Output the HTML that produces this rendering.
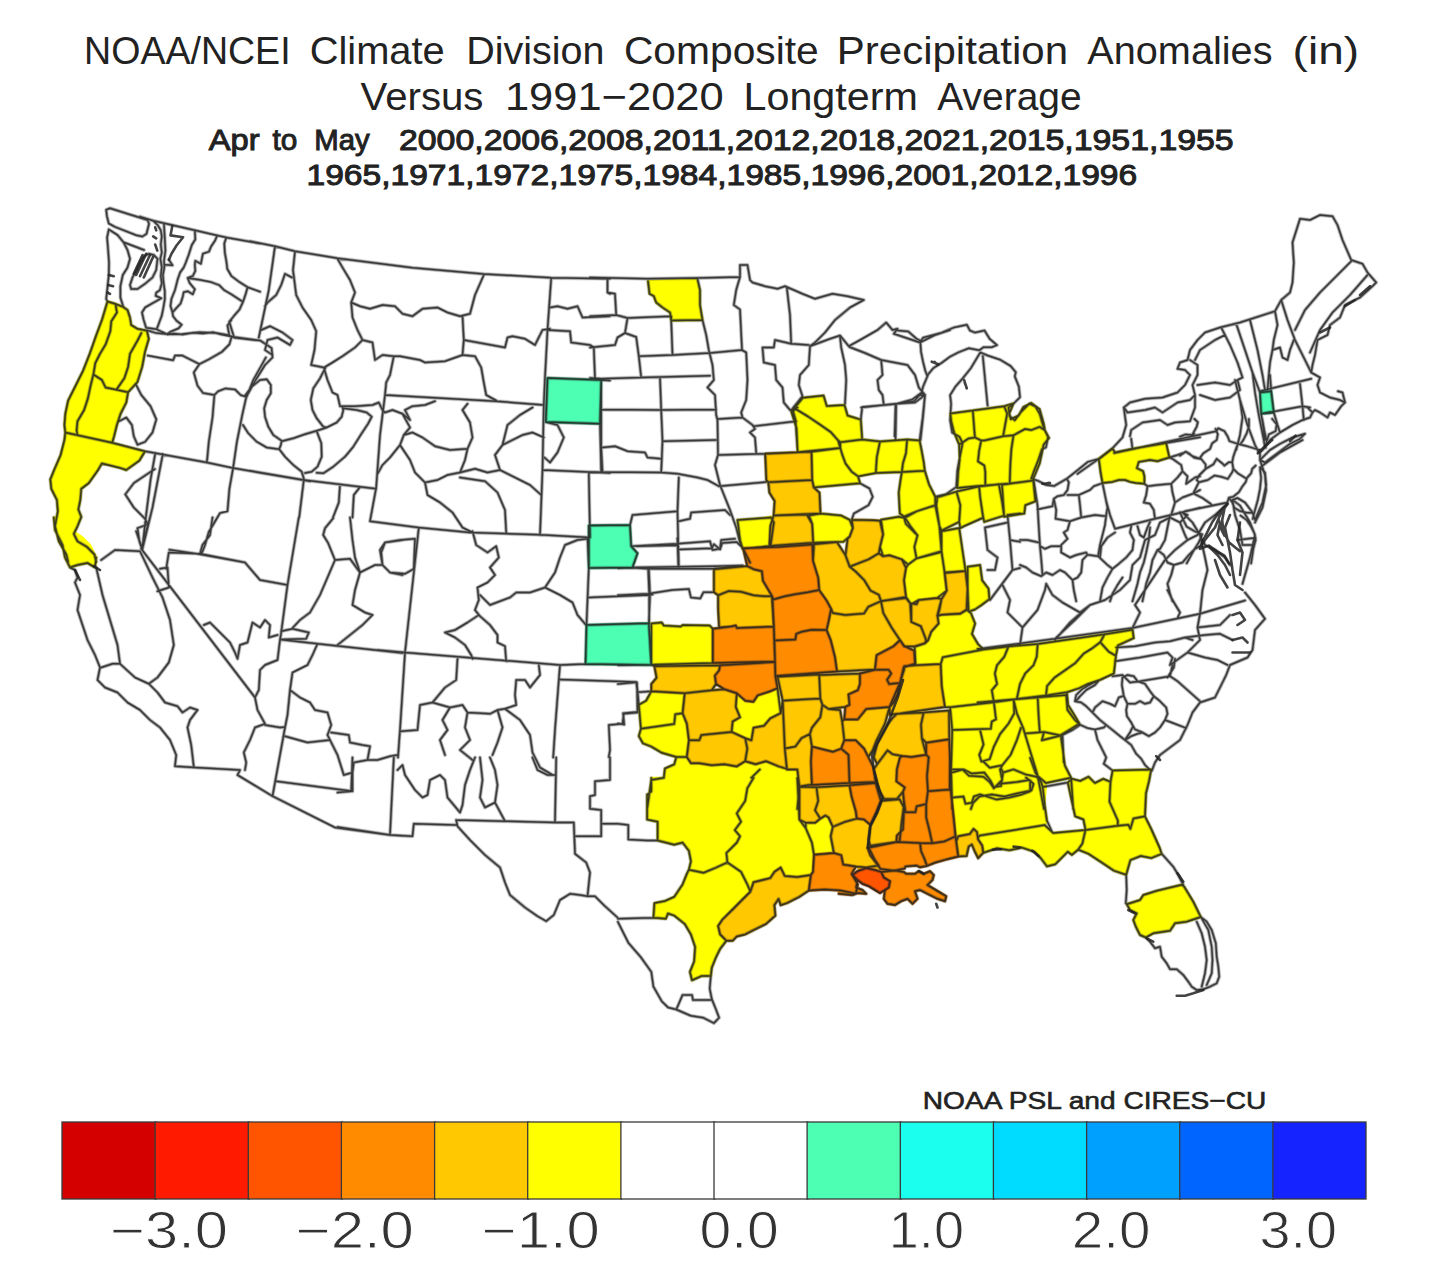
<!DOCTYPE html>
<html><head><meta charset="utf-8"><title>NOAA/NCEI Climate Division Composite Precipitation Anomalies</title>
<style>
html,body{margin:0;padding:0;background:#fff;}
body{width:1440px;height:1280px;overflow:hidden;font-family:"Liberation Sans",sans-serif;}
svg{display:block;position:absolute;left:0;top:0;}
text{font-family:"Liberation Sans",sans-serif;fill:#222;}
.ln{fill:none;stroke:#222;stroke-opacity:0.8;stroke-width:1.5;stroke-linejoin:round;stroke-linecap:round;}
.tk{fill:none;stroke:#222;stroke-opacity:0.85;stroke-width:2.6;stroke-linejoin:round;stroke-linecap:round;}
.t1{}
.t3{stroke:#222;stroke-width:1.0;}
.cb{fill:#333;stroke:#fff;stroke-width:0.9;}
.cr{stroke:#222;stroke-width:0.6;}
.lh{fill:none;stroke:#222;stroke-opacity:0.4;stroke-width:3;stroke-linejoin:round;stroke-linecap:round;}
.lg{fill:none;stroke:#222;stroke-opacity:0.12;stroke-width:4.4;stroke-linejoin:round;stroke-linecap:round;}
</style></head><body>
<svg width="1440" height="1280" viewBox="0 0 1440 1280">
<rect width="1440" height="1280" fill="#fff"/>
<g>
<g stroke="#3a3a3a" stroke-width="1.3">
<rect x="62" y="1122" width="94" height="77" fill="#d40000"/>
<rect x="155.1" y="1122" width="94" height="77" fill="#ff1a00"/>
<rect x="248.3" y="1122" width="94" height="77" fill="#ff5500"/>
<rect x="341.4" y="1122" width="94" height="77" fill="#ff8c00"/>
<rect x="434.6" y="1122" width="94" height="77" fill="#ffc800"/>
<rect x="527.7" y="1122" width="94" height="77" fill="#ffff00"/>
<rect x="620.9" y="1122" width="94" height="77" fill="#ffffff"/>
<rect x="714" y="1122" width="94" height="77" fill="#ffffff"/>
<rect x="807.1" y="1122" width="94" height="77" fill="#4dffb3"/>
<rect x="900.3" y="1122" width="94" height="77" fill="#1affee"/>
<rect x="993.4" y="1122" width="94" height="77" fill="#00dcff"/>
<rect x="1086.6" y="1122" width="94" height="77" fill="#00a0ff"/>
<rect x="1179.7" y="1122" width="94" height="77" fill="#0064ff"/>
<rect x="1272.9" y="1122" width="93.1" height="77" fill="#1423ff"/>
</g>
<text class="t1" xml:space="preserve" font-size="38.5" transform="translate(84.07,63.50) scale(0.9756,1)">NOAA/NCEI</text>
<text class="t1" xml:space="preserve" font-size="38.5" transform="translate(309.63,63.50) scale(1.0362,1)">Climate</text>
<text class="t1" xml:space="preserve" font-size="38.5" transform="translate(466.22,63.50) scale(1.0264,1)">Division</text>
<text class="t1" xml:space="preserve" font-size="38.5" transform="translate(623.88,63.50) scale(1.0594,1)">Composite</text>
<text class="t1" xml:space="preserve" font-size="38.5" transform="translate(836.72,63.50) scale(1.0922,1)">Precipitation</text>
<text class="t1" xml:space="preserve" font-size="38.5" transform="translate(1087.30,63.50) scale(1.0303,1)">Anomalies</text>
<text class="t1" xml:space="preserve" font-size="38.5" transform="translate(1292.61,63.50) scale(1.1961,1)">(in)</text>
<text class="t1" xml:space="preserve" font-size="38.5" transform="translate(360.60,110.00) scale(1.0440,1)">Versus</text>
<text class="t1" xml:space="preserve" font-size="38.5" transform="translate(504.91,110.00) scale(1.1291,1)">1991−2020</text>
<text class="t1" xml:space="preserve" font-size="38.5" transform="translate(743.48,110.00) scale(1.0720,1)">Longterm</text>
<text class="t1" xml:space="preserve" font-size="38.5" transform="translate(937.30,110.00) scale(1.0121,1)">Average</text>
<text class="t3" xml:space="preserve" font-size="30" transform="translate(208.75,150.00) scale(1.0870,1)">Apr</text>
<text class="t3" xml:space="preserve" font-size="30" transform="translate(272.50,150.00) scale(0.9896,1)">to</text>
<text class="t3" xml:space="preserve" font-size="30" transform="translate(314.30,150.00) scale(0.9773,1)">May</text>
<text class="t3" xml:space="preserve" font-size="30" transform="translate(398.99,150.00) scale(1.1279,1)">2000,2006,2008,2011,2012,2018,2021,2015,1951,1955</text>
<text class="t3" xml:space="preserve" font-size="30" transform="translate(306.51,184.80) scale(1.1194,1)">1965,1971,1972,1975,1984,1985,1996,2001,2012,1996</text>
<text class="cr" xml:space="preserve" font-size="24.5" transform="translate(922.70,1109.00) scale(1.1486,1)">NOAA PSL and CIRES−CU</text>
<text class="cb" xml:space="preserve" font-size="51" transform="translate(110.16,1248.00) scale(1.1701,1)">−3.0</text>
<text class="cb" xml:space="preserve" font-size="51" transform="translate(295.65,1248.00) scale(1.1753,1)">−2.0</text>
<text class="cb" xml:space="preserve" font-size="51" transform="translate(481.65,1248.00) scale(1.1753,1)">−1.0</text>
<text class="cb" xml:space="preserve" font-size="51" transform="translate(699.46,1248.00) scale(1.1194,1)">0.0</text>
<text class="cb" xml:space="preserve" font-size="51" transform="translate(888.75,1248.00) scale(1.0615,1)">1.0</text>
<text class="cb" xml:space="preserve" font-size="51" transform="translate(1071.67,1248.00) scale(1.1106,1)">2.0</text>
<text class="cb" xml:space="preserve" font-size="51" transform="translate(1259.51,1248.00) scale(1.0940,1)">3.0</text>

<!--MAP-->
<path fill="#ffff00" stroke="#ffff00" stroke-width="2.4" stroke-linejoin="round" d="M115,303.7 123.1,306.9 127.6,310.1 130,317.6 131.3,325.1 137.5,328.8 146.3,330.7 148.8,338.8 145,351.9 142.2,366.9 137.5,381.9 128.1,392.2 126.3,402.5 120.6,413.8 116.9,425 114.1,436.3 112.2,442.8 65.3,432.5 64.4,425 65.3,413.8 68.1,400.6 75.6,385.6 83.1,370.6 89.7,353.8 96.3,335 101.9,320 107.5,301.4ZM112.2,442.8 145,451.3 139.4,460.6 126.3,470 120.6,468.1 101.9,463.4 98.1,470 88.8,483.1 81.3,488.8 80.3,500 78.4,509.4 81.3,516.9 77.5,526.3 73.8,533.8 77.5,541.3 86.9,546.9 94.4,554.4 96.3,561.9 68.1,561.9 66.3,554.4 58.8,541.3 55,526.3 57.8,511.3 56.9,500 51.3,488.8 50.3,479.4 54.1,470 60.6,455 64.4,440 65.3,432.5ZM648,281.2 696.2,279.5 700,290 700,305 702.5,320 671.2,320.5 670,312.5 662.5,307.5 656.2,302.5 653.8,296.2 649.5,293.8ZM791.3,411.3 794.4,408.2 808,416.5 820.5,424.9 830.9,432.2 838.2,440.5 840.3,448 797.6,452.2 796.5,428ZM794.4,408.2 802.8,397.7 823.6,395.6 826.8,406.1 844.5,405 847.6,415.5 860.8,419.6 862.2,439.5 840.3,442.2 838.2,440.5 830.9,432.2 820.5,424.9 808,416.5ZM840.3,442.2 862.2,439.5 880,441.5 876.8,457.2 875.8,473.1 858.1,476.4 851.8,471.8 845.5,463.5 842.4,455.1 840.3,448ZM880,441.5 907.1,439.5 906,453 902.9,463.5 901.9,472 875.8,473.1 876.8,457.2ZM907.1,439.5 919.6,440.5 921.7,450.9 923.8,462.4 924.8,470.8 901.9,472 902.9,463.5 906,453ZM811.5,451.8 840.3,448 842.4,455.1 845.5,463.5 851.8,471.8 858.1,476.4 860.1,483.3 813.8,487.4 812.2,480.1ZM755.8,519.4 771.5,516.7 770.4,526 769.4,545.9 755.8,546.9ZM809,515.6 820.5,513.5 841.4,515.6 849.7,519.8 852.8,528.1 849.7,536.5 843.5,541.7 813.2,542.7 812.2,524ZM901.9,472 924.8,470.8 929,484.3 935.3,496.8 935.3,505.2 916.5,511.4 904,516.7 899.8,513.5 898.7,492.7 900.8,478.1ZM905,517.7 916.5,511.4 935.3,505.2 939.4,526 941.5,551.1 916.5,558.4 914.4,546.9 917.5,535.4 910.2,526ZM881,519.8 898.7,516.7 904,517.7 906,524 917.5,535.4 914.4,546.9 916.5,558.4 908.1,564.6 901.9,559.4 889.4,555.3 883.1,556.3 880,546.9 883.1,534.4ZM908.1,564.6 916.5,558.4 941.5,552.1 944.6,571.9 946.7,590.7 937.3,598 918.6,600.1 916.5,604.3 910.2,603.2 906,597 904,580.3 906,567.8ZM937.3,497.3 956.5,491.6 960.3,505.2 959.2,521.9 941.5,530.6 939.4,526 936.3,505.2ZM956.5,491.6 979.1,486.4 980.1,496.8 983.2,517.7 964.5,526 960.3,528.1 959.2,521.9 960.3,505.2ZM979.1,486.4 998.9,484.3 1002,501 1004.1,515.6 984.3,521.9 983.2,517.7 980.1,496.8ZM941.5,531.3 959.2,528.1 964.5,563.6 965.5,570.9 944.6,572.4 941.5,551.1ZM967.6,566.7 980.1,565.1 982.2,580.3 988.5,588.6 989.5,599.1 981.2,605.3 974.9,609.5 968.6,611.6 967.6,588.6ZM1002,484.7 1033.3,480.6 1035.4,501.4 1025.4,505.2 1024.3,513.5 1004.1,516.7ZM959.2,444.7 968.6,438.4 974.9,437.4 981.2,440.5 979.1,450.9 978,461.4 984.3,465.5 985.3,471.8 985.3,485.4 978,486 957.2,488.1 958.2,471.8 959.7,459.3ZM950.3,413.4 972.8,410.5 974.9,437.4 968.6,438.4 959.2,444.7 954,432.2 951.3,421.7ZM972.8,410.5 1004.1,406.3 1007.2,413.4 1003.1,436.3 984.3,440.5 981.2,440.5 974.9,437.4ZM1004.1,406.3 1013.5,403.4 1009.3,413.4 1010.8,419.2 1018.7,415.5 1023.3,407.1 1031.2,403 1039.6,409.2 1043.7,423.8 1044.8,430.1 1039.6,426.9 1031.2,430.1 1025,429 1013.5,435.3 1003.1,436.3 1007.2,413.4ZM984.3,440.5 1003.1,436.3 1013.5,435.3 1011.4,448.9 1010.4,463.5 1009.7,483.5 985.3,485.4 985.3,471.8 984.3,465.5 978,461.4 979.1,450.9 981.2,440.5ZM1013.5,435.3 1025,429 1031.2,430.1 1039.6,426.9 1044.8,430.1 1049,438 1043.7,444.7 1039.6,463.5 1033.7,477.6 1033.3,480.6 1009.7,483.5 1010.4,463.5 1011.4,448.9ZM651.3,623.5 661.7,622.4 663.8,625.5 680.5,626.6 682.6,625.1 709.7,625.5 712.8,628.7 712.8,663.1 651.3,664.8ZM651.3,691.3 684.7,693.3 682.6,713.2 675.3,714.2 674.2,724 640.9,728.8 638.8,704.8 646.1,700.7ZM736.8,693.3 745.2,700.7 753.5,701.7 757.7,695.4 770.2,691.3 777.5,688.1 780.7,713.2 770.2,718.4 764,725.7 753.5,727.8 751.4,740.3 745.2,738.2 731.6,731.9 732.7,721.5 740,717.3 735.8,706.9ZM640.9,728.8 674.2,724 675.3,714.2 682.6,713.2 686.8,723.6 688.9,740.3 686.8,757 676.3,757 661.7,752.8 651.3,746.6 643,743.4 638.8,736.1ZM647.1,809.1 651.3,779.9 663.8,777.8 664.9,768.5 674.2,764.3 676.3,757 686.8,757 690.9,763.2 699.3,763.2 711.8,765.3 724.3,764.3 736.8,766.4 745.2,761.2 755.6,764.3 759.8,769.5 749.4,779.9 745.2,790.4 743.1,809.1ZM759.8,769.5 755.6,764.3 766,761.2 778.6,766.4 786.9,768.9 797.3,769.5 799.4,786.6 797.3,809.1 743.1,809.1 745.2,790.4 749.4,779.9ZM914.6,646.8 925,643.3 928.2,640.1 931.3,631.8 938.6,623.5 937.6,616.2 941.5,614.7 960.3,613.6 966.8,609.9 970.9,613 975.1,623.5 972,633.9 978.2,644.3 983.5,649.5 942.8,657.3 940.7,664.1 915.6,665.2ZM942.8,657.3 983.5,649.5 1008.5,646.4 1004.3,656.8 997,665.2 994.9,673.5 997,684 991.8,690.2 993.9,702.3 950.1,707.3 944.9,706.9 941.7,686 940.7,664.1ZM1008.5,646.4 1037.7,643.9 1036.7,656.8 1033.5,665.2 1025.2,673.5 1020,684 1016.8,699 993.9,702.3 991.8,690.2 997,684 994.9,673.5 997,665.2 1004.3,656.8ZM1037.7,643.9 1104.5,634.3 1100.3,642.2 1091.9,648.5 1083.6,653.7 1075.3,663.1 1064.8,670.4 1054.4,677.7 1047.1,686 1046,695.4 1016.8,699 1020,684 1025.2,673.5 1033.5,665.2 1036.7,656.8ZM1104.5,634.3 1132.6,629.7 1133.7,638.1 1118,645.4 1115.9,655.8 1113.9,673.5 1100.3,679.8 1087.8,684 1079.4,688.1 1066.9,692.3 1046,695.4 1047.1,686 1054.4,677.7 1064.8,670.4 1075.3,663.1 1083.6,653.7 1091.9,648.5 1100.3,642.2ZM950.1,707.3 993.9,702.3 1016.8,699 1046,695.4 1066.9,692.3 1068,704.8 1073.2,713.2 1079.4,723.6 1071.1,728.8 1060.7,735.1 1062.7,748.6 1064.8,765.3 1071.1,777.8 1046,783.1 1044,809.1 952.2,809.1 951.1,769.5 952.2,729.9ZM753.5,777.9 747.3,788.3 745.2,800.9 736.8,813.4 741,821.7 734.8,830.1 740,836.3 736.8,842.6 726.4,853 727.4,862.4 716,867.6 703.5,872.8 688.9,869.7 690.9,861.4 688.9,850.9 682.6,842.6 674.2,844.7 657.6,840.5 657.6,821.7 647.1,819.6 647.1,794.6 651.3,791.5 651.3,777.9ZM753.5,777.9 797.3,777.9 799.4,819.6 805.7,828 811.9,842.6 814,855.1 813,871.8 810.9,874.9 797.3,877 784.8,876 780.7,867.6 774.4,871.8 770.2,878.1 753.5,882.2 750.4,891.6 747.3,884.3 741,871.8 727.4,862.4 726.4,853 736.8,842.6 740,836.3 734.8,830.1 741,821.7 736.8,813.4 745.2,800.9 747.3,788.3ZM688.9,869.7 703.5,872.8 716,867.6 727.4,862.4 741,871.8 747.3,884.3 750.4,891.6 743.1,898.9 732.7,909.4 722.2,919.8 718.1,926 720.1,934.4 726.4,940.7 720.1,949 716,957.3 711.8,967.8 710.8,976.1 701.4,976.1 692,980.3 689.9,971.9 694.1,961.5 695.1,946.9 690.9,934.4 684.7,924 674.2,915.6 668,913.5 665.9,918.7 653.4,917.7 654.4,903.1 664.9,901 674.2,896.8 682.6,884.3 686.8,873.9ZM805.7,822.8 815.1,822.8 820.3,818.6 825.5,815.5 828.6,817.6 832.8,826.9 830.7,836.3 833.9,853 814,854.7 811.9,842.6 805.7,828ZM949.9,757.9 1030.2,757.9 1035.4,772.5 1040.7,780.9 1042.7,787.1 1044.8,805.9 1046.9,820.5 1044.8,825.1 980.1,835.5 978.1,837.2 977,832 973.5,828.9 969.7,834.1 958.2,836.2 956.2,841.4 954.1,822.6 950.9,791.3ZM978.1,839.3 978.1,837.2 980.1,835.5 1044.8,825.1 1053.2,833 1085.5,829.9 1082.4,843.5 1078.2,849.7 1071.9,854.9 1067.8,851.8 1055.3,864.3 1046.9,866.4 1040.7,858.1 1034.4,851.8 1021.9,847.6 1009.4,850.3 996.8,848.3 983.3,852.8 982.2,845.5ZM1085.5,829.9 1117.8,825.7 1128.3,824.7 1130.4,828.9 1133.5,818.4 1145,816.3 1151.2,828.9 1159.6,847.6 1161.7,853.9 1151.2,858.1 1140.8,856 1130.4,860.1 1126.2,874.8 1113.7,870.6 1101.2,862.2 1088.6,853.9 1078.2,849.7 1082.4,843.5ZM1067.8,782.5 1071.9,778.8 1080.3,780.9 1088.6,776.7 1094.9,783 1103.2,778.8 1110.5,781.9 1109.5,801.7 1117.8,820.5 1117.8,825.7 1085.5,829.9 1083.4,819.5 1075.1,816.3ZM1110.5,781.9 1112.6,770.4 1151.2,769.4 1149.1,780.9 1146,793.4 1145,816.3 1133.5,818.4 1130.4,828.9 1128.3,824.7 1117.8,825.7 1117.8,820.5 1109.5,801.7ZM737.5,520 771,517.5 773.8,522.5 770.5,546 742.5,548.8 740,540ZM72.5,517.5 75,532.5 82.5,537.5 90,545 96.2,557.5 95,567.5 87.5,563 77.5,565 70,567.5 65,557.5 62.5,545 55,530 53.8,517.5ZM1126.7,904.2 1140,900 1143.3,895 1156.7,890.8 1181.7,884.7 1184.2,886.7 1193.3,901.7 1200.8,917 1186.7,921.7 1175,923.3 1170,930.8 1153.3,933.3 1145.8,937.5 1140,935 1135.8,926.7 1133.3,920 1136.7,913.3 1130,910ZM1098.8,458.8 1112.5,448.5 1115,452.5 1132.5,448.8 1166.2,443.1 1169.4,457.5 1161.2,460 1157.5,461.2 1150,460 1138.8,461.9 1136.9,468.1 1143.1,471.2 1144.4,476.2 1144.4,483.8 1136.2,483.1 1130,481.9 1125,480 1118.8,480 1112.5,481.9 1102.5,483.1 1100.6,472.5Z"/>
<path fill="#4dffb3" stroke="#4dffb3" stroke-width="2.4" stroke-linejoin="round" d="M547.5,378 601.2,380 600,423.8 545.8,422ZM1260,392.5 1271.2,391.2 1273.8,412.5 1261.2,413.8ZM588.8,525.5 630,525 631.2,546.2 637.5,553.2 632.5,567.5 588.8,568ZM586.5,625 648.8,623.2 651.2,665 585.5,664Z"/>
<path fill="#ffc800" stroke="#ffc800" stroke-width="2.4" stroke-linejoin="round" d="M765.2,453.6 811.5,451.8 812.2,480.1 768.3,482.2 766.3,480.1ZM768.3,482.2 812.2,480.1 813.8,487.4 819.5,492.7 820.5,513.5 773.6,515.6 774.6,501 769.4,492.7ZM773.6,515.6 806.9,514.6 812.2,524 813.2,542.7 769.4,545.9 770.4,526ZM851.8,519.8 873.7,520.2 880,520.8 883.1,534.4 880,546.9 878.9,553.2 868.5,559.4 849.7,566.7 845.5,555.3 847.6,538.6 849.7,536.5 852.8,528.1ZM849.7,566.7 868.5,559.4 878.9,553.2 883.1,556.3 889.4,555.3 901.9,559.4 906,567.8 904,580.3 906,597 881,601.2 878.9,594.9 870.6,590.7 864.3,580.3 856,571.9ZM944.6,573 965.5,570.9 967.6,588.6 966.6,609.5 960.3,613.7 941.5,614.7 937.3,615.8 941.5,599.1 946.7,590.7ZM713.9,569.2 747.3,566.1 753.5,569.2 761.9,571.3 762.9,580.7 771.9,595.9 764,596.3 753.5,595.3 741,591.7 728.5,591.1 718.1,595.3 713.9,592.2ZM718.1,595.3 728.5,591.1 741,591.7 753.5,595.3 764,596.3 771.9,595.9 773.8,626.6 736.8,628 735.8,625.5 730.6,626.6 719.1,627.6 718.1,608.9ZM814,544.2 837,542.1 845.5,555.2 849.7,566.7 856,571.9 864.3,580.3 870.6,590.7 878.9,594.9 881,601.1 868.3,606.8 864.1,613.4 845.3,615.1 832.8,613 831.1,608.9 826.6,600.5 819.2,590.1 818.2,577.6 813,560.9ZM832.8,613 845.3,615.1 864.1,613.4 868.3,606.8 881,601.1 883.3,613 891.6,627.6 900,640.1 893.3,646.4 876.6,655.2 875,669.4 837,671.4 834.9,656.8 830.7,640.1 826.6,630.1 828.6,621.4 831.1,608.9ZM777.5,676.7 819.2,674.6 820.3,698.6 801.5,699.6 782.7,700.7ZM819.2,675 859.9,673.5 859.9,684 857.8,690.2 848.5,694.4 849.5,704.8 845.3,706.9 828.6,709 822.4,704.8 820.3,698.6ZM782.7,700.7 801.5,699.6 820.3,698.6 822.4,704.8 820.3,717.3 811.9,727.8 809.9,734 801.5,738.2 795.3,746.6 784.8,748.6ZM822.4,704.8 828.6,709 840.1,710 842.2,721.5 844.3,740.3 841.2,748.6 832.8,751.8 811.9,746.6 809.9,734 811.9,727.8 820.3,717.3ZM844.3,719.4 857.8,719.4 866.2,709 889.6,706.9 885,723.6 876.6,740.3 872.5,750.7 868.3,757 864.1,748.6 855.8,740.3 844.3,740.3 842.2,721.5ZM784.8,748.6 795.3,746.6 801.5,738.2 809.9,734 811.9,746.6 810.9,761.2 811.9,784.5 799.4,786.6 797.3,769.5 786.9,769.5ZM654.4,666.2 720.1,665.2 719.1,670.4 714.9,675.6 716,684 711.8,690.2 684.7,693.3 651.3,691.3 651.3,684 656.5,677.7ZM684.7,693.3 711.8,690.2 724.3,689.2 736.8,693.3 735.8,706.9 740,717.3 732.7,721.5 731.6,731.9 701.4,735.1 699.3,740.3 688.9,740.3 686.8,723.6 682.6,713.2ZM688.9,740.3 699.3,740.3 701.4,735.1 731.6,731.9 745.2,738.2 747.3,748.6 745.2,761.2 736.8,766.4 724.3,764.3 711.8,765.3 699.3,763.2 690.9,763.2 686.8,757ZM751.4,740.3 753.5,727.8 764,725.7 770.2,718.4 780.7,713.2 782.7,700.7 784.8,748.6 786.9,768.9 778.6,766.4 766,761.2 755.6,764.3 745.2,761.2 747.3,748.6 745.2,738.2ZM881,601.1 906.1,598 910.2,603.2 911.3,622 920.7,626.2 923,631.8 926.1,640.1 925,643.3 914.6,646.4 904.2,646.4 900,640.1 891.7,627.6 883.3,613ZM911.3,604.3 918.6,600.1 937.3,598 941.5,599 939.6,608.9 937.6,616.2 938.6,623.5 931.3,631.8 928.2,640.1 925,643.3 926.1,640.1 923,631.8 920.9,626.2 911.3,622ZM904.2,666.2 915.6,665.2 940.7,664.1 941.7,686 944.9,706.9 900,713.6 889.6,714.8 889.6,706.9 900,682.9 904.2,669.4ZM750.4,891.6 753.5,882.2 770.2,878.1 774.4,871.8 780.7,867.6 784.8,876 797.3,877 810.9,874.9 808.8,890.6 799.4,896.8 786.9,903.1 780.7,905.2 778.6,898.9 774.4,905.2 775.4,915.6 766,924 753.5,930.2 745.2,934.4 736.8,936.5 732.7,940.7 726.4,940.7 720.1,934.4 718.1,926 722.2,919.8 732.7,909.4 743.1,898.9ZM799.4,786.7 816.5,787.3 818.2,800.9 815.1,810.3 820.3,818.6 815.1,822.8 805.7,822.8 799.4,819.6ZM816.5,787.3 849.5,785.2 851.6,796.7 855.8,811.3 856.8,818.6 845.3,821.7 832.8,826.9 828.6,817.6 825.5,815.5 820.3,818.6 815.1,810.3 818.2,800.9ZM832.8,826.9 845.3,821.7 856.8,818.6 864.1,819.6 870.4,824.9 868.3,846.8 874.5,859.3 878.7,865.5 866.2,867.6 855.8,866.6 843.2,864.5 841.2,855.1 833.9,853 830.7,836.3ZM870.4,824.9 876.6,811.3 880.8,800.9 899.6,799.2 903.7,807.1 901.7,821.7 899.6,841.5 868.3,847.2ZM956.2,841.4 958.2,836.2 969.7,834.1 973.5,828.9 977,832 978.1,839.3 982.2,845.5 983.3,852.8 978.1,858.1 974.9,851.8 971.8,844.5 968.7,846.6 966.6,856 958.2,856.4ZM896.9,713.8 923.6,712.6 921,724.7 921.9,738.4 926.2,754.7 911.5,757 902.1,755.9 892.6,754.2 887.5,750.4 877.2,764.2 873.7,757.3 877.2,743.6 887.5,724.7 892.6,717.8ZM923.6,712.6 949,710.6 949.3,739.3 926.2,742.7 921.9,738.4 921,724.7ZM877.2,764.2 887.5,750.4 892.6,754.2 902.1,755.9 899.9,757.7 896.9,769.3 896.4,781.4 904.7,787.4 903,791.7 896.9,798.9 884.1,798.9 878.9,790 873.7,769.3ZM882.3,798.9 896.9,798.9 903,791.7 903.8,800.3 903.8,812.3 903,829.5 896.9,835.5 896.4,841.9 870.3,845.8 868.6,839.8 870.3,826 877.2,812.3ZM858.3,820.9 868.6,826 866.9,846.7 870.3,855.3 875.5,862.1 880.6,869 873.7,867.3 858.3,869Z"/>
<path fill="#ff8c00" stroke="#ff8c00" stroke-width="2.4" stroke-linejoin="round" d="M712.8,628.7 730.6,626.6 735.8,625.5 736.8,628 773.8,626.6 775,661.4 712.8,663.1ZM743.1,548.3 778.6,546.9 812.4,544.6 813,560.9 818.2,577.6 819.2,590.1 807.8,592.2 795.3,594.2 784.8,596.3 773.3,599.5 771.9,595.9 762.9,580.7 761.9,571.3 753.5,569.2 747.3,566.1ZM773.3,599.5 784.8,596.3 795.3,594.2 807.8,592.2 819.2,590.1 826.6,600.5 831.1,608.9 828.6,621.4 826.6,630.1 811.9,629.7 801.5,631.8 796.3,633.9 795.3,639.5 774.4,640.6 773.8,626.6 772.5,599.5ZM774.4,640.6 795.3,639.5 796.3,633.9 801.5,631.8 811.9,629.7 826.6,630.1 830.7,640.1 834.9,656.8 837,671.4 775.4,676 775,661.4ZM876.6,655.2 893.3,646.4 900,640.1 904.2,646 914.2,650.6 915,663.7 903.7,667.3 900,682.9 889.1,684 887.1,679.8 891.2,673.5 888.7,669.8 875,669.4ZM859.9,673.5 875,669.8 888.7,669.8 891.2,673.5 887.1,679.8 889.1,684 900,682.9 897.5,694.4 893.3,702.7 889.6,706.9 866.2,709 857.8,719.4 844.3,719.4 845.3,706.9 849.5,704.8 848.5,694.4 857.8,690.2 859.9,684ZM811.9,746.6 832.8,751.8 841.2,748.6 848.5,754.9 849.5,783.1 811.9,785.1 810.9,761.2ZM841.2,748.6 844.3,740.3 855.8,740.3 864.1,748.6 868.3,757 873.5,767.4 875.6,782 849.5,783.1 848.5,754.9ZM720.1,665.2 775,662.1 775.4,676 777.5,688.1 770.2,691.3 757.7,695.4 753.5,701.7 745.2,700.7 736.8,693.3 724.3,689.2 716,684 714.9,675.6 719.1,670.4ZM849.5,785.2 875.6,783.1 880.8,800.9 876.6,811.3 870.4,824.9 864.1,819.6 856.8,818.6 855.8,811.3 851.6,796.7ZM814,854.7 833.9,853 841.2,855.1 843.2,864.5 855.8,866.6 851.6,873.9 857.8,884.3 855.8,893.7 841.2,890.6 824.5,889.5 808.8,890.6 810.9,874.9 813,871.8ZM926.2,742.7 949.3,739.3 949.9,757.8 949.7,789.6 927.9,791.3 927,776.2 928.7,757.3 926.2,754.7ZM902.1,755.9 911.5,757 926.2,754.7 928.7,757.3 927,776.2 927.9,791.3 926.2,804.1 916.7,806.3 915.3,812.3 905.5,812 903.8,800.3 903,791.7 904.7,787.4 896.4,781.4 896.9,769.3 899.9,757.7ZM927.9,791.3 949.7,789.6 950.9,791.3 954.2,822.6 955.4,836.4 944.2,841.5 932.2,843.2 929.6,831.2 926.2,817.5 926.2,804.1ZM905.5,812 915.3,812.3 916.7,806.3 926.2,804.1 926.2,817.5 929.6,831.2 932.2,843.2 920.1,842.9 896.4,841.9 896.9,835.5 903,829.5 903.8,812.3ZM920.1,842.9 932.2,843.2 944.2,841.5 955.4,836.4 956.2,841.3 958.3,856.5 945.9,859.6 935.6,862.5 927,865.9 924.4,858.7 921,851ZM867.7,848 896.4,841.9 920.1,842.9 921,851 924.4,858.7 927,865.9 920.1,867.3 916.7,865.6 905.5,866.4 904.7,868.5 894.4,870.7 880.6,869 875.5,862.1 870.3,855.3ZM881.2,871.9 895,870.6 903.8,871.9 906.2,873.8 915,873.8 918.8,871.2 923.8,873.8 930,871.2 933.8,875 932.5,880 927.5,885 940,892.5 946.2,896.2 945,901.2 937.5,898.8 927.5,893.8 920,890 915,891.2 917.5,898.8 912.5,903.8 907.5,898.8 901.2,901.2 895,905 887.5,903.8 883.8,898.8 885,890 888.8,887.5 890,881.2 883.8,877.5ZM842.5,865 851.2,867.5 852.5,875 857.5,880 856.2,887.5 862.5,890 866.2,893.8 857.5,893.1 852.5,895 838.8,893.8 838.8,875Z"/>
<path fill="#ff5500" stroke="#ff5500" stroke-width="2.4" stroke-linejoin="round" d="M852.5,875 857.5,871.2 866.2,868.1 875,870 881.2,871.9 883.8,877.5 890,881.2 888.8,887.5 885,890 880,893.1 875,890 868.8,886.2 862.5,883.8 857.5,880Z"/>
<path class="lg" d="M106.2,209.8 110,208.2 127.5,213.8 147.5,220 149,223.8 146.5,233.8 142.5,236.5 136.2,235.2 115,226.9 108.8,223.5 106.9,216.2ZM108.8,229.4 107.1,237.5 108.1,250 109,262.5 108.8,275 107.5,287.5 106.2,298.8 107.5,301.5M108.8,229.4 117.5,235 123.5,242.2 127.5,250 130,258.8 127.5,267.5 122.8,275 120.4,286.2 120.4,297.5 123.1,306.2M131.2,289 130,285 132.5,277.5 136.5,270 140.2,262.5 144,256.2 148.8,253.8 153.8,255 157.5,258.8 156.2,270 152.5,277.5 145,283.8 137.5,289ZM123.5,242.2 137.5,247.5 144,250M107.5,301.5 115,303.8 123.1,306.9 127.5,310 130,317.5 131.2,325 137.5,328.8 146.2,330.6M140,216.6 153.2,220.7 194.8,230.3 217.2,235.4 226.3,237.4 260,243.5M153.2,220.7 157.8,225.2 160.8,230.3 161.8,236.4 160.8,244.5 161.8,252.6 160.3,258.7 161.8,266.9 160.8,276 161.8,283.1 159.8,290.2 156.2,292.7 155.7,295.8 161.3,298.3 152.2,303.4 145.1,307.5 142,312.5 143.6,319.6 146.1,327.8M163.9,223.2 164.6,235.4 165.4,250.6 164,260.8 164.4,266.9 162.9,275 163.6,283.1 164.8,291.2 164.8,299.3 163.4,307.5 161.8,315.6 159.1,322.7 156.8,329M168.9,259.7 172.5,265.3 165.4,264.8M194.8,230.3 195.3,239.4 191.8,245 188.7,254.7 185.7,262.8 183.7,267.5 180.1,272.5 177.5,280.1 175,290 171.5,298.7 170.5,305.9 172.5,312.5M217.2,235.4 215.1,240.5 211.1,246.5 209,251.6 202.9,253.7 201.9,258.7 200.9,263.8 195.3,260.8 194.8,264.8 195.3,270.9 192.8,276 187.7,278 189.7,283.1 194.8,289.2 192.8,294.3 187.7,291.2 183.7,292.2 182.6,297.3 180.6,303.4 175.5,309 172.5,312.5 173,316.1 176.5,320.7 181.6,324.7 178.6,328.3 170.5,331.8 167.4,334.1M226.3,237.4 224.3,243.5 224.8,252.6 226.3,260.8 227.3,268.9 231.4,276 239.5,282.1 247.6,287.2 260,291.7M247.6,287.2 245.6,294.3 243,301.9M187.7,278 200.9,280.1 211.1,282.1 219.2,285.1 224.3,290.2 231.4,294.3 243,301.9 239.5,309.5 233.4,316.6 229.3,321.7 231.4,328.8 233.9,336.9M146.1,327.8 156.8,329.3 161.8,331.8 167.4,334.4 173.5,333.4 182.6,334.4 192.8,332.8 202.9,333.4 213.1,332.3 221.2,334.4 233.9,336.9 260,340.5M107.5,301.4 101.9,320 96.3,335 89.7,353.8 83.1,370.6 75.6,385.6 68.1,400.6 65.3,413.8 64.4,425 65.3,432.5 64.4,440 60.6,455 54.1,470 50.3,479.4 51.3,488.8 56.9,500 57.8,511.3 55,526.3 58.8,541.3 66.3,554.4 68.1,561.9M65.3,432.5 112.2,442.8 145,451.3 206.9,462.5 233.1,468.1 304.4,480.3 310,481.3M115.6,304.4 116.9,312.5 111.3,321.3 110.3,331.3 105.6,344.4 100,353.8 95.3,363.1 93.4,374.4 101.9,380 105.6,387.5 115,389.4 128.1,392.2M93.4,374.4 90.6,385.6 87.8,398.8 84.1,410 77.5,421.3 76.6,430.6 77.5,434.8M141.3,333.1 137.5,340.6 130,353.8 128.1,366.9 124.4,378.1 116.9,389M146.9,330.3 148.8,338.8 145,351.9 142.2,366.9 137.5,381.9 128.1,392.2 126.3,402.5 120.6,413.8 116.9,425 114.1,436.3 112.2,442.8M146.9,330.3 156.3,333.1 169.4,334.3 182.5,334.1 199.4,332.2 216.3,333.1 227.5,335 235,337.8 260.3,340.6M229.4,335.9 227.5,325.6 231.3,320M147.8,355.6 173.1,360.3 175,355.6 182.5,355.6 199.4,364.1 208.8,359.4 221.9,351.9 229.4,344.4 231.3,337.8M199.4,364.1 193.8,372.5 197.5,385.6 203.1,393.1 214.4,395 218.1,391.3 225.6,388.4 235,389.4 240.6,395 246.3,396.9M260.3,340.6 271.6,348.1 272.5,357.5 265,365 255.6,380 246.3,396.9 242.5,413.8 236.9,441.9 233.1,468.1M214.4,395 212.5,417.5 208.8,441.9 206.9,462.5M135.6,383.8 141.3,395 150.6,406.3 156.3,419.4 152.5,432.5 145,441.9 137.5,444.7 133.8,436.3 131.9,425 126.3,417.5 118.8,421.3M145,451.3 139.4,460.6 126.3,470 120.6,468.1 101.9,463.4 98.1,470 88.8,483.1 81.3,488.8 80.3,500 78.4,509.4 81.3,516.9 77.5,526.3 73.8,533.8 77.5,541.3 86.9,546.9 94.4,554.4 96.3,561.9M162.8,454.1 152.5,507.5 142.2,549.7M155.3,453.1 150.6,479.4 145.9,516.9 142.2,549.7M125.3,494.4 133.8,483.1 145,475.6 154.8,469.1M125.3,494.4 133.8,507.5 145,518.8 147.8,524.4M147.8,524.4 137.5,528.1 139.4,541.3 142.2,549.7M233.1,468.1 229.4,488.8 227.5,511.3 220,513.1 214.4,522.5 208.8,531.9 205,545 201.3,554.4M169.4,549.7 201.3,554.4 242.5,561.9M250,241.2 275,246.2 295,251.2 337.5,258.2 412.5,267.8 483.8,274 551.2,277.8 610,278.8M275,246.2 268.8,290 258.8,337.5M295,251.2 293,270 296.2,295 302.5,307.5 311.2,320 316.2,331.2 314.5,350 311.2,365 323.8,367.5 327.5,380 332.5,392.5 337.5,395 340,406.2 355,406.2 372.5,405 378.8,402.5 382.5,410 385,412.5M292,277.5 285,273.8 281.2,285 276.2,295 267.5,302.5 265,306.2M261.2,330 270,326.2 282.5,332.5 292.5,340 290,345 277.5,337.5 267.5,340 265,350 272.5,355M337.5,258.8 342.5,267.5 350,280 355,292.5 351.2,302.5 352.5,317.5 357.5,330 362.5,340 355,347.5 342.5,356.2 332.5,362.5 325,367M351.2,302.5 360,306.2 370,308.8 382.5,305 395,306.2 402.5,313.8 412.5,316.2 422.5,308.8 437.5,307.5 447.5,312.5 460,316.2 470,313.8 475,295 483.8,275M362.5,340 372.5,342.5 375,360 382.5,355 393.8,356.2 400,356.2 420,360 425,362.5 445,361.2 462.5,355 463.8,340 462.5,316.2M393.8,356.2 390,375 386.2,382.5 385,395M463.8,340 505,347.5 507.5,337.5 512.5,336.2 525,338.8 535,345 542.5,330 550,328.8M462.5,355 475,356.2 481.2,367.5 483.8,382.5 486.2,395 496.2,400.5M385,395 496.2,401.2 543.8,405M551.2,278 547.5,330 545,377.5 543.8,405 542.5,470 540,535M370,521.2 418.2,527.5 470,532.5 540,534.8 590,537.5M385,395 380,435 376.2,487.5 370,521.2M250,470.8 303.8,480 376.2,488.8M385,412.5 392.5,410 402.5,413.8 410,420 405,410 412.5,406.2 425,405 435,401.2M467.5,403.8 462.5,410 470,422.5 472.5,437.5 467.5,448.8 450,450 435,446.2 422.5,437.5 412.5,432.5 403.8,435 400,445 390,457.5 382.5,465 377.5,473.8M402.5,413.8 410,427.5 403.8,435M400,445 410,460 415,472.5 425,482.5 437.5,480 447.5,475 460,472.5 465,460 467.5,448.8M425,482.5 427.5,495 440,502.5 452.5,512.5 462.5,527.5 472.5,532.5M460,472.5 475,468.8 487.5,472.5 500,470 515,477.5 530,485 541.2,495M460,477.5 485,481.2 497.5,492.5 505,510 506.2,532.5M500,470 495,455 502.5,445 522.5,435 532.5,432.5 543.8,437.5M502.5,445 507.5,425 520,415 532.5,407.5M547.5,378 601.2,380 600,423.8 545.8,422ZM545.8,422 557.5,425 563.8,437.5 557.5,452.5 550,462.5 544.5,457.5M543,470 600,472.5 610,473M601.2,380 610,380.5M600,423.8 601.2,472.5M588.8,472.5 590,537M550,307.5 557.5,306.2 567.5,308.8 577.5,306.2 582.5,317.5 610,316.2M547.5,330 570,331.2 571.2,342.5 590,345 593.8,347.5 595,379M607.5,278.8 607.5,292.5 610,293.8M303.8,480 299.2,517.5M340,484.5 338.8,502.5 333,517.5M360,487 353.8,495 352.5,517.5M590,277.5 647.5,278.8 697.5,278 740,277 740,265 747.5,265 750,280 752.5,282.5 765,286.2 777.5,288.8 785,286.2 802.5,293.8 815,298.8 832.5,293.8 847.5,296.2 863.8,300 850,307.5 835,320 825,332.5 815,342.5 810,346.2M697.5,278.8 700,290 700,305 702.5,320 706.2,335 708.8,350 710,355 712.5,365 713.8,380 707.5,387.5 715,395 716.2,415 717.5,420 718,455 715,465 720,485 725,497.5 730,510 736.2,527.5 740,542.5 745,552.5 750,562.5M590,316.2 616.2,315 627.5,318 671.2,316.2 671.2,320.5 702.5,320M590,347.5 615,345 617.5,337.5 625,333 636.2,337 638.8,356.2 672.5,355 709.5,353M607.5,278.8 607.5,292.5 615,293.8 616.2,315M648,281.2 649.5,293.8 653.8,296.2 656.2,302.5 662.5,307.5 670,312.5 671.2,320.5 672.5,355M627.5,318 625,333M638.8,356.2 641.2,377.5M590,378 601.2,378.8 641.2,377.5 710,375.8M601.2,378.8 601.2,425 601.2,447.5 602.5,472M601.2,409.5 660,410 716.2,409.5M660,378 661.2,410 662.5,441.2 661.2,472.5M662.5,441.2 716.2,440M602.5,447.5 615,446.2 627.5,451.2 645,452.5 647.5,457.5 660.8,458.8M590,472.5 602.5,472 661.2,472.5 677.5,473.8 697.5,477.5 707.5,480 718.8,486.2M740,277 736.2,290 733.8,305 740,309.5 742,350 710,353M786.8,287.5 790,315 791.2,343.8 808.8,345M791.2,343.8 775,340 773.8,347.5 762.5,347.5 763.8,362.5 775,365 776.2,380 782.5,387.5 783.8,402.5 790,410 797.5,407.5M742,350 746.2,352.5 747.5,380 746.2,400 741.2,412.5 742.5,417.5M718,419 742.5,417.5 752.5,425 755,428.8 750,432.5 755,437.5 756.2,453M753.8,426.2 775,423.8 796.2,421.2M797.5,407.5 793,411.2 795.5,420 797.5,450M718,455 765,453.8 810,451.8 840,448M810,346.2 808.8,365 800,375 798.8,385 802.5,396.2 793,408M810,346.2 820,342.5 830,338.8 840,335.5 848.8,346.2 860,340 877.5,330 886.2,322.5 892.5,330 897.5,328.8 893.8,333.8 905,337.5 920,342.5 935,335 950,330M849.5,347 865,353 881.2,360 907.5,365 915,375 918.8,387.5M840,336.2 841.2,347.5 845,365 846.2,380 845,403.8M881.2,360 882.5,375 877.5,380 878.8,390 882.5,395 883.8,405M861.2,407.5 883.8,405 896.2,403.8 915,402.5 925,395M896.2,403.8 895.5,440M918.8,387.5 925,395 923.2,415 920.5,440M791.3,411.3 794.4,408.2 808,416.5 820.5,424.9 830.9,432.2 838.2,440.5 840.3,448 797.6,452.2 796.5,428ZM794.4,408.2 802.8,397.7 823.6,395.6 826.8,406.1 844.5,405 847.6,415.5 860.8,419.6 862.2,439.5 840.3,442.2 838.2,440.5 830.9,432.2 820.5,424.9 808,416.5ZM840.3,442.2 862.2,439.5 880,441.5 876.8,457.2 875.8,473.1 858.1,476.4 851.8,471.8 845.5,463.5 842.4,455.1 840.3,448ZM880,441.5 907.1,439.5 906,453 902.9,463.5 901.9,472 875.8,473.1 876.8,457.2ZM907.1,439.5 919.6,440.5 921.7,450.9 923.8,462.4 924.8,470.8 901.9,472 902.9,463.5 906,453ZM811.5,451.8 840.3,448 842.4,455.1 845.5,463.5 851.8,471.8 858.1,476.4 860.1,483.3 813.8,487.4 812.2,480.1ZM765.2,453.6 811.5,451.8 812.2,480.1 768.3,482.2 766.3,480.1ZM768.3,482.2 812.2,480.1 813.8,487.4 819.5,492.7 820.5,513.5 773.6,515.6 774.6,501 769.4,492.7ZM773.6,515.6 806.9,514.6 812.2,524 813.2,542.7 769.4,545.9 770.4,526ZM809,515.6 820.5,513.5 841.4,515.6 849.7,519.8 852.8,528.1 849.7,536.5 843.5,541.7 813.2,542.7 812.2,524ZM901.9,472 924.8,470.8 929,484.3 935.3,496.8 935.3,505.2 916.5,511.4 904,516.7 899.8,513.5 898.7,492.7 900.8,478.1ZM905,517.7 916.5,511.4 935.3,505.2 939.4,526 941.5,551.1 916.5,558.4 914.4,546.9 917.5,535.4 910.2,526ZM881,519.8 898.7,516.7 904,517.7 906,524 917.5,535.4 914.4,546.9 916.5,558.4 908.1,564.6 901.9,559.4 889.4,555.3 883.1,556.3 880,546.9 883.1,534.4ZM851.8,519.8 873.7,520.2 880,520.8 883.1,534.4 880,546.9 878.9,553.2 868.5,559.4 849.7,566.7 845.5,555.3 847.6,538.6 849.7,536.5 852.8,528.1ZM849.7,566.7 868.5,559.4 878.9,553.2 883.1,556.3 889.4,555.3 901.9,559.4 906,567.8 904,580.3 906,597 881,601.2 878.9,594.9 870.6,590.7 864.3,580.3 856,571.9ZM908.1,564.6 916.5,558.4 941.5,552.1 944.6,571.9 946.7,590.7 937.3,598 918.6,600.1 916.5,604.3 910.2,603.2 906,597 904,580.3 906,567.8ZM937.3,497.3 956.5,491.6 960.3,505.2 959.2,521.9 941.5,530.6 939.4,526 936.3,505.2ZM956.5,491.6 979.1,486.4 980.1,496.8 983.2,517.7 964.5,526 960.3,528.1 959.2,521.9 960.3,505.2ZM979.1,486.4 998.9,484.3 1002,501 1004.1,515.6 984.3,521.9 983.2,517.7 980.1,496.8ZM941.5,531.3 959.2,528.1 964.5,563.6 965.5,570.9 944.6,572.4 941.5,551.1ZM944.6,573 965.5,570.9 967.6,588.6 966.6,609.5 960.3,613.7 941.5,614.7 937.3,615.8 941.5,599.1 946.7,590.7ZM967.6,566.7 980.1,565.1 982.2,580.3 988.5,588.6 989.5,599.1 981.2,605.3 974.9,609.5 968.6,611.6 967.6,588.6ZM1002,484.7 1033.3,480.6 1035.4,501.4 1025.4,505.2 1024.3,513.5 1004.1,516.7ZM959.2,444.7 968.6,438.4 974.9,437.4 981.2,440.5 979.1,450.9 978,461.4 984.3,465.5 985.3,471.8 985.3,485.4 978,486 957.2,488.1 958.2,471.8 959.7,459.3ZM950.3,413.4 972.8,410.5 974.9,437.4 968.6,438.4 959.2,444.7 954,432.2 951.3,421.7ZM972.8,410.5 1004.1,406.3 1007.2,413.4 1003.1,436.3 984.3,440.5 981.2,440.5 974.9,437.4ZM1004.1,406.3 1013.5,403.4 1009.3,413.4 1010.8,419.2 1018.7,415.5 1023.3,407.1 1031.2,403 1039.6,409.2 1043.7,423.8 1044.8,430.1 1039.6,426.9 1031.2,430.1 1025,429 1013.5,435.3 1003.1,436.3 1007.2,413.4ZM984.3,440.5 1003.1,436.3 1013.5,435.3 1011.4,448.9 1010.4,463.5 1009.7,483.5 985.3,485.4 985.3,471.8 984.3,465.5 978,461.4 979.1,450.9 981.2,440.5ZM1013.5,435.3 1025,429 1031.2,430.1 1039.6,426.9 1044.8,430.1 1049,438 1043.7,444.7 1039.6,463.5 1033.7,477.6 1033.3,480.6 1009.7,483.5 1010.4,463.5 1011.4,448.9ZM860.8,419.6 862.2,407.1 895.6,404 894.6,436.3M895.6,404 914.4,400.9 921.7,392.5 924.8,396.7 922.7,417.6 919.6,440.5M860.1,483.3 869.5,488.5 872.7,496.8 868.5,505.2 853.9,513.5 851.8,519.4M858.1,476.4 875.8,473.1 901.9,472M713.9,569.2 747.3,566.1 753.5,569.2 761.9,571.3 762.9,580.7 771.9,595.9 764,596.3 753.5,595.3 741,591.7 728.5,591.1 718.1,595.3 713.9,592.2ZM718.1,595.3 728.5,591.1 741,591.7 753.5,595.3 764,596.3 771.9,595.9 773.8,626.6 736.8,628 735.8,625.5 730.6,626.6 719.1,627.6 718.1,608.9ZM712.8,628.7 730.6,626.6 735.8,625.5 736.8,628 773.8,626.6 775,661.4 712.8,663.1ZM651.3,623.5 661.7,622.4 663.8,625.5 680.5,626.6 682.6,625.1 709.7,625.5 712.8,628.7 712.8,663.1 651.3,664.8ZM648.2,569.2 649.2,594.2 649.2,623.5M617.9,595.3 648.2,593.8 672.2,590.1 688.9,589 690.9,597.4 700.3,598.4 703.5,592.2 713.9,592.2M617.9,568.2 632.5,567.7 648.2,568.8 713.9,568.6 747.3,566.1M677.4,537.9 678.4,567.5M636.7,546.3 677.4,545.2M678.4,549.4 711.8,548.3 713.9,544.2 720.1,549.4 722.2,543.1 736.8,542.1 743.1,548.3M743.1,548.3 778.6,546.9 812.4,544.6 813,560.9 818.2,577.6 819.2,590.1 807.8,592.2 795.3,594.2 784.8,596.3 773.3,599.5 771.9,595.9 762.9,580.7 761.9,571.3 753.5,569.2 747.3,566.1ZM773.3,599.5 784.8,596.3 795.3,594.2 807.8,592.2 819.2,590.1 826.6,600.5 831.1,608.9 828.6,621.4 826.6,630.1 811.9,629.7 801.5,631.8 796.3,633.9 795.3,639.5 774.4,640.6 773.8,626.6 772.5,599.5ZM774.4,640.6 795.3,639.5 796.3,633.9 801.5,631.8 811.9,629.7 826.6,630.1 830.7,640.1 834.9,656.8 837,671.4 775.4,676 775,661.4ZM814,544.2 837,542.1 845.5,555.2 849.7,566.7 856,571.9 864.3,580.3 870.6,590.7 878.9,594.9 881,601.1 868.3,606.8 864.1,613.4 845.3,615.1 832.8,613 831.1,608.9 826.6,600.5 819.2,590.1 818.2,577.6 813,560.9ZM832.8,613 845.3,615.1 864.1,613.4 868.3,606.8 881,601.1 883.3,613 891.6,627.6 900,640.1 893.3,646.4 876.6,655.2 875,669.4 837,671.4 834.9,656.8 830.7,640.1 826.6,630.1 828.6,621.4 831.1,608.9ZM876.6,655.2 893.3,646.4 900,640.1 904.2,646 914.2,650.6 915,663.7 903.7,667.3 900,682.9 889.1,684 887.1,679.8 891.2,673.5 888.7,669.8 875,669.4ZM859.9,673.5 875,669.8 888.7,669.8 891.2,673.5 887.1,679.8 889.1,684 900,682.9 897.5,694.4 893.3,702.7 889.6,706.9 866.2,709 857.8,719.4 844.3,719.4 845.3,706.9 849.5,704.8 848.5,694.4 857.8,690.2 859.9,684ZM777.5,676.7 819.2,674.6 820.3,698.6 801.5,699.6 782.7,700.7ZM819.2,675 859.9,673.5 859.9,684 857.8,690.2 848.5,694.4 849.5,704.8 845.3,706.9 828.6,709 822.4,704.8 820.3,698.6ZM782.7,700.7 801.5,699.6 820.3,698.6 822.4,704.8 820.3,717.3 811.9,727.8 809.9,734 801.5,738.2 795.3,746.6 784.8,748.6ZM822.4,704.8 828.6,709 840.1,710 842.2,721.5 844.3,740.3 841.2,748.6 832.8,751.8 811.9,746.6 809.9,734 811.9,727.8 820.3,717.3ZM844.3,719.4 857.8,719.4 866.2,709 889.6,706.9 885,723.6 876.6,740.3 872.5,750.7 868.3,757 864.1,748.6 855.8,740.3 844.3,740.3 842.2,721.5ZM784.8,748.6 795.3,746.6 801.5,738.2 809.9,734 811.9,746.6 810.9,761.2 811.9,784.5 799.4,786.6 797.3,769.5 786.9,769.5ZM811.9,746.6 832.8,751.8 841.2,748.6 848.5,754.9 849.5,783.1 811.9,785.1 810.9,761.2ZM841.2,748.6 844.3,740.3 855.8,740.3 864.1,748.6 868.3,757 873.5,767.4 875.6,782 849.5,783.1 848.5,754.9ZM720.1,665.2 775,662.1 775.4,676 777.5,688.1 770.2,691.3 757.7,695.4 753.5,701.7 745.2,700.7 736.8,693.3 724.3,689.2 716,684 714.9,675.6 719.1,670.4ZM654.4,666.2 720.1,665.2 719.1,670.4 714.9,675.6 716,684 711.8,690.2 684.7,693.3 651.3,691.3 651.3,684 656.5,677.7ZM617.9,665.2 651.3,664.8 654.4,666.2M651.3,691.3 637.7,692.3 636.7,682.3 617.9,684M651.3,691.3 684.7,693.3 682.6,713.2 675.3,714.2 674.2,724 640.9,728.8 638.8,704.8 646.1,700.7ZM684.7,693.3 711.8,690.2 724.3,689.2 736.8,693.3 735.8,706.9 740,717.3 732.7,721.5 731.6,731.9 701.4,735.1 699.3,740.3 688.9,740.3 686.8,723.6 682.6,713.2ZM736.8,693.3 745.2,700.7 753.5,701.7 757.7,695.4 770.2,691.3 777.5,688.1 780.7,713.2 770.2,718.4 764,725.7 753.5,727.8 751.4,740.3 745.2,738.2 731.6,731.9 732.7,721.5 740,717.3 735.8,706.9ZM640.9,728.8 674.2,724 675.3,714.2 682.6,713.2 686.8,723.6 688.9,740.3 686.8,757 676.3,757 661.7,752.8 651.3,746.6 643,743.4 638.8,736.1ZM688.9,740.3 699.3,740.3 701.4,735.1 731.6,731.9 745.2,738.2 747.3,748.6 745.2,761.2 736.8,766.4 724.3,764.3 711.8,765.3 699.3,763.2 690.9,763.2 686.8,757ZM751.4,740.3 753.5,727.8 764,725.7 770.2,718.4 780.7,713.2 782.7,700.7 784.8,748.6 786.9,768.9 778.6,766.4 766,761.2 755.6,764.3 745.2,761.2 747.3,748.6 745.2,738.2ZM647.1,809.1 651.3,779.9 663.8,777.8 664.9,768.5 674.2,764.3 676.3,757M759.8,769.5 751.4,777.8M799.4,786.6 797.3,809.1M637.7,692.3 638.8,704.8M617.9,723.6 624.2,724.6 623.1,713.2 636.7,712.1M881,601.1 906.1,598 910.2,603.2 911.3,622 920.7,626.2 923,631.8 926.1,640.1 925,643.3 914.6,646.4 904.2,646.4 900,640.1 891.7,627.6 883.3,613ZM911.3,604.3 918.6,600.1 937.3,598 941.5,599 939.6,608.9 937.6,616.2 938.6,623.5 931.3,631.8 928.2,640.1 925,643.3 926.1,640.1 923,631.8 920.9,626.2 911.3,622ZM914.6,646.8 925,643.3 928.2,640.1 931.3,631.8 938.6,623.5 937.6,616.2 941.5,614.7 960.3,613.6 966.8,609.9 970.9,613 975.1,623.5 972,633.9 978.2,644.3 983.5,649.5 942.8,657.3 940.7,664.1 915.6,665.2ZM904.2,666.2 915.6,665.2 940.7,664.1 941.7,686 944.9,706.9 900,713.6 889.6,714.8 889.6,706.9 900,682.9 904.2,669.4ZM942.8,657.3 983.5,649.5 1008.5,646.4 1004.3,656.8 997,665.2 994.9,673.5 997,684 991.8,690.2 993.9,702.3 950.1,707.3 944.9,706.9 941.7,686 940.7,664.1ZM1008.5,646.4 1037.7,643.9 1036.7,656.8 1033.5,665.2 1025.2,673.5 1020,684 1016.8,699 993.9,702.3 991.8,690.2 997,684 994.9,673.5 997,665.2 1004.3,656.8ZM1037.7,643.9 1104.5,634.3 1100.3,642.2 1091.9,648.5 1083.6,653.7 1075.3,663.1 1064.8,670.4 1054.4,677.7 1047.1,686 1046,695.4 1016.8,699 1020,684 1025.2,673.5 1033.5,665.2 1036.7,656.8ZM1104.5,634.3 1132.6,629.7 1133.7,638.1 1118,645.4 1115.9,655.8 1113.9,673.5 1100.3,679.8 1087.8,684 1079.4,688.1 1066.9,692.3 1046,695.4 1047.1,686 1054.4,677.7 1064.8,670.4 1075.3,663.1 1083.6,653.7 1091.9,648.5 1100.3,642.2ZM1100.3,642.2 1108.6,651.6 1115.9,655.8M950.1,707.3 952.2,729.9 990.8,728.8 991.8,721.5 996,719.4 993.9,702.3M1013.7,700.2 1016.8,713.2 1023.1,727.8 1029.4,748.6 1037.7,775.8 1044,809.1M1013.7,700.2 1014.3,713.2 1008.5,723.6 1000.1,734 993.9,746.6 989.7,759.1 981.4,761.6 979.3,754.9 983.5,744.5 980.3,730.9M1021,727.8 1016.8,740.3 1010.6,754.9 1002.2,765.3 989.7,767.8 983.5,761.6M952.2,729.9 951.1,769.5 952.2,809.1M951.1,769.5 962.6,769.5 968.9,775.8 983.5,776.8 989.7,782 993.9,788.3 998.1,784.1 1002.2,779.9 1000.1,769.5 1002.2,765.3M998.1,784.1 1016.8,782 1029.4,779.9 1033.5,784.1 1031.4,790.4 1016.8,793.5 1004.3,796.6 991.8,794.5 979.3,796.6 973,802.9 970.9,809.1M1037.7,697.5 1038.7,717.3 1039.8,732.4M1025.2,733.6 1044,731.9 1060.7,735.5M1044,731.9 1041.9,740.3 1050.2,738.2 1060.7,735.5M1066.9,692.3 1068,704.8 1073.2,713.2 1079.4,723.6 1071.1,728.8 1060.7,735.1 1062.7,748.6 1064.8,765.3 1071.1,777.8 1046,783.1 1038.7,776.8M1071.1,777.8 1073.2,809.1M651.3,777.9 651.3,791.5 647.1,794.6 647.1,819.6 657.6,821.7 657.6,840.5 674.2,844.7 682.6,842.6 688.9,850.9 690.9,861.4 688.9,869.7 703.5,872.8 716,867.6 727.4,862.4 726.4,853 736.8,842.6 740,836.3 734.8,830.1 741,821.7 736.8,813.4 745.2,800.9 747.3,788.3 753.5,777.9M797.3,777.9 799.4,819.6 805.7,828 811.9,842.6 814,855.1 813,871.8 810.9,874.9 797.3,877 784.8,876 780.7,867.6 774.4,871.8 770.2,878.1 753.5,882.2 750.4,891.6 747.3,884.3 741,871.8 727.4,862.4M688.9,869.7 703.5,872.8 716,867.6 727.4,862.4 741,871.8 747.3,884.3 750.4,891.6 743.1,898.9 732.7,909.4 722.2,919.8 718.1,926 720.1,934.4 726.4,940.7 720.1,949 716,957.3 711.8,967.8 710.8,976.1 701.4,976.1 692,980.3 689.9,971.9 694.1,961.5 695.1,946.9 690.9,934.4 684.7,924 674.2,915.6 668,913.5 665.9,918.7 653.4,917.7 654.4,903.1 664.9,901 674.2,896.8 682.6,884.3 686.8,873.9ZM750.4,891.6 753.5,882.2 770.2,878.1 774.4,871.8 780.7,867.6 784.8,876 797.3,877 810.9,874.9 808.8,890.6 799.4,896.8 786.9,903.1 780.7,905.2 778.6,898.9 774.4,905.2 775.4,915.6 766,924 753.5,930.2 745.2,934.4 736.8,936.5 732.7,940.7 726.4,940.7 720.1,934.4 718.1,926 722.2,919.8 732.7,909.4 743.1,898.9ZM617.9,918.7 653.4,917.7M617.9,921.9 628.3,942.7 640.9,957.3 651.3,971.9 653.4,986.6 661.7,1001.2 668,1007.4 676.3,1009.5 690.9,1015.8 703.5,1017.8 713.9,1023.1 719.1,1017.8 716,1009.5 711.8,999.1 709.7,988.6 710.8,976.1M676.3,1009.5 682.6,994.9 692,994.9 693,1000.1 710.8,1000.1M617.9,823.8 628.3,824.9 628.3,839.5 647.1,840.5 657.6,840.5M799.4,786.7 816.5,787.3 818.2,800.9 815.1,810.3 820.3,818.6 815.1,822.8 805.7,822.8 799.4,819.6ZM816.5,787.3 849.5,785.2 851.6,796.7 855.8,811.3 856.8,818.6 845.3,821.7 832.8,826.9 828.6,817.6 825.5,815.5 820.3,818.6 815.1,810.3 818.2,800.9ZM849.5,785.2 875.6,783.1 880.8,800.9 876.6,811.3 870.4,824.9 864.1,819.6 856.8,818.6 855.8,811.3 851.6,796.7ZM805.7,822.8 815.1,822.8 820.3,818.6 825.5,815.5 828.6,817.6 832.8,826.9 830.7,836.3 833.9,853 814,854.7 811.9,842.6 805.7,828ZM832.8,826.9 845.3,821.7 856.8,818.6 864.1,819.6 870.4,824.9 868.3,846.8 874.5,859.3 878.7,865.5 866.2,867.6 855.8,866.6 843.2,864.5 841.2,855.1 833.9,853 830.7,836.3ZM870.4,824.9 876.6,811.3 880.8,800.9 899.6,799.2 903.7,807.1 901.7,821.7 899.6,841.5 868.3,847.2ZM814,854.7 833.9,853 841.2,855.1 843.2,864.5 855.8,866.6 851.6,873.9 857.8,884.3 855.8,893.7 841.2,890.6 824.5,889.5 808.8,890.6 810.9,874.9 813,871.8ZM949.9,757.9 950.9,791.3 954.1,822.6 956.2,841.4 958.2,856.4M1030.2,757.9 1035.4,772.5 1040.7,780.9 1042.7,787.1 1044.8,805.9 1046.9,820.5 1052.1,832 1053.2,833M952,772.5 963.5,769.4 971.8,773.6 984.3,772.5 990.6,780.9 993.7,787.1 1001,786.1 1003.1,772.5 1001,768.3M1003.1,772.5 1013.5,769.4 1026,774.6 1036.5,776.7 1040.7,780.9M953,797.6 963.5,796.5 965.5,803.8 971.8,802.8 973.9,796.5 980.1,794.4 996.8,799.6 1009.4,797.6 1021.9,794.4 1030.2,791.3 1030.2,780.9 1026,777.7M956.2,841.4 958.2,836.2 969.7,834.1 973.5,828.9 977,832 978.1,839.3 982.2,845.5 983.3,852.8 978.1,858.1 974.9,851.8 971.8,844.5 968.7,846.6 966.6,856 958.2,856.4ZM978.1,839.3 978.1,837.2 980.1,835.5 1044.8,825.1 1053.2,833 1085.5,829.9 1082.4,843.5 1078.2,849.7 1071.9,854.9 1067.8,851.8 1055.3,864.3 1046.9,866.4 1040.7,858.1 1034.4,851.8 1021.9,847.6 1009.4,850.3 996.8,848.3 983.3,852.8 982.2,845.5ZM1085.5,829.9 1117.8,825.7 1128.3,824.7 1130.4,828.9 1133.5,818.4 1145,816.3 1151.2,828.9 1159.6,847.6 1161.7,853.9 1151.2,858.1 1140.8,856 1130.4,860.1 1126.2,874.8 1113.7,870.6 1101.2,862.2 1088.6,853.9 1078.2,849.7 1082.4,843.5ZM1067.8,782.5 1071.9,778.8 1080.3,780.9 1088.6,776.7 1094.9,783 1103.2,778.8 1110.5,781.9 1109.5,801.7 1117.8,820.5 1117.8,825.7 1085.5,829.9 1083.4,819.5 1075.1,816.3ZM1110.5,781.9 1112.6,770.4 1151.2,769.4 1149.1,780.9 1146,793.4 1145,816.3 1133.5,818.4 1130.4,828.9 1128.3,824.7 1117.8,825.7 1117.8,820.5 1109.5,801.7ZM1042.7,787.1 1067.8,782.5M896.9,713.8 923.6,712.6 921,724.7 921.9,738.4 926.2,754.7 911.5,757 902.1,755.9 892.6,754.2 887.5,750.4 877.2,764.2 873.7,757.3 877.2,743.6 887.5,724.7 892.6,717.8ZM923.6,712.6 949,710.6 949.3,739.3 926.2,742.7 921.9,738.4 921,724.7ZM926.2,742.7 949.3,739.3 949.9,757.8 949.7,789.6 927.9,791.3 927,776.2 928.7,757.3 926.2,754.7ZM877.2,764.2 887.5,750.4 892.6,754.2 902.1,755.9 899.9,757.7 896.9,769.3 896.4,781.4 904.7,787.4 903,791.7 896.9,798.9 884.1,798.9 878.9,790 873.7,769.3ZM902.1,755.9 911.5,757 926.2,754.7 928.7,757.3 927,776.2 927.9,791.3 926.2,804.1 916.7,806.3 915.3,812.3 905.5,812 903.8,800.3 903,791.7 904.7,787.4 896.4,781.4 896.9,769.3 899.9,757.7ZM927.9,791.3 949.7,789.6 950.9,791.3 954.2,822.6 955.4,836.4 944.2,841.5 932.2,843.2 929.6,831.2 926.2,817.5 926.2,804.1ZM882.3,798.9 896.9,798.9 903,791.7 903.8,800.3 903.8,812.3 903,829.5 896.9,835.5 896.4,841.9 870.3,845.8 868.6,839.8 870.3,826 877.2,812.3ZM905.5,812 915.3,812.3 916.7,806.3 926.2,804.1 926.2,817.5 929.6,831.2 932.2,843.2 920.1,842.9 896.4,841.9 896.9,835.5 903,829.5 903.8,812.3ZM920.1,842.9 932.2,843.2 944.2,841.5 955.4,836.4 956.2,841.3 958.3,856.5 945.9,859.6 935.6,862.5 927,865.9 924.4,858.7 921,851ZM867.7,848 896.4,841.9 920.1,842.9 921,851 924.4,858.7 927,865.9 920.1,867.3 916.7,865.6 905.5,866.4 904.7,868.5 894.4,870.7 880.6,869 875.5,862.1 870.3,855.3ZM870.3,855.3 875.5,862.1 880.6,869M737.5,520 771,517.5 773.8,522.5 770.5,546 742.5,548.8 740,540ZM1260,392.5 1271.2,391.2 1273.8,412.5 1261.2,413.8ZM1077.5,473.8 1090,465 1098.8,458.8 1112.5,448.2 1122.5,437.5 1126.2,425 1123.8,407.5 1130,402.5 1145,398.8 1162.5,397.5 1177.5,392.5 1185,385 1190,375 1185,370 1177.5,368.8 1180,362.5 1187.5,360 1190,350 1197.5,340 1205,332.5 1220,327.5 1240,322.5 1275,311.2 1281.2,300 1290,292.5 1292.5,282.5 1293.8,262.5 1292.5,242.5 1300,218.8 1310,220 1320,215 1332.5,216.2 1337.5,225 1342.5,240 1351.2,260 1362.5,263.8 1367.5,272.5 1376.2,282.5 1372.5,286.2 1360,297.5 1345,305 1340,317.5 1330,325 1327.5,335 1317.5,340 1315,355 1312.5,365 1311.2,372.5 1320,377.5 1317.5,385 1320,392.5 1330,397.5 1340,400 1345,402.5 1342.5,392.5 1338,391.2M1345,402.5 1341.2,406.2 1335,415 1330,412.5 1327.5,417.5 1320,412.5 1315,410 1312.5,412.5 1310,417.5 1302.5,420 1292.5,425 1280,432.5 1270,440 1265,447.5 1260,452.5 1260,460 1265,475 1266.2,490 1262.5,507.5 1255,522.5M1260,460 1270,450 1280,443.8 1292.5,437.5 1305,433.8 1300,438.8 1290,443.8 1275,455 1265,462.5ZM1275,311.2 1277.5,325 1273.8,340 1272.5,350 1270,362.5 1268.8,375 1267.5,390M1281.2,300 1287.5,320 1295,340 1305,360 1311.2,372.5M1295,330 1305,310 1320,292.5 1337.5,275 1351.2,261.2M1310,352.5 1320,330 1332.5,312.5 1350,295 1367.5,275M1272.5,350 1280,347.5 1282.5,357.5 1287.5,360 1290,350 1293.8,340M1221.2,327.5 1230,345 1237.5,362.5 1242.5,377.5 1237.5,380M1236.2,323.8 1245,350 1252.5,372.5 1255,392.5 1258.8,415 1263.8,440 1265,447.5M1250,320 1257.5,350 1262.5,375 1265,390M1260,391.2 1311.2,378.8M1261.2,413.8 1302.5,406.2 1310,407.5M1300,383.8 1302.5,406.2 1303.8,420M1307.5,407.5 1312.5,412.5M1271.2,391.2 1270,375M1273.8,412.5 1277.5,425 1280,432.5M1235,380 1240,400 1247.5,425 1255,445 1258.8,452.5M1252.5,372.5 1260,392.5M1261.2,413.8 1265,440M1123.8,407.5 1127.5,412.5 1145,410 1155,407.5 1162.5,412.5 1177.5,402.5 1190,400 1195,395 1192.5,385 1197.5,375 1197.5,365 1190,360M1130,436.2 1131.2,430 1142.5,422.5 1160,420 1167.5,425 1175,422.5 1190,421.2 1195,407.5 1195,395M1197.5,385 1215,382.5 1230,385 1237.5,380M1200,395 1215,400 1230,397.5 1240,390 1237.5,380M1195,360 1200,350 1215,340 1225,335 1221.2,327.5M1240,400 1242.5,417.5 1240,435 1236.2,450M1114.2,453 1216.2,431.2M897.9,330.5 908.3,331.5 916.7,338.9 920.9,340.9 923,337.8 941.7,332.6 954.2,327.4 966.8,324.7 969.9,330.5 975.1,332.6 984.5,330.5 989.7,338.9 997,345.1 991.8,347.2 983.5,347.2 979.3,350.3 968.9,348.2 958.4,352.4 950.1,356.6 941.7,362.8 933.4,368.1 928.2,374.3 923,386.8 920.9,395.2 924.8,396.6 922.7,417.5 919.6,440.5 921.7,450.9 923.8,462.4 924.8,470.7 929,484.3 935.3,496.8 945.9,494.3 956.3,487 957.4,470.3 960.5,453.6 962.6,443.2 959.5,436.9 952.2,432.7 950.1,420.2 951.1,403.5 950.1,395.2 955.3,386.8 962.6,378.5 970.9,368.1 977.2,357.6 980.3,352.4 987.6,355.5 1000.1,359.7 1010.6,366 1015.8,372.2 1014.8,376.4 1018.9,386.8 1020,397.3 1013.7,403.5 1008.5,407.7 1009.5,416 1014.8,420.2 1021,411.9 1029.4,403.5 1035.6,406.7 1039.8,414 1044,428.6 1048.1,436.9 1046,447.3 1041.9,449.4 1037.7,461.9 1033.5,472.4 1031.4,478.6 1037.7,480.7 1046,484.9 1054.4,485.9 1066.9,478.6 1077.3,470.3 1087.8,461.9 1099.2,458.8 1112.8,448.4M982.8,356 987.6,405.6M897.9,403.5 912.5,399.4 920.9,393.1M1302.5,440 1280,452.5 1260,467.5 1265,472.5 1266.2,485 1262.5,502.5 1255,520 1252.5,512.5 1245,502.5 1237.5,498 1232.5,500 1240,505.5 1250,522.5 1255,535 1250,557.5 1245,575 1242.5,583.8M1245,592.5 1255,605 1265,618.8 1255,630 1252.5,650 1247.5,657.5 1230,665 1226.2,675 1220,687.5 1215,697.5 1200,702.5 1192.5,712.5 1187.5,725 1180,740 1170,747.5 1160,755 1155,762.5M1232.5,500 1235,515 1240,530 1242.5,545 1252.5,545M1185,511.2 1227.5,502.5M977.5,649 1055,638.8 1132.5,628 1200,613.8 1245,600.5M990,600 997.5,590 1005,580 1012.5,570 1020,568M1046.2,583.8 1052.5,595 1062.5,602.5 1080,612.5 1090,605 1075,620 1055,638.8M1090,605 1105,600 1120,590 1130,580 1132.5,565 1140,557.5 1145,540 1155,535 1160,522.5 1170,517.5 1180,522.5 1187.5,515 1182.5,512.5M1182.5,512.5 1192.5,522.5 1200,535 1205,545 1215,550 1225,557.5 1230,565M1132.5,628 1140,612.5 1135,605 1145,590 1155,575 1165,560 1175,550 1187.5,540 1197.5,535M1167.5,590 1172.5,600 1180,612.5 1177.5,618M1200,613.8 1202.5,590 1207.5,570 1205,557.5 1200,535M1116.2,647.5 1135,646.2 1155,642.5 1170,641.2 1185,637.5 1192.5,640M1115,661.2 1140,657.5 1167.5,652.5 1172.5,657.5 1170,665M1170,665 1187.5,652.5 1200,640 1197.5,627.5 1200,613.8M1112.5,676.2 1122.5,675 1130,682.5 1140,681.2 1170,676.2 1177.5,681.2 1200,701.2M1170,676.2 1172.5,665M1187.5,652.5 1205,657.5 1217.5,660 1227.5,665M1185,637.5 1205,635 1220,633.8 1232.5,640M1197.5,627.5 1220,625 1230,615M977.5,702.5 1066.2,695 1067.5,710 1075,720 1080,725 1072.5,730 1062.5,735 1063.8,762.5M1007.5,515 1020,513.5M1007.5,515 1010,540 1020,541.8M985,527.5 1007.5,522.5M985,527.5 987.5,550 997.5,557.5 995,570 987.5,570M1010,540 1012.5,570M1002.5,585 1010,600 1007.5,612.5 1022.5,627.5 1020,645M1022.5,627.5 1037.5,610 1045,590 1046.2,583.8M1055,640 1070,622.5 1090,605M1180,522.5 1185,535 1187.5,540M1197.5,535 1205,522.5 1215,515 1227.5,503.8M96.2,557.5 95,567.5M53.8,517.5 55,530 62.5,545 65,557.5 70,567.5 75,570 77.5,577.5 75,582.5 80,595 77.5,610 82.5,625 87.5,640 95,655 100,667.5 97.5,680 105,687.5 117.5,692.5 127.5,702.5 140,710 150,720 160,727.5 170,740 176.2,755 175,766.2 195,767.5 240,770 237.5,775 272.5,796.2 335,827.5 390,835 402.5,835.8M70,567.5 77.5,565 87.5,563 95,567.5M141.2,548.8 255,697.5M136.2,531.2 142.5,550M150,517.5 141.2,548.8M96.2,567.5 102.5,595 110,620 117.5,645 120,663.8 135,677.5 148.8,683.8M101.2,560 115,550 140,551.2 152.5,577.5 162.5,597.5 170,620 173.8,645 168.8,662.5 157.5,677.5 148.8,683.8M101.2,667.5 112.5,663.8 120,663.8M148.8,683.8 157.5,692.5 165,702.5 177.5,706.2 182.5,712.5 190,707.5 197.5,710 190,720 187.5,727.5 191.2,745 193.8,767M160,568.8 167.5,567.5 168.8,587.5 157.5,591.2M166.2,568.8 168.8,552.5 200,553.8 245,562.5 260,580 287.5,585M200,553.8 202.5,545 210,535 212.5,517.5M298.8,517.5 287.5,585 281.2,632.5 280,640 277.5,660 265,665 260,670 258.8,690 255,697.5 257.5,710 265,723.8 255,727.5 250,740 243.8,752.5 246.2,762.5 245,770M281.2,631.2 292.5,628.8 308.8,632.5 306.2,638.8 281.2,639.5M203.8,625 210,622.5 220,632.5 230,642.5 235,652.5 237.5,658.8 240,645 247.5,642.5 252.5,622.5 260,627.5 265,620 270,625 268.8,637.5 277.5,635M280,639.5 317.5,643.8 402.5,653M333.2,518.2 325,528.2 323.2,535 328.2,543.2 335,560 327.5,577.5 320,595 310,612.5 300,620 292.5,628M335,560 350,558.8 360,572.5 355,590 352.5,605 365,612.5 372.5,615 362.5,625 350,635 337.5,645M350,517.5 352.5,540 355,557.5 360,572.5 375,565 382.5,565 390,572.5 402.5,575M382.5,565 380,550 385,542.5 402.5,540M317.5,643.8 312.5,655 307.5,665 292.5,672.5 290,690 287.5,715 285,727.5 275,782.5 272.5,796.2M265,725 280,727.5 285,727M290,690 300,697.5 310,702.5 315,710 327.5,712.5 331.2,725 327.5,735 330,740M285,736.2 307.5,742.5 330,740 337.5,755 343.8,775 352.5,772.5 353.8,762.5 367.5,760 370,746.2 362.5,745 350,742.5 348.8,735 331.2,732.5M367.5,760 377.5,760 390,756.2 397.5,755M276.2,781.2 352.5,791.2 352.5,772.5M588.8,525.5 630,525 631.2,546.2 637.5,553.2 632.5,567.5 588.8,568ZM586.5,625 648.8,623.2 651.2,665 585.5,664ZM418.8,527.5 405,652.5M377.5,650 405,652.5 560,665 585.5,664M587.5,537.5 588.8,568 586.5,625 585.5,664M472.5,531.2 476.2,545 487.5,552.5 496.2,546.2 498.8,557.5 490,567.5 495,575 487.5,582.5 477.5,587.5 478.8,600 475,610 480,616.2M480,595 490,605 510,597.5 516.2,592.5 530,592.5 545,587.5 555,572.5 560,557.5 565,545 577.5,540 587.5,538.8M545,587.5 560,595 572.5,602.5 577.5,615 586,625M478.8,615 467.5,622.5 455,630 445,632.5 455,637.5 465,645 471.2,655 472.5,658.8M480,616.2 490,625 497.5,635 497.5,642.5 505,646.2 506.2,661.2M415,538.8 400,540 385,542.5 381.2,552.5 382.5,565 390,572.5 405,573.8 413.8,568.8ZM630,525 632.5,515 677.5,511.2 678.8,477.5M677.5,511.2 678.8,567.5M631.2,546.2 677.5,543.8 710,541.2 712.5,550 720,548.8 721.2,540 735,538.8M678.8,521.2 690,518.8 691.2,512.5 725,510 730,515M588.8,568 632.5,567.5 715,566.2 742.5,565.5M588.8,597.5 648.8,595 652.5,594.5M648.8,568 650,595 648.8,623.2M560,665 558.8,680 555,730 553.2,757.5M560,679.5 636.2,682 637.5,692.5M637,682.5 637.5,712.5 623.8,713.8 622.5,723.8 608.8,725 610,750 608.8,757M405,652.5 400,730 398,757.5M457.5,658.8 456.2,680 445,687.5 432.5,702.5 420,705 417.5,730 401.2,731.2M432.5,702.5 450,707.5 462.5,705 467.5,712.5 490,713.8 497.5,710 505,708.8M538.8,665 540,675 530,687.5 525,680 516.2,680 515,695 516.2,705 505,708.8M505,708.8 520,720 530,735 532.5,752.5 540,767.5 552.5,775M450,707.5 442.5,720 447.5,730 440,740 445,755M467.5,712.5 465,727.5 470,740 460,750 472.5,760M497.5,710 502.5,727.5 497.5,742.5 492.5,755M337.5,827 390,835 412.5,836.2 413.8,823.8 456.2,825M393.8,757.5 390,835M456.2,820 457.5,826.2 470,840 485,855 500,867.5 505,882.5 510,895 525,907.5 537.5,916.2 546.2,921.2 553.8,915 560,900 570,893.8 580,895 587.5,896.2 595,896.2 605,906.2 617.5,917.5M456.2,820 505,821.2 555,822.5 556.2,757.5M555,822.5 573.8,822.5 575,853.8 586.2,862.5 590,872.5 587.5,896.2M575,836.2 601.2,836.2 601.2,823.8 618,823.8M610,757.5 610,780 595,781.2 595,795 590,796.2 590,808.8 601.2,810 601.2,823.8M337.5,792.5 351.2,791.2 352.5,757.5M397.5,770 402.5,765 405,775 415,790 422.5,797.5 427.5,795 430,780 440,775 445,780 447.5,797.5 460,812.5 462.5,805 465,785 470,770 475,757.5M480,757.5 482.5,780 480,797.5 485,807.5 495,802.5 497.5,785 495,770 490,757.5M495,802.5 505,821.2M532.5,757.5 537.5,770 547.5,775 555.5,775M1126.7,904.2 1140,900 1143.3,895 1156.7,890.8 1181.7,884.7 1184.2,886.7 1193.3,901.7 1200.8,917 1186.7,921.7 1175,923.3 1170,930.8 1153.3,933.3 1145.8,937.5 1140,935 1135.8,926.7 1133.3,920 1136.7,913.3 1130,910ZM1126.2,874.8 1126.7,890 1125.8,903.3 1126.7,904.2M1161.7,853.8 1173.3,866.7 1178.3,875 1183.3,885M1145.8,937.5 1150,941.7 1155,948.3 1160,946.7 1161.7,956.7 1166.7,963.3 1170,969.2 1176.7,969.2 1183.3,975 1188.3,981.7 1191.7,986.7 1196.7,990 1203.3,989.2 1210,986.7 1216.7,983.3 1219.2,976.7 1218.3,966.7 1216.7,956.7 1215.8,943.3 1211.7,930 1206.7,921.7 1200.8,917M1196.7,921.7 1201.7,933.3 1205,946.7 1206.7,960 1205,973.3 1201.7,986.7M1201.7,918.3 1208.3,930 1211.7,946.7 1212.5,960 1211.7,973.3 1206.7,985M246.7,396.7 253.3,380 261.7,365 265.8,357.5M245,395.8 251.7,386.7 260,380 266.7,379.2 270.8,385 270.8,393.3 266.7,400 264.2,408.3 265,416.7 268.3,426.7 273.3,435 281.7,440.8 280.8,445 279.2,449.2M243,425 248.3,433.3 256.7,441.7 266.7,447.5 279.2,449.2 285,456.7 293.3,465 301.7,471.7 304.2,480M281.7,441.3 293.3,438.3 305,434.2 316.7,430.8 326.7,427.5 336.7,422.5 341.7,416.7 343.3,410 342.5,407.5M325.3,368 320,378.3 313.3,388.3 310.8,400 312.5,410 316.7,418.3 323.3,426.7 326.7,427.5M316.7,431.2 321.3,443.3 321.7,456.7 317.5,466.7 311.7,471.7 305,473M343.3,408.3 356.7,410 366.7,412.5 371.7,416.7 368.3,423.3 361.7,433.3 353.3,446.7 345,456.7 333.3,466.7 323.3,473.3 316.7,472.8M718.8,486.2 766.2,482M1079.4,724.4 1087.5,728.1 1095,729.6 1103.8,727.5 1106.2,725M1075,701.2 1081.2,702.5 1086.2,706.2 1092.5,712.5 1100,720 1106.2,725 1112.5,730 1120,736.2 1125,740 1131.2,745 1136.2,753.8 1141.2,758.8 1145,765 1148.8,768.8 1151.9,770.6M1075,701.2 1076.2,695 1082.5,688.8 1091.2,683.8 1098.8,680.6 1095,685 1086.2,690 1080,696.2 1076.9,700ZM1095,729.6 1097.5,740 1102.5,750 1106.2,757.5 1103.8,763.8 1111.9,770M1092.5,712.5 1095,707.5 1102.5,701.2 1110,703.8 1115,706.2 1118.8,697.5 1122.5,696.2M1122.5,677.5 1121.9,685 1123.8,696.2 1127.5,703.8 1126.2,710 1126.9,716.2 1131.2,722.5 1133.1,726.2 1130,732.5 1125,740M1122.5,677.5 1127.5,675 1133.8,676.2 1137.5,681.2 1145,683.8 1150,691.2 1153.8,696.2 1150,702.5 1145,703.8 1140,701.2 1135,703.8 1127.5,703.8M1153.8,696.2 1160,701.2 1166.2,707.5 1167.5,713.8 1165,720 1160,727.5 1155,732.5 1148.8,736.2 1142.5,732.5 1135,729.4 1133.1,726.2M1165,720 1175,723.8 1186.2,728.1M1125,740 1131.2,736.2 1137.5,733.8 1142.5,732.5M1167.5,677.5 1173.8,667.5 1175,658.8M1160,755 1155,762.5 1151.9,770.6M1098.8,458.8 1112.5,448.5 1115,452.5 1132.5,448.8 1166.2,443.1 1169.4,457.5 1161.2,460 1157.5,461.2 1150,460 1138.8,461.9 1136.9,468.1 1143.1,471.2 1144.4,476.2 1144.4,483.8 1136.2,483.1 1130,481.9 1125,480 1118.8,480 1112.5,481.9 1102.5,483.1 1100.6,472.5ZM1098.8,458.8 1100.6,472.5 1102.5,483.1 1106.2,501.2 1110,515 1115,528.8 1155,518.8 1171.2,515 1200,507.8M1106.2,501.2 1107.5,507.5 1106.2,515 1105,525 1102.5,535 1100,545 1098.1,556.2 1087.5,554.8 1082.5,560 1081.2,572.5 1077.5,577.5 1072.5,580 1065,572.5 1060,570 1052.5,575 1046.2,572.5 1041.2,576.2 1032.5,572.5 1026.2,567.5 1020,565M1033.8,481.2 1037.5,505 1038.1,515 1038.8,527.5 1040,546.2 1041.2,558.8 1042.5,575M1037.5,509.4 1052.5,506.2 1053.8,498.8 1057.5,496.2 1063.8,495 1067.5,490 1068.8,482.5 1067.5,479.8M1053.8,498.8 1056.2,510 1055.6,518.8 1070,521.2 1081.2,517.5 1080,505 1078.8,495 1067.5,495M1078.8,495 1090,490 1093.8,486.2 1102.5,483.1M1081.2,517.5 1095,515 1106.2,516.2M1070,521.2 1067.5,530 1063.8,532.5 1067.5,538.8 1061.2,545 1061.2,552.5 1070,557.5 1076.2,555 1086.2,552.5 1087.5,554.8M1040,546.2 1045,548.8 1051.2,546.2 1061.2,546.2M1020,540 1027.5,540 1038.8,542.5M1072.5,580 1073.8,590 1076.2,601.2M1098.1,556.2 1107.5,565 1112.5,568.8 1118.8,563.8 1126.2,557.5 1132.5,550 1133.8,540 1130,532.5 1131.2,526.2M1100,557.5 1101.2,546.2 1107.5,537.5 1115,532.5M1137.5,526.2 1140,535 1143.8,537.5 1147.5,527.5 1150,521.9M1150,527.5 1148.8,540 1146.2,552.5 1143.8,562.5 1140,572.5 1137.5,583.8 1132.5,601.2M1157.5,550 1152.5,560 1150,572.5 1146.2,583.8 1142.5,601.2M1170,515 1167.5,527.5 1165,540 1160,548.8 1157.5,550 1163.8,555 1167.5,562.5 1173.8,565 1182.5,562.5 1188.8,555 1195,548.8 1200,546.2M1173.8,565 1171.2,575 1167.5,583.8 1170,593.8 1172.5,601.2M1112.5,568.8 1107.5,577.5 1102.5,587.5 1100,601.2M1122.5,577.5 1117.5,585 1112.5,593.8 1110,601.2M1144.4,483.8 1147.5,486.2 1146.2,495 1143.8,502.5 1150,503.8 1153.8,510 1155,518.8M1147.5,486.2 1157.5,485 1171.2,483.8 1172.5,492.5 1175,502.5 1171.2,515M1171.2,483.8 1177.5,477.5 1182.5,471.2 1181.2,465 1172.5,458.8 1169.4,457.5M1175,502.5 1182.5,497.5 1192.5,493.8 1200,490M1182.5,471.2 1187.5,476.2 1186.2,483.8 1195,477.5 1200,476.2M1169.4,457.5 1177.5,455 1186.2,451.9 1192.5,456.2 1200,458.8M1166.2,443.1 1200,437.2M1131.2,438.8 1132.5,448.8M1216.2,431.2 1218.3,428.3 1224.4,431.1 1227.8,436.7 1229.4,441.1 1237.8,443.9 1246.7,446.1 1257.8,449.4 1260,450M1237.8,443.9 1235.6,450 1233.3,456.7 1232.2,462.2 1233.3,468.9 1237.8,473.3 1243.3,476.7 1246.7,478.9 1245.6,482.2 1242.2,486.7 1238.9,492.2 1233.3,496.7 1228.9,497.8 1227.8,501.1 1226.7,504.4M1260,468.9 1261.1,477.8 1260,488.9 1257.8,500 1254.4,512.2 1252.8,518.9M1255.6,465.6 1252.2,468.9 1251.1,473.3 1246.7,478.3M1228.9,497.8 1232.2,502.2 1234.4,507.8 1240,511.1 1246.7,512.8 1252.2,512.8M1262.2,418.9 1264.4,431.1 1266.7,441.1 1265.6,447.8M1272.2,418.9 1276.7,424.4 1275.6,431.1 1268.9,434.4 1266.7,441.1M1248.9,418.9 1248.9,426.7 1246.7,433.3 1243.3,440 1240.6,443.9M1215.6,428.9 1217.8,434.4 1216.7,440 1212.2,443.3 1210,448.9 1203.3,453.3 1200,457.8 1201.1,458.9 1194.4,457.8 1188.9,453.3 1185.6,451.7 1180,455.6M1201.1,458.9 1205.6,464.4 1205.6,468.9 1198.9,475.6 1196.7,480 1198.9,482.2 1194.4,491.1 1193.3,493.3 1202.2,497.8 1210,503.3 1212.2,505.6M1205.6,468.9 1213.3,464.4 1216.7,458.9 1222.2,463.3 1224.4,465.6 1228.9,462.2 1232.2,462.2M1198.9,482.2 1207.8,480 1214.4,475.6 1221.1,476.7 1227.8,478.9 1232.2,472.2 1233.3,468.9M1180,436.7 1185.6,434.4 1192.2,435 1194.4,433.9M1192.2,435 1196.7,426.7 1197.8,422.2 1194.4,418.9M1212.2,505.6 1226.7,502.8M1240.6,515.6 1246.7,520 1251.1,526.7 1254.4,533.3 1255.6,540 1253.3,548.9 1251.1,563.3M1237.8,540 1255.6,537.8M1180,512.2 1183.3,520 1186.7,526.7 1194.4,531.1 1202.2,534.4 1198.9,542.2 1193.3,551.1 1186.7,563.3M920.3,341 921,351.7 923,361.7 925.3,370.8 927,375.3M852.5,875 857.5,871.2 866.2,868.1 875,870 881.2,871.9 883.8,877.5 890,881.2 888.8,887.5 885,890 880,893.1 875,890 868.8,886.2 862.5,883.8 857.5,880ZM881.2,871.9 895,870.6 903.8,871.9 906.2,873.8 915,873.8 918.8,871.2 923.8,873.8 930,871.2 933.8,875 932.5,880 927.5,885 940,892.5 946.2,896.2 945,901.2 937.5,898.8 927.5,893.8 920,890 915,891.2 917.5,898.8 912.5,903.8 907.5,898.8 901.2,901.2 895,905 887.5,903.8 883.8,898.8 885,890 888.8,887.5 890,881.2 883.8,877.5ZM852.5,875 857.5,880 856.2,887.5 862.5,890 866.2,893.8 857.5,893.1 852.5,895 838.8,893.8"/>
<path class="lh" d="M106.2,209.8 110,208.2 127.5,213.8 147.5,220 149,223.8 146.5,233.8 142.5,236.5 136.2,235.2 115,226.9 108.8,223.5 106.9,216.2ZM108.8,229.4 107.1,237.5 108.1,250 109,262.5 108.8,275 107.5,287.5 106.2,298.8 107.5,301.5M108.8,229.4 117.5,235 123.5,242.2 127.5,250 130,258.8 127.5,267.5 122.8,275 120.4,286.2 120.4,297.5 123.1,306.2M131.2,289 130,285 132.5,277.5 136.5,270 140.2,262.5 144,256.2 148.8,253.8 153.8,255 157.5,258.8 156.2,270 152.5,277.5 145,283.8 137.5,289ZM123.5,242.2 137.5,247.5 144,250M107.5,301.5 115,303.8 123.1,306.9 127.5,310 130,317.5 131.2,325 137.5,328.8 146.2,330.6M140,216.6 153.2,220.7 194.8,230.3 217.2,235.4 226.3,237.4 260,243.5M153.2,220.7 157.8,225.2 160.8,230.3 161.8,236.4 160.8,244.5 161.8,252.6 160.3,258.7 161.8,266.9 160.8,276 161.8,283.1 159.8,290.2 156.2,292.7 155.7,295.8 161.3,298.3 152.2,303.4 145.1,307.5 142,312.5 143.6,319.6 146.1,327.8M163.9,223.2 164.6,235.4 165.4,250.6 164,260.8 164.4,266.9 162.9,275 163.6,283.1 164.8,291.2 164.8,299.3 163.4,307.5 161.8,315.6 159.1,322.7 156.8,329M168.9,259.7 172.5,265.3 165.4,264.8M194.8,230.3 195.3,239.4 191.8,245 188.7,254.7 185.7,262.8 183.7,267.5 180.1,272.5 177.5,280.1 175,290 171.5,298.7 170.5,305.9 172.5,312.5M217.2,235.4 215.1,240.5 211.1,246.5 209,251.6 202.9,253.7 201.9,258.7 200.9,263.8 195.3,260.8 194.8,264.8 195.3,270.9 192.8,276 187.7,278 189.7,283.1 194.8,289.2 192.8,294.3 187.7,291.2 183.7,292.2 182.6,297.3 180.6,303.4 175.5,309 172.5,312.5 173,316.1 176.5,320.7 181.6,324.7 178.6,328.3 170.5,331.8 167.4,334.1M226.3,237.4 224.3,243.5 224.8,252.6 226.3,260.8 227.3,268.9 231.4,276 239.5,282.1 247.6,287.2 260,291.7M247.6,287.2 245.6,294.3 243,301.9M187.7,278 200.9,280.1 211.1,282.1 219.2,285.1 224.3,290.2 231.4,294.3 243,301.9 239.5,309.5 233.4,316.6 229.3,321.7 231.4,328.8 233.9,336.9M146.1,327.8 156.8,329.3 161.8,331.8 167.4,334.4 173.5,333.4 182.6,334.4 192.8,332.8 202.9,333.4 213.1,332.3 221.2,334.4 233.9,336.9 260,340.5M107.5,301.4 101.9,320 96.3,335 89.7,353.8 83.1,370.6 75.6,385.6 68.1,400.6 65.3,413.8 64.4,425 65.3,432.5 64.4,440 60.6,455 54.1,470 50.3,479.4 51.3,488.8 56.9,500 57.8,511.3 55,526.3 58.8,541.3 66.3,554.4 68.1,561.9M65.3,432.5 112.2,442.8 145,451.3 206.9,462.5 233.1,468.1 304.4,480.3 310,481.3M115.6,304.4 116.9,312.5 111.3,321.3 110.3,331.3 105.6,344.4 100,353.8 95.3,363.1 93.4,374.4 101.9,380 105.6,387.5 115,389.4 128.1,392.2M93.4,374.4 90.6,385.6 87.8,398.8 84.1,410 77.5,421.3 76.6,430.6 77.5,434.8M141.3,333.1 137.5,340.6 130,353.8 128.1,366.9 124.4,378.1 116.9,389M146.9,330.3 148.8,338.8 145,351.9 142.2,366.9 137.5,381.9 128.1,392.2 126.3,402.5 120.6,413.8 116.9,425 114.1,436.3 112.2,442.8M146.9,330.3 156.3,333.1 169.4,334.3 182.5,334.1 199.4,332.2 216.3,333.1 227.5,335 235,337.8 260.3,340.6M229.4,335.9 227.5,325.6 231.3,320M147.8,355.6 173.1,360.3 175,355.6 182.5,355.6 199.4,364.1 208.8,359.4 221.9,351.9 229.4,344.4 231.3,337.8M199.4,364.1 193.8,372.5 197.5,385.6 203.1,393.1 214.4,395 218.1,391.3 225.6,388.4 235,389.4 240.6,395 246.3,396.9M260.3,340.6 271.6,348.1 272.5,357.5 265,365 255.6,380 246.3,396.9 242.5,413.8 236.9,441.9 233.1,468.1M214.4,395 212.5,417.5 208.8,441.9 206.9,462.5M135.6,383.8 141.3,395 150.6,406.3 156.3,419.4 152.5,432.5 145,441.9 137.5,444.7 133.8,436.3 131.9,425 126.3,417.5 118.8,421.3M145,451.3 139.4,460.6 126.3,470 120.6,468.1 101.9,463.4 98.1,470 88.8,483.1 81.3,488.8 80.3,500 78.4,509.4 81.3,516.9 77.5,526.3 73.8,533.8 77.5,541.3 86.9,546.9 94.4,554.4 96.3,561.9M162.8,454.1 152.5,507.5 142.2,549.7M155.3,453.1 150.6,479.4 145.9,516.9 142.2,549.7M125.3,494.4 133.8,483.1 145,475.6 154.8,469.1M125.3,494.4 133.8,507.5 145,518.8 147.8,524.4M147.8,524.4 137.5,528.1 139.4,541.3 142.2,549.7M233.1,468.1 229.4,488.8 227.5,511.3 220,513.1 214.4,522.5 208.8,531.9 205,545 201.3,554.4M169.4,549.7 201.3,554.4 242.5,561.9M250,241.2 275,246.2 295,251.2 337.5,258.2 412.5,267.8 483.8,274 551.2,277.8 610,278.8M275,246.2 268.8,290 258.8,337.5M295,251.2 293,270 296.2,295 302.5,307.5 311.2,320 316.2,331.2 314.5,350 311.2,365 323.8,367.5 327.5,380 332.5,392.5 337.5,395 340,406.2 355,406.2 372.5,405 378.8,402.5 382.5,410 385,412.5M292,277.5 285,273.8 281.2,285 276.2,295 267.5,302.5 265,306.2M261.2,330 270,326.2 282.5,332.5 292.5,340 290,345 277.5,337.5 267.5,340 265,350 272.5,355M337.5,258.8 342.5,267.5 350,280 355,292.5 351.2,302.5 352.5,317.5 357.5,330 362.5,340 355,347.5 342.5,356.2 332.5,362.5 325,367M351.2,302.5 360,306.2 370,308.8 382.5,305 395,306.2 402.5,313.8 412.5,316.2 422.5,308.8 437.5,307.5 447.5,312.5 460,316.2 470,313.8 475,295 483.8,275M362.5,340 372.5,342.5 375,360 382.5,355 393.8,356.2 400,356.2 420,360 425,362.5 445,361.2 462.5,355 463.8,340 462.5,316.2M393.8,356.2 390,375 386.2,382.5 385,395M463.8,340 505,347.5 507.5,337.5 512.5,336.2 525,338.8 535,345 542.5,330 550,328.8M462.5,355 475,356.2 481.2,367.5 483.8,382.5 486.2,395 496.2,400.5M385,395 496.2,401.2 543.8,405M551.2,278 547.5,330 545,377.5 543.8,405 542.5,470 540,535M370,521.2 418.2,527.5 470,532.5 540,534.8 590,537.5M385,395 380,435 376.2,487.5 370,521.2M250,470.8 303.8,480 376.2,488.8M385,412.5 392.5,410 402.5,413.8 410,420 405,410 412.5,406.2 425,405 435,401.2M467.5,403.8 462.5,410 470,422.5 472.5,437.5 467.5,448.8 450,450 435,446.2 422.5,437.5 412.5,432.5 403.8,435 400,445 390,457.5 382.5,465 377.5,473.8M402.5,413.8 410,427.5 403.8,435M400,445 410,460 415,472.5 425,482.5 437.5,480 447.5,475 460,472.5 465,460 467.5,448.8M425,482.5 427.5,495 440,502.5 452.5,512.5 462.5,527.5 472.5,532.5M460,472.5 475,468.8 487.5,472.5 500,470 515,477.5 530,485 541.2,495M460,477.5 485,481.2 497.5,492.5 505,510 506.2,532.5M500,470 495,455 502.5,445 522.5,435 532.5,432.5 543.8,437.5M502.5,445 507.5,425 520,415 532.5,407.5M547.5,378 601.2,380 600,423.8 545.8,422ZM545.8,422 557.5,425 563.8,437.5 557.5,452.5 550,462.5 544.5,457.5M543,470 600,472.5 610,473M601.2,380 610,380.5M600,423.8 601.2,472.5M588.8,472.5 590,537M550,307.5 557.5,306.2 567.5,308.8 577.5,306.2 582.5,317.5 610,316.2M547.5,330 570,331.2 571.2,342.5 590,345 593.8,347.5 595,379M607.5,278.8 607.5,292.5 610,293.8M303.8,480 299.2,517.5M340,484.5 338.8,502.5 333,517.5M360,487 353.8,495 352.5,517.5M590,277.5 647.5,278.8 697.5,278 740,277 740,265 747.5,265 750,280 752.5,282.5 765,286.2 777.5,288.8 785,286.2 802.5,293.8 815,298.8 832.5,293.8 847.5,296.2 863.8,300 850,307.5 835,320 825,332.5 815,342.5 810,346.2M697.5,278.8 700,290 700,305 702.5,320 706.2,335 708.8,350 710,355 712.5,365 713.8,380 707.5,387.5 715,395 716.2,415 717.5,420 718,455 715,465 720,485 725,497.5 730,510 736.2,527.5 740,542.5 745,552.5 750,562.5M590,316.2 616.2,315 627.5,318 671.2,316.2 671.2,320.5 702.5,320M590,347.5 615,345 617.5,337.5 625,333 636.2,337 638.8,356.2 672.5,355 709.5,353M607.5,278.8 607.5,292.5 615,293.8 616.2,315M648,281.2 649.5,293.8 653.8,296.2 656.2,302.5 662.5,307.5 670,312.5 671.2,320.5 672.5,355M627.5,318 625,333M638.8,356.2 641.2,377.5M590,378 601.2,378.8 641.2,377.5 710,375.8M601.2,378.8 601.2,425 601.2,447.5 602.5,472M601.2,409.5 660,410 716.2,409.5M660,378 661.2,410 662.5,441.2 661.2,472.5M662.5,441.2 716.2,440M602.5,447.5 615,446.2 627.5,451.2 645,452.5 647.5,457.5 660.8,458.8M590,472.5 602.5,472 661.2,472.5 677.5,473.8 697.5,477.5 707.5,480 718.8,486.2M740,277 736.2,290 733.8,305 740,309.5 742,350 710,353M786.8,287.5 790,315 791.2,343.8 808.8,345M791.2,343.8 775,340 773.8,347.5 762.5,347.5 763.8,362.5 775,365 776.2,380 782.5,387.5 783.8,402.5 790,410 797.5,407.5M742,350 746.2,352.5 747.5,380 746.2,400 741.2,412.5 742.5,417.5M718,419 742.5,417.5 752.5,425 755,428.8 750,432.5 755,437.5 756.2,453M753.8,426.2 775,423.8 796.2,421.2M797.5,407.5 793,411.2 795.5,420 797.5,450M718,455 765,453.8 810,451.8 840,448M810,346.2 808.8,365 800,375 798.8,385 802.5,396.2 793,408M810,346.2 820,342.5 830,338.8 840,335.5 848.8,346.2 860,340 877.5,330 886.2,322.5 892.5,330 897.5,328.8 893.8,333.8 905,337.5 920,342.5 935,335 950,330M849.5,347 865,353 881.2,360 907.5,365 915,375 918.8,387.5M840,336.2 841.2,347.5 845,365 846.2,380 845,403.8M881.2,360 882.5,375 877.5,380 878.8,390 882.5,395 883.8,405M861.2,407.5 883.8,405 896.2,403.8 915,402.5 925,395M896.2,403.8 895.5,440M918.8,387.5 925,395 923.2,415 920.5,440M791.3,411.3 794.4,408.2 808,416.5 820.5,424.9 830.9,432.2 838.2,440.5 840.3,448 797.6,452.2 796.5,428ZM794.4,408.2 802.8,397.7 823.6,395.6 826.8,406.1 844.5,405 847.6,415.5 860.8,419.6 862.2,439.5 840.3,442.2 838.2,440.5 830.9,432.2 820.5,424.9 808,416.5ZM840.3,442.2 862.2,439.5 880,441.5 876.8,457.2 875.8,473.1 858.1,476.4 851.8,471.8 845.5,463.5 842.4,455.1 840.3,448ZM880,441.5 907.1,439.5 906,453 902.9,463.5 901.9,472 875.8,473.1 876.8,457.2ZM907.1,439.5 919.6,440.5 921.7,450.9 923.8,462.4 924.8,470.8 901.9,472 902.9,463.5 906,453ZM811.5,451.8 840.3,448 842.4,455.1 845.5,463.5 851.8,471.8 858.1,476.4 860.1,483.3 813.8,487.4 812.2,480.1ZM765.2,453.6 811.5,451.8 812.2,480.1 768.3,482.2 766.3,480.1ZM768.3,482.2 812.2,480.1 813.8,487.4 819.5,492.7 820.5,513.5 773.6,515.6 774.6,501 769.4,492.7ZM773.6,515.6 806.9,514.6 812.2,524 813.2,542.7 769.4,545.9 770.4,526ZM809,515.6 820.5,513.5 841.4,515.6 849.7,519.8 852.8,528.1 849.7,536.5 843.5,541.7 813.2,542.7 812.2,524ZM901.9,472 924.8,470.8 929,484.3 935.3,496.8 935.3,505.2 916.5,511.4 904,516.7 899.8,513.5 898.7,492.7 900.8,478.1ZM905,517.7 916.5,511.4 935.3,505.2 939.4,526 941.5,551.1 916.5,558.4 914.4,546.9 917.5,535.4 910.2,526ZM881,519.8 898.7,516.7 904,517.7 906,524 917.5,535.4 914.4,546.9 916.5,558.4 908.1,564.6 901.9,559.4 889.4,555.3 883.1,556.3 880,546.9 883.1,534.4ZM851.8,519.8 873.7,520.2 880,520.8 883.1,534.4 880,546.9 878.9,553.2 868.5,559.4 849.7,566.7 845.5,555.3 847.6,538.6 849.7,536.5 852.8,528.1ZM849.7,566.7 868.5,559.4 878.9,553.2 883.1,556.3 889.4,555.3 901.9,559.4 906,567.8 904,580.3 906,597 881,601.2 878.9,594.9 870.6,590.7 864.3,580.3 856,571.9ZM908.1,564.6 916.5,558.4 941.5,552.1 944.6,571.9 946.7,590.7 937.3,598 918.6,600.1 916.5,604.3 910.2,603.2 906,597 904,580.3 906,567.8ZM937.3,497.3 956.5,491.6 960.3,505.2 959.2,521.9 941.5,530.6 939.4,526 936.3,505.2ZM956.5,491.6 979.1,486.4 980.1,496.8 983.2,517.7 964.5,526 960.3,528.1 959.2,521.9 960.3,505.2ZM979.1,486.4 998.9,484.3 1002,501 1004.1,515.6 984.3,521.9 983.2,517.7 980.1,496.8ZM941.5,531.3 959.2,528.1 964.5,563.6 965.5,570.9 944.6,572.4 941.5,551.1ZM944.6,573 965.5,570.9 967.6,588.6 966.6,609.5 960.3,613.7 941.5,614.7 937.3,615.8 941.5,599.1 946.7,590.7ZM967.6,566.7 980.1,565.1 982.2,580.3 988.5,588.6 989.5,599.1 981.2,605.3 974.9,609.5 968.6,611.6 967.6,588.6ZM1002,484.7 1033.3,480.6 1035.4,501.4 1025.4,505.2 1024.3,513.5 1004.1,516.7ZM959.2,444.7 968.6,438.4 974.9,437.4 981.2,440.5 979.1,450.9 978,461.4 984.3,465.5 985.3,471.8 985.3,485.4 978,486 957.2,488.1 958.2,471.8 959.7,459.3ZM950.3,413.4 972.8,410.5 974.9,437.4 968.6,438.4 959.2,444.7 954,432.2 951.3,421.7ZM972.8,410.5 1004.1,406.3 1007.2,413.4 1003.1,436.3 984.3,440.5 981.2,440.5 974.9,437.4ZM1004.1,406.3 1013.5,403.4 1009.3,413.4 1010.8,419.2 1018.7,415.5 1023.3,407.1 1031.2,403 1039.6,409.2 1043.7,423.8 1044.8,430.1 1039.6,426.9 1031.2,430.1 1025,429 1013.5,435.3 1003.1,436.3 1007.2,413.4ZM984.3,440.5 1003.1,436.3 1013.5,435.3 1011.4,448.9 1010.4,463.5 1009.7,483.5 985.3,485.4 985.3,471.8 984.3,465.5 978,461.4 979.1,450.9 981.2,440.5ZM1013.5,435.3 1025,429 1031.2,430.1 1039.6,426.9 1044.8,430.1 1049,438 1043.7,444.7 1039.6,463.5 1033.7,477.6 1033.3,480.6 1009.7,483.5 1010.4,463.5 1011.4,448.9ZM860.8,419.6 862.2,407.1 895.6,404 894.6,436.3M895.6,404 914.4,400.9 921.7,392.5 924.8,396.7 922.7,417.6 919.6,440.5M860.1,483.3 869.5,488.5 872.7,496.8 868.5,505.2 853.9,513.5 851.8,519.4M858.1,476.4 875.8,473.1 901.9,472M713.9,569.2 747.3,566.1 753.5,569.2 761.9,571.3 762.9,580.7 771.9,595.9 764,596.3 753.5,595.3 741,591.7 728.5,591.1 718.1,595.3 713.9,592.2ZM718.1,595.3 728.5,591.1 741,591.7 753.5,595.3 764,596.3 771.9,595.9 773.8,626.6 736.8,628 735.8,625.5 730.6,626.6 719.1,627.6 718.1,608.9ZM712.8,628.7 730.6,626.6 735.8,625.5 736.8,628 773.8,626.6 775,661.4 712.8,663.1ZM651.3,623.5 661.7,622.4 663.8,625.5 680.5,626.6 682.6,625.1 709.7,625.5 712.8,628.7 712.8,663.1 651.3,664.8ZM648.2,569.2 649.2,594.2 649.2,623.5M617.9,595.3 648.2,593.8 672.2,590.1 688.9,589 690.9,597.4 700.3,598.4 703.5,592.2 713.9,592.2M617.9,568.2 632.5,567.7 648.2,568.8 713.9,568.6 747.3,566.1M677.4,537.9 678.4,567.5M636.7,546.3 677.4,545.2M678.4,549.4 711.8,548.3 713.9,544.2 720.1,549.4 722.2,543.1 736.8,542.1 743.1,548.3M743.1,548.3 778.6,546.9 812.4,544.6 813,560.9 818.2,577.6 819.2,590.1 807.8,592.2 795.3,594.2 784.8,596.3 773.3,599.5 771.9,595.9 762.9,580.7 761.9,571.3 753.5,569.2 747.3,566.1ZM773.3,599.5 784.8,596.3 795.3,594.2 807.8,592.2 819.2,590.1 826.6,600.5 831.1,608.9 828.6,621.4 826.6,630.1 811.9,629.7 801.5,631.8 796.3,633.9 795.3,639.5 774.4,640.6 773.8,626.6 772.5,599.5ZM774.4,640.6 795.3,639.5 796.3,633.9 801.5,631.8 811.9,629.7 826.6,630.1 830.7,640.1 834.9,656.8 837,671.4 775.4,676 775,661.4ZM814,544.2 837,542.1 845.5,555.2 849.7,566.7 856,571.9 864.3,580.3 870.6,590.7 878.9,594.9 881,601.1 868.3,606.8 864.1,613.4 845.3,615.1 832.8,613 831.1,608.9 826.6,600.5 819.2,590.1 818.2,577.6 813,560.9ZM832.8,613 845.3,615.1 864.1,613.4 868.3,606.8 881,601.1 883.3,613 891.6,627.6 900,640.1 893.3,646.4 876.6,655.2 875,669.4 837,671.4 834.9,656.8 830.7,640.1 826.6,630.1 828.6,621.4 831.1,608.9ZM876.6,655.2 893.3,646.4 900,640.1 904.2,646 914.2,650.6 915,663.7 903.7,667.3 900,682.9 889.1,684 887.1,679.8 891.2,673.5 888.7,669.8 875,669.4ZM859.9,673.5 875,669.8 888.7,669.8 891.2,673.5 887.1,679.8 889.1,684 900,682.9 897.5,694.4 893.3,702.7 889.6,706.9 866.2,709 857.8,719.4 844.3,719.4 845.3,706.9 849.5,704.8 848.5,694.4 857.8,690.2 859.9,684ZM777.5,676.7 819.2,674.6 820.3,698.6 801.5,699.6 782.7,700.7ZM819.2,675 859.9,673.5 859.9,684 857.8,690.2 848.5,694.4 849.5,704.8 845.3,706.9 828.6,709 822.4,704.8 820.3,698.6ZM782.7,700.7 801.5,699.6 820.3,698.6 822.4,704.8 820.3,717.3 811.9,727.8 809.9,734 801.5,738.2 795.3,746.6 784.8,748.6ZM822.4,704.8 828.6,709 840.1,710 842.2,721.5 844.3,740.3 841.2,748.6 832.8,751.8 811.9,746.6 809.9,734 811.9,727.8 820.3,717.3ZM844.3,719.4 857.8,719.4 866.2,709 889.6,706.9 885,723.6 876.6,740.3 872.5,750.7 868.3,757 864.1,748.6 855.8,740.3 844.3,740.3 842.2,721.5ZM784.8,748.6 795.3,746.6 801.5,738.2 809.9,734 811.9,746.6 810.9,761.2 811.9,784.5 799.4,786.6 797.3,769.5 786.9,769.5ZM811.9,746.6 832.8,751.8 841.2,748.6 848.5,754.9 849.5,783.1 811.9,785.1 810.9,761.2ZM841.2,748.6 844.3,740.3 855.8,740.3 864.1,748.6 868.3,757 873.5,767.4 875.6,782 849.5,783.1 848.5,754.9ZM720.1,665.2 775,662.1 775.4,676 777.5,688.1 770.2,691.3 757.7,695.4 753.5,701.7 745.2,700.7 736.8,693.3 724.3,689.2 716,684 714.9,675.6 719.1,670.4ZM654.4,666.2 720.1,665.2 719.1,670.4 714.9,675.6 716,684 711.8,690.2 684.7,693.3 651.3,691.3 651.3,684 656.5,677.7ZM617.9,665.2 651.3,664.8 654.4,666.2M651.3,691.3 637.7,692.3 636.7,682.3 617.9,684M651.3,691.3 684.7,693.3 682.6,713.2 675.3,714.2 674.2,724 640.9,728.8 638.8,704.8 646.1,700.7ZM684.7,693.3 711.8,690.2 724.3,689.2 736.8,693.3 735.8,706.9 740,717.3 732.7,721.5 731.6,731.9 701.4,735.1 699.3,740.3 688.9,740.3 686.8,723.6 682.6,713.2ZM736.8,693.3 745.2,700.7 753.5,701.7 757.7,695.4 770.2,691.3 777.5,688.1 780.7,713.2 770.2,718.4 764,725.7 753.5,727.8 751.4,740.3 745.2,738.2 731.6,731.9 732.7,721.5 740,717.3 735.8,706.9ZM640.9,728.8 674.2,724 675.3,714.2 682.6,713.2 686.8,723.6 688.9,740.3 686.8,757 676.3,757 661.7,752.8 651.3,746.6 643,743.4 638.8,736.1ZM688.9,740.3 699.3,740.3 701.4,735.1 731.6,731.9 745.2,738.2 747.3,748.6 745.2,761.2 736.8,766.4 724.3,764.3 711.8,765.3 699.3,763.2 690.9,763.2 686.8,757ZM751.4,740.3 753.5,727.8 764,725.7 770.2,718.4 780.7,713.2 782.7,700.7 784.8,748.6 786.9,768.9 778.6,766.4 766,761.2 755.6,764.3 745.2,761.2 747.3,748.6 745.2,738.2ZM647.1,809.1 651.3,779.9 663.8,777.8 664.9,768.5 674.2,764.3 676.3,757M759.8,769.5 751.4,777.8M799.4,786.6 797.3,809.1M637.7,692.3 638.8,704.8M617.9,723.6 624.2,724.6 623.1,713.2 636.7,712.1M881,601.1 906.1,598 910.2,603.2 911.3,622 920.7,626.2 923,631.8 926.1,640.1 925,643.3 914.6,646.4 904.2,646.4 900,640.1 891.7,627.6 883.3,613ZM911.3,604.3 918.6,600.1 937.3,598 941.5,599 939.6,608.9 937.6,616.2 938.6,623.5 931.3,631.8 928.2,640.1 925,643.3 926.1,640.1 923,631.8 920.9,626.2 911.3,622ZM914.6,646.8 925,643.3 928.2,640.1 931.3,631.8 938.6,623.5 937.6,616.2 941.5,614.7 960.3,613.6 966.8,609.9 970.9,613 975.1,623.5 972,633.9 978.2,644.3 983.5,649.5 942.8,657.3 940.7,664.1 915.6,665.2ZM904.2,666.2 915.6,665.2 940.7,664.1 941.7,686 944.9,706.9 900,713.6 889.6,714.8 889.6,706.9 900,682.9 904.2,669.4ZM942.8,657.3 983.5,649.5 1008.5,646.4 1004.3,656.8 997,665.2 994.9,673.5 997,684 991.8,690.2 993.9,702.3 950.1,707.3 944.9,706.9 941.7,686 940.7,664.1ZM1008.5,646.4 1037.7,643.9 1036.7,656.8 1033.5,665.2 1025.2,673.5 1020,684 1016.8,699 993.9,702.3 991.8,690.2 997,684 994.9,673.5 997,665.2 1004.3,656.8ZM1037.7,643.9 1104.5,634.3 1100.3,642.2 1091.9,648.5 1083.6,653.7 1075.3,663.1 1064.8,670.4 1054.4,677.7 1047.1,686 1046,695.4 1016.8,699 1020,684 1025.2,673.5 1033.5,665.2 1036.7,656.8ZM1104.5,634.3 1132.6,629.7 1133.7,638.1 1118,645.4 1115.9,655.8 1113.9,673.5 1100.3,679.8 1087.8,684 1079.4,688.1 1066.9,692.3 1046,695.4 1047.1,686 1054.4,677.7 1064.8,670.4 1075.3,663.1 1083.6,653.7 1091.9,648.5 1100.3,642.2ZM1100.3,642.2 1108.6,651.6 1115.9,655.8M950.1,707.3 952.2,729.9 990.8,728.8 991.8,721.5 996,719.4 993.9,702.3M1013.7,700.2 1016.8,713.2 1023.1,727.8 1029.4,748.6 1037.7,775.8 1044,809.1M1013.7,700.2 1014.3,713.2 1008.5,723.6 1000.1,734 993.9,746.6 989.7,759.1 981.4,761.6 979.3,754.9 983.5,744.5 980.3,730.9M1021,727.8 1016.8,740.3 1010.6,754.9 1002.2,765.3 989.7,767.8 983.5,761.6M952.2,729.9 951.1,769.5 952.2,809.1M951.1,769.5 962.6,769.5 968.9,775.8 983.5,776.8 989.7,782 993.9,788.3 998.1,784.1 1002.2,779.9 1000.1,769.5 1002.2,765.3M998.1,784.1 1016.8,782 1029.4,779.9 1033.5,784.1 1031.4,790.4 1016.8,793.5 1004.3,796.6 991.8,794.5 979.3,796.6 973,802.9 970.9,809.1M1037.7,697.5 1038.7,717.3 1039.8,732.4M1025.2,733.6 1044,731.9 1060.7,735.5M1044,731.9 1041.9,740.3 1050.2,738.2 1060.7,735.5M1066.9,692.3 1068,704.8 1073.2,713.2 1079.4,723.6 1071.1,728.8 1060.7,735.1 1062.7,748.6 1064.8,765.3 1071.1,777.8 1046,783.1 1038.7,776.8M1071.1,777.8 1073.2,809.1M651.3,777.9 651.3,791.5 647.1,794.6 647.1,819.6 657.6,821.7 657.6,840.5 674.2,844.7 682.6,842.6 688.9,850.9 690.9,861.4 688.9,869.7 703.5,872.8 716,867.6 727.4,862.4 726.4,853 736.8,842.6 740,836.3 734.8,830.1 741,821.7 736.8,813.4 745.2,800.9 747.3,788.3 753.5,777.9M797.3,777.9 799.4,819.6 805.7,828 811.9,842.6 814,855.1 813,871.8 810.9,874.9 797.3,877 784.8,876 780.7,867.6 774.4,871.8 770.2,878.1 753.5,882.2 750.4,891.6 747.3,884.3 741,871.8 727.4,862.4M688.9,869.7 703.5,872.8 716,867.6 727.4,862.4 741,871.8 747.3,884.3 750.4,891.6 743.1,898.9 732.7,909.4 722.2,919.8 718.1,926 720.1,934.4 726.4,940.7 720.1,949 716,957.3 711.8,967.8 710.8,976.1 701.4,976.1 692,980.3 689.9,971.9 694.1,961.5 695.1,946.9 690.9,934.4 684.7,924 674.2,915.6 668,913.5 665.9,918.7 653.4,917.7 654.4,903.1 664.9,901 674.2,896.8 682.6,884.3 686.8,873.9ZM750.4,891.6 753.5,882.2 770.2,878.1 774.4,871.8 780.7,867.6 784.8,876 797.3,877 810.9,874.9 808.8,890.6 799.4,896.8 786.9,903.1 780.7,905.2 778.6,898.9 774.4,905.2 775.4,915.6 766,924 753.5,930.2 745.2,934.4 736.8,936.5 732.7,940.7 726.4,940.7 720.1,934.4 718.1,926 722.2,919.8 732.7,909.4 743.1,898.9ZM617.9,918.7 653.4,917.7M617.9,921.9 628.3,942.7 640.9,957.3 651.3,971.9 653.4,986.6 661.7,1001.2 668,1007.4 676.3,1009.5 690.9,1015.8 703.5,1017.8 713.9,1023.1 719.1,1017.8 716,1009.5 711.8,999.1 709.7,988.6 710.8,976.1M676.3,1009.5 682.6,994.9 692,994.9 693,1000.1 710.8,1000.1M617.9,823.8 628.3,824.9 628.3,839.5 647.1,840.5 657.6,840.5M799.4,786.7 816.5,787.3 818.2,800.9 815.1,810.3 820.3,818.6 815.1,822.8 805.7,822.8 799.4,819.6ZM816.5,787.3 849.5,785.2 851.6,796.7 855.8,811.3 856.8,818.6 845.3,821.7 832.8,826.9 828.6,817.6 825.5,815.5 820.3,818.6 815.1,810.3 818.2,800.9ZM849.5,785.2 875.6,783.1 880.8,800.9 876.6,811.3 870.4,824.9 864.1,819.6 856.8,818.6 855.8,811.3 851.6,796.7ZM805.7,822.8 815.1,822.8 820.3,818.6 825.5,815.5 828.6,817.6 832.8,826.9 830.7,836.3 833.9,853 814,854.7 811.9,842.6 805.7,828ZM832.8,826.9 845.3,821.7 856.8,818.6 864.1,819.6 870.4,824.9 868.3,846.8 874.5,859.3 878.7,865.5 866.2,867.6 855.8,866.6 843.2,864.5 841.2,855.1 833.9,853 830.7,836.3ZM870.4,824.9 876.6,811.3 880.8,800.9 899.6,799.2 903.7,807.1 901.7,821.7 899.6,841.5 868.3,847.2ZM814,854.7 833.9,853 841.2,855.1 843.2,864.5 855.8,866.6 851.6,873.9 857.8,884.3 855.8,893.7 841.2,890.6 824.5,889.5 808.8,890.6 810.9,874.9 813,871.8ZM949.9,757.9 950.9,791.3 954.1,822.6 956.2,841.4 958.2,856.4M1030.2,757.9 1035.4,772.5 1040.7,780.9 1042.7,787.1 1044.8,805.9 1046.9,820.5 1052.1,832 1053.2,833M952,772.5 963.5,769.4 971.8,773.6 984.3,772.5 990.6,780.9 993.7,787.1 1001,786.1 1003.1,772.5 1001,768.3M1003.1,772.5 1013.5,769.4 1026,774.6 1036.5,776.7 1040.7,780.9M953,797.6 963.5,796.5 965.5,803.8 971.8,802.8 973.9,796.5 980.1,794.4 996.8,799.6 1009.4,797.6 1021.9,794.4 1030.2,791.3 1030.2,780.9 1026,777.7M956.2,841.4 958.2,836.2 969.7,834.1 973.5,828.9 977,832 978.1,839.3 982.2,845.5 983.3,852.8 978.1,858.1 974.9,851.8 971.8,844.5 968.7,846.6 966.6,856 958.2,856.4ZM978.1,839.3 978.1,837.2 980.1,835.5 1044.8,825.1 1053.2,833 1085.5,829.9 1082.4,843.5 1078.2,849.7 1071.9,854.9 1067.8,851.8 1055.3,864.3 1046.9,866.4 1040.7,858.1 1034.4,851.8 1021.9,847.6 1009.4,850.3 996.8,848.3 983.3,852.8 982.2,845.5ZM1085.5,829.9 1117.8,825.7 1128.3,824.7 1130.4,828.9 1133.5,818.4 1145,816.3 1151.2,828.9 1159.6,847.6 1161.7,853.9 1151.2,858.1 1140.8,856 1130.4,860.1 1126.2,874.8 1113.7,870.6 1101.2,862.2 1088.6,853.9 1078.2,849.7 1082.4,843.5ZM1067.8,782.5 1071.9,778.8 1080.3,780.9 1088.6,776.7 1094.9,783 1103.2,778.8 1110.5,781.9 1109.5,801.7 1117.8,820.5 1117.8,825.7 1085.5,829.9 1083.4,819.5 1075.1,816.3ZM1110.5,781.9 1112.6,770.4 1151.2,769.4 1149.1,780.9 1146,793.4 1145,816.3 1133.5,818.4 1130.4,828.9 1128.3,824.7 1117.8,825.7 1117.8,820.5 1109.5,801.7ZM1042.7,787.1 1067.8,782.5M896.9,713.8 923.6,712.6 921,724.7 921.9,738.4 926.2,754.7 911.5,757 902.1,755.9 892.6,754.2 887.5,750.4 877.2,764.2 873.7,757.3 877.2,743.6 887.5,724.7 892.6,717.8ZM923.6,712.6 949,710.6 949.3,739.3 926.2,742.7 921.9,738.4 921,724.7ZM926.2,742.7 949.3,739.3 949.9,757.8 949.7,789.6 927.9,791.3 927,776.2 928.7,757.3 926.2,754.7ZM877.2,764.2 887.5,750.4 892.6,754.2 902.1,755.9 899.9,757.7 896.9,769.3 896.4,781.4 904.7,787.4 903,791.7 896.9,798.9 884.1,798.9 878.9,790 873.7,769.3ZM902.1,755.9 911.5,757 926.2,754.7 928.7,757.3 927,776.2 927.9,791.3 926.2,804.1 916.7,806.3 915.3,812.3 905.5,812 903.8,800.3 903,791.7 904.7,787.4 896.4,781.4 896.9,769.3 899.9,757.7ZM927.9,791.3 949.7,789.6 950.9,791.3 954.2,822.6 955.4,836.4 944.2,841.5 932.2,843.2 929.6,831.2 926.2,817.5 926.2,804.1ZM882.3,798.9 896.9,798.9 903,791.7 903.8,800.3 903.8,812.3 903,829.5 896.9,835.5 896.4,841.9 870.3,845.8 868.6,839.8 870.3,826 877.2,812.3ZM905.5,812 915.3,812.3 916.7,806.3 926.2,804.1 926.2,817.5 929.6,831.2 932.2,843.2 920.1,842.9 896.4,841.9 896.9,835.5 903,829.5 903.8,812.3ZM920.1,842.9 932.2,843.2 944.2,841.5 955.4,836.4 956.2,841.3 958.3,856.5 945.9,859.6 935.6,862.5 927,865.9 924.4,858.7 921,851ZM867.7,848 896.4,841.9 920.1,842.9 921,851 924.4,858.7 927,865.9 920.1,867.3 916.7,865.6 905.5,866.4 904.7,868.5 894.4,870.7 880.6,869 875.5,862.1 870.3,855.3ZM870.3,855.3 875.5,862.1 880.6,869M737.5,520 771,517.5 773.8,522.5 770.5,546 742.5,548.8 740,540ZM1260,392.5 1271.2,391.2 1273.8,412.5 1261.2,413.8ZM1077.5,473.8 1090,465 1098.8,458.8 1112.5,448.2 1122.5,437.5 1126.2,425 1123.8,407.5 1130,402.5 1145,398.8 1162.5,397.5 1177.5,392.5 1185,385 1190,375 1185,370 1177.5,368.8 1180,362.5 1187.5,360 1190,350 1197.5,340 1205,332.5 1220,327.5 1240,322.5 1275,311.2 1281.2,300 1290,292.5 1292.5,282.5 1293.8,262.5 1292.5,242.5 1300,218.8 1310,220 1320,215 1332.5,216.2 1337.5,225 1342.5,240 1351.2,260 1362.5,263.8 1367.5,272.5 1376.2,282.5 1372.5,286.2 1360,297.5 1345,305 1340,317.5 1330,325 1327.5,335 1317.5,340 1315,355 1312.5,365 1311.2,372.5 1320,377.5 1317.5,385 1320,392.5 1330,397.5 1340,400 1345,402.5 1342.5,392.5 1338,391.2M1345,402.5 1341.2,406.2 1335,415 1330,412.5 1327.5,417.5 1320,412.5 1315,410 1312.5,412.5 1310,417.5 1302.5,420 1292.5,425 1280,432.5 1270,440 1265,447.5 1260,452.5 1260,460 1265,475 1266.2,490 1262.5,507.5 1255,522.5M1260,460 1270,450 1280,443.8 1292.5,437.5 1305,433.8 1300,438.8 1290,443.8 1275,455 1265,462.5ZM1275,311.2 1277.5,325 1273.8,340 1272.5,350 1270,362.5 1268.8,375 1267.5,390M1281.2,300 1287.5,320 1295,340 1305,360 1311.2,372.5M1295,330 1305,310 1320,292.5 1337.5,275 1351.2,261.2M1310,352.5 1320,330 1332.5,312.5 1350,295 1367.5,275M1272.5,350 1280,347.5 1282.5,357.5 1287.5,360 1290,350 1293.8,340M1221.2,327.5 1230,345 1237.5,362.5 1242.5,377.5 1237.5,380M1236.2,323.8 1245,350 1252.5,372.5 1255,392.5 1258.8,415 1263.8,440 1265,447.5M1250,320 1257.5,350 1262.5,375 1265,390M1260,391.2 1311.2,378.8M1261.2,413.8 1302.5,406.2 1310,407.5M1300,383.8 1302.5,406.2 1303.8,420M1307.5,407.5 1312.5,412.5M1271.2,391.2 1270,375M1273.8,412.5 1277.5,425 1280,432.5M1235,380 1240,400 1247.5,425 1255,445 1258.8,452.5M1252.5,372.5 1260,392.5M1261.2,413.8 1265,440M1123.8,407.5 1127.5,412.5 1145,410 1155,407.5 1162.5,412.5 1177.5,402.5 1190,400 1195,395 1192.5,385 1197.5,375 1197.5,365 1190,360M1130,436.2 1131.2,430 1142.5,422.5 1160,420 1167.5,425 1175,422.5 1190,421.2 1195,407.5 1195,395M1197.5,385 1215,382.5 1230,385 1237.5,380M1200,395 1215,400 1230,397.5 1240,390 1237.5,380M1195,360 1200,350 1215,340 1225,335 1221.2,327.5M1240,400 1242.5,417.5 1240,435 1236.2,450M1114.2,453 1216.2,431.2M897.9,330.5 908.3,331.5 916.7,338.9 920.9,340.9 923,337.8 941.7,332.6 954.2,327.4 966.8,324.7 969.9,330.5 975.1,332.6 984.5,330.5 989.7,338.9 997,345.1 991.8,347.2 983.5,347.2 979.3,350.3 968.9,348.2 958.4,352.4 950.1,356.6 941.7,362.8 933.4,368.1 928.2,374.3 923,386.8 920.9,395.2 924.8,396.6 922.7,417.5 919.6,440.5 921.7,450.9 923.8,462.4 924.8,470.7 929,484.3 935.3,496.8 945.9,494.3 956.3,487 957.4,470.3 960.5,453.6 962.6,443.2 959.5,436.9 952.2,432.7 950.1,420.2 951.1,403.5 950.1,395.2 955.3,386.8 962.6,378.5 970.9,368.1 977.2,357.6 980.3,352.4 987.6,355.5 1000.1,359.7 1010.6,366 1015.8,372.2 1014.8,376.4 1018.9,386.8 1020,397.3 1013.7,403.5 1008.5,407.7 1009.5,416 1014.8,420.2 1021,411.9 1029.4,403.5 1035.6,406.7 1039.8,414 1044,428.6 1048.1,436.9 1046,447.3 1041.9,449.4 1037.7,461.9 1033.5,472.4 1031.4,478.6 1037.7,480.7 1046,484.9 1054.4,485.9 1066.9,478.6 1077.3,470.3 1087.8,461.9 1099.2,458.8 1112.8,448.4M982.8,356 987.6,405.6M897.9,403.5 912.5,399.4 920.9,393.1M1302.5,440 1280,452.5 1260,467.5 1265,472.5 1266.2,485 1262.5,502.5 1255,520 1252.5,512.5 1245,502.5 1237.5,498 1232.5,500 1240,505.5 1250,522.5 1255,535 1250,557.5 1245,575 1242.5,583.8M1245,592.5 1255,605 1265,618.8 1255,630 1252.5,650 1247.5,657.5 1230,665 1226.2,675 1220,687.5 1215,697.5 1200,702.5 1192.5,712.5 1187.5,725 1180,740 1170,747.5 1160,755 1155,762.5M1232.5,500 1235,515 1240,530 1242.5,545 1252.5,545M1185,511.2 1227.5,502.5M977.5,649 1055,638.8 1132.5,628 1200,613.8 1245,600.5M990,600 997.5,590 1005,580 1012.5,570 1020,568M1046.2,583.8 1052.5,595 1062.5,602.5 1080,612.5 1090,605 1075,620 1055,638.8M1090,605 1105,600 1120,590 1130,580 1132.5,565 1140,557.5 1145,540 1155,535 1160,522.5 1170,517.5 1180,522.5 1187.5,515 1182.5,512.5M1182.5,512.5 1192.5,522.5 1200,535 1205,545 1215,550 1225,557.5 1230,565M1132.5,628 1140,612.5 1135,605 1145,590 1155,575 1165,560 1175,550 1187.5,540 1197.5,535M1167.5,590 1172.5,600 1180,612.5 1177.5,618M1200,613.8 1202.5,590 1207.5,570 1205,557.5 1200,535M1116.2,647.5 1135,646.2 1155,642.5 1170,641.2 1185,637.5 1192.5,640M1115,661.2 1140,657.5 1167.5,652.5 1172.5,657.5 1170,665M1170,665 1187.5,652.5 1200,640 1197.5,627.5 1200,613.8M1112.5,676.2 1122.5,675 1130,682.5 1140,681.2 1170,676.2 1177.5,681.2 1200,701.2M1170,676.2 1172.5,665M1187.5,652.5 1205,657.5 1217.5,660 1227.5,665M1185,637.5 1205,635 1220,633.8 1232.5,640M1197.5,627.5 1220,625 1230,615M977.5,702.5 1066.2,695 1067.5,710 1075,720 1080,725 1072.5,730 1062.5,735 1063.8,762.5M1007.5,515 1020,513.5M1007.5,515 1010,540 1020,541.8M985,527.5 1007.5,522.5M985,527.5 987.5,550 997.5,557.5 995,570 987.5,570M1010,540 1012.5,570M1002.5,585 1010,600 1007.5,612.5 1022.5,627.5 1020,645M1022.5,627.5 1037.5,610 1045,590 1046.2,583.8M1055,640 1070,622.5 1090,605M1180,522.5 1185,535 1187.5,540M1197.5,535 1205,522.5 1215,515 1227.5,503.8M96.2,557.5 95,567.5M53.8,517.5 55,530 62.5,545 65,557.5 70,567.5 75,570 77.5,577.5 75,582.5 80,595 77.5,610 82.5,625 87.5,640 95,655 100,667.5 97.5,680 105,687.5 117.5,692.5 127.5,702.5 140,710 150,720 160,727.5 170,740 176.2,755 175,766.2 195,767.5 240,770 237.5,775 272.5,796.2 335,827.5 390,835 402.5,835.8M70,567.5 77.5,565 87.5,563 95,567.5M141.2,548.8 255,697.5M136.2,531.2 142.5,550M150,517.5 141.2,548.8M96.2,567.5 102.5,595 110,620 117.5,645 120,663.8 135,677.5 148.8,683.8M101.2,560 115,550 140,551.2 152.5,577.5 162.5,597.5 170,620 173.8,645 168.8,662.5 157.5,677.5 148.8,683.8M101.2,667.5 112.5,663.8 120,663.8M148.8,683.8 157.5,692.5 165,702.5 177.5,706.2 182.5,712.5 190,707.5 197.5,710 190,720 187.5,727.5 191.2,745 193.8,767M160,568.8 167.5,567.5 168.8,587.5 157.5,591.2M166.2,568.8 168.8,552.5 200,553.8 245,562.5 260,580 287.5,585M200,553.8 202.5,545 210,535 212.5,517.5M298.8,517.5 287.5,585 281.2,632.5 280,640 277.5,660 265,665 260,670 258.8,690 255,697.5 257.5,710 265,723.8 255,727.5 250,740 243.8,752.5 246.2,762.5 245,770M281.2,631.2 292.5,628.8 308.8,632.5 306.2,638.8 281.2,639.5M203.8,625 210,622.5 220,632.5 230,642.5 235,652.5 237.5,658.8 240,645 247.5,642.5 252.5,622.5 260,627.5 265,620 270,625 268.8,637.5 277.5,635M280,639.5 317.5,643.8 402.5,653M333.2,518.2 325,528.2 323.2,535 328.2,543.2 335,560 327.5,577.5 320,595 310,612.5 300,620 292.5,628M335,560 350,558.8 360,572.5 355,590 352.5,605 365,612.5 372.5,615 362.5,625 350,635 337.5,645M350,517.5 352.5,540 355,557.5 360,572.5 375,565 382.5,565 390,572.5 402.5,575M382.5,565 380,550 385,542.5 402.5,540M317.5,643.8 312.5,655 307.5,665 292.5,672.5 290,690 287.5,715 285,727.5 275,782.5 272.5,796.2M265,725 280,727.5 285,727M290,690 300,697.5 310,702.5 315,710 327.5,712.5 331.2,725 327.5,735 330,740M285,736.2 307.5,742.5 330,740 337.5,755 343.8,775 352.5,772.5 353.8,762.5 367.5,760 370,746.2 362.5,745 350,742.5 348.8,735 331.2,732.5M367.5,760 377.5,760 390,756.2 397.5,755M276.2,781.2 352.5,791.2 352.5,772.5M588.8,525.5 630,525 631.2,546.2 637.5,553.2 632.5,567.5 588.8,568ZM586.5,625 648.8,623.2 651.2,665 585.5,664ZM418.8,527.5 405,652.5M377.5,650 405,652.5 560,665 585.5,664M587.5,537.5 588.8,568 586.5,625 585.5,664M472.5,531.2 476.2,545 487.5,552.5 496.2,546.2 498.8,557.5 490,567.5 495,575 487.5,582.5 477.5,587.5 478.8,600 475,610 480,616.2M480,595 490,605 510,597.5 516.2,592.5 530,592.5 545,587.5 555,572.5 560,557.5 565,545 577.5,540 587.5,538.8M545,587.5 560,595 572.5,602.5 577.5,615 586,625M478.8,615 467.5,622.5 455,630 445,632.5 455,637.5 465,645 471.2,655 472.5,658.8M480,616.2 490,625 497.5,635 497.5,642.5 505,646.2 506.2,661.2M415,538.8 400,540 385,542.5 381.2,552.5 382.5,565 390,572.5 405,573.8 413.8,568.8ZM630,525 632.5,515 677.5,511.2 678.8,477.5M677.5,511.2 678.8,567.5M631.2,546.2 677.5,543.8 710,541.2 712.5,550 720,548.8 721.2,540 735,538.8M678.8,521.2 690,518.8 691.2,512.5 725,510 730,515M588.8,568 632.5,567.5 715,566.2 742.5,565.5M588.8,597.5 648.8,595 652.5,594.5M648.8,568 650,595 648.8,623.2M560,665 558.8,680 555,730 553.2,757.5M560,679.5 636.2,682 637.5,692.5M637,682.5 637.5,712.5 623.8,713.8 622.5,723.8 608.8,725 610,750 608.8,757M405,652.5 400,730 398,757.5M457.5,658.8 456.2,680 445,687.5 432.5,702.5 420,705 417.5,730 401.2,731.2M432.5,702.5 450,707.5 462.5,705 467.5,712.5 490,713.8 497.5,710 505,708.8M538.8,665 540,675 530,687.5 525,680 516.2,680 515,695 516.2,705 505,708.8M505,708.8 520,720 530,735 532.5,752.5 540,767.5 552.5,775M450,707.5 442.5,720 447.5,730 440,740 445,755M467.5,712.5 465,727.5 470,740 460,750 472.5,760M497.5,710 502.5,727.5 497.5,742.5 492.5,755M337.5,827 390,835 412.5,836.2 413.8,823.8 456.2,825M393.8,757.5 390,835M456.2,820 457.5,826.2 470,840 485,855 500,867.5 505,882.5 510,895 525,907.5 537.5,916.2 546.2,921.2 553.8,915 560,900 570,893.8 580,895 587.5,896.2 595,896.2 605,906.2 617.5,917.5M456.2,820 505,821.2 555,822.5 556.2,757.5M555,822.5 573.8,822.5 575,853.8 586.2,862.5 590,872.5 587.5,896.2M575,836.2 601.2,836.2 601.2,823.8 618,823.8M610,757.5 610,780 595,781.2 595,795 590,796.2 590,808.8 601.2,810 601.2,823.8M337.5,792.5 351.2,791.2 352.5,757.5M397.5,770 402.5,765 405,775 415,790 422.5,797.5 427.5,795 430,780 440,775 445,780 447.5,797.5 460,812.5 462.5,805 465,785 470,770 475,757.5M480,757.5 482.5,780 480,797.5 485,807.5 495,802.5 497.5,785 495,770 490,757.5M495,802.5 505,821.2M532.5,757.5 537.5,770 547.5,775 555.5,775M1126.7,904.2 1140,900 1143.3,895 1156.7,890.8 1181.7,884.7 1184.2,886.7 1193.3,901.7 1200.8,917 1186.7,921.7 1175,923.3 1170,930.8 1153.3,933.3 1145.8,937.5 1140,935 1135.8,926.7 1133.3,920 1136.7,913.3 1130,910ZM1126.2,874.8 1126.7,890 1125.8,903.3 1126.7,904.2M1161.7,853.8 1173.3,866.7 1178.3,875 1183.3,885M1145.8,937.5 1150,941.7 1155,948.3 1160,946.7 1161.7,956.7 1166.7,963.3 1170,969.2 1176.7,969.2 1183.3,975 1188.3,981.7 1191.7,986.7 1196.7,990 1203.3,989.2 1210,986.7 1216.7,983.3 1219.2,976.7 1218.3,966.7 1216.7,956.7 1215.8,943.3 1211.7,930 1206.7,921.7 1200.8,917M1196.7,921.7 1201.7,933.3 1205,946.7 1206.7,960 1205,973.3 1201.7,986.7M1201.7,918.3 1208.3,930 1211.7,946.7 1212.5,960 1211.7,973.3 1206.7,985M246.7,396.7 253.3,380 261.7,365 265.8,357.5M245,395.8 251.7,386.7 260,380 266.7,379.2 270.8,385 270.8,393.3 266.7,400 264.2,408.3 265,416.7 268.3,426.7 273.3,435 281.7,440.8 280.8,445 279.2,449.2M243,425 248.3,433.3 256.7,441.7 266.7,447.5 279.2,449.2 285,456.7 293.3,465 301.7,471.7 304.2,480M281.7,441.3 293.3,438.3 305,434.2 316.7,430.8 326.7,427.5 336.7,422.5 341.7,416.7 343.3,410 342.5,407.5M325.3,368 320,378.3 313.3,388.3 310.8,400 312.5,410 316.7,418.3 323.3,426.7 326.7,427.5M316.7,431.2 321.3,443.3 321.7,456.7 317.5,466.7 311.7,471.7 305,473M343.3,408.3 356.7,410 366.7,412.5 371.7,416.7 368.3,423.3 361.7,433.3 353.3,446.7 345,456.7 333.3,466.7 323.3,473.3 316.7,472.8M718.8,486.2 766.2,482M1079.4,724.4 1087.5,728.1 1095,729.6 1103.8,727.5 1106.2,725M1075,701.2 1081.2,702.5 1086.2,706.2 1092.5,712.5 1100,720 1106.2,725 1112.5,730 1120,736.2 1125,740 1131.2,745 1136.2,753.8 1141.2,758.8 1145,765 1148.8,768.8 1151.9,770.6M1075,701.2 1076.2,695 1082.5,688.8 1091.2,683.8 1098.8,680.6 1095,685 1086.2,690 1080,696.2 1076.9,700ZM1095,729.6 1097.5,740 1102.5,750 1106.2,757.5 1103.8,763.8 1111.9,770M1092.5,712.5 1095,707.5 1102.5,701.2 1110,703.8 1115,706.2 1118.8,697.5 1122.5,696.2M1122.5,677.5 1121.9,685 1123.8,696.2 1127.5,703.8 1126.2,710 1126.9,716.2 1131.2,722.5 1133.1,726.2 1130,732.5 1125,740M1122.5,677.5 1127.5,675 1133.8,676.2 1137.5,681.2 1145,683.8 1150,691.2 1153.8,696.2 1150,702.5 1145,703.8 1140,701.2 1135,703.8 1127.5,703.8M1153.8,696.2 1160,701.2 1166.2,707.5 1167.5,713.8 1165,720 1160,727.5 1155,732.5 1148.8,736.2 1142.5,732.5 1135,729.4 1133.1,726.2M1165,720 1175,723.8 1186.2,728.1M1125,740 1131.2,736.2 1137.5,733.8 1142.5,732.5M1167.5,677.5 1173.8,667.5 1175,658.8M1160,755 1155,762.5 1151.9,770.6M1098.8,458.8 1112.5,448.5 1115,452.5 1132.5,448.8 1166.2,443.1 1169.4,457.5 1161.2,460 1157.5,461.2 1150,460 1138.8,461.9 1136.9,468.1 1143.1,471.2 1144.4,476.2 1144.4,483.8 1136.2,483.1 1130,481.9 1125,480 1118.8,480 1112.5,481.9 1102.5,483.1 1100.6,472.5ZM1098.8,458.8 1100.6,472.5 1102.5,483.1 1106.2,501.2 1110,515 1115,528.8 1155,518.8 1171.2,515 1200,507.8M1106.2,501.2 1107.5,507.5 1106.2,515 1105,525 1102.5,535 1100,545 1098.1,556.2 1087.5,554.8 1082.5,560 1081.2,572.5 1077.5,577.5 1072.5,580 1065,572.5 1060,570 1052.5,575 1046.2,572.5 1041.2,576.2 1032.5,572.5 1026.2,567.5 1020,565M1033.8,481.2 1037.5,505 1038.1,515 1038.8,527.5 1040,546.2 1041.2,558.8 1042.5,575M1037.5,509.4 1052.5,506.2 1053.8,498.8 1057.5,496.2 1063.8,495 1067.5,490 1068.8,482.5 1067.5,479.8M1053.8,498.8 1056.2,510 1055.6,518.8 1070,521.2 1081.2,517.5 1080,505 1078.8,495 1067.5,495M1078.8,495 1090,490 1093.8,486.2 1102.5,483.1M1081.2,517.5 1095,515 1106.2,516.2M1070,521.2 1067.5,530 1063.8,532.5 1067.5,538.8 1061.2,545 1061.2,552.5 1070,557.5 1076.2,555 1086.2,552.5 1087.5,554.8M1040,546.2 1045,548.8 1051.2,546.2 1061.2,546.2M1020,540 1027.5,540 1038.8,542.5M1072.5,580 1073.8,590 1076.2,601.2M1098.1,556.2 1107.5,565 1112.5,568.8 1118.8,563.8 1126.2,557.5 1132.5,550 1133.8,540 1130,532.5 1131.2,526.2M1100,557.5 1101.2,546.2 1107.5,537.5 1115,532.5M1137.5,526.2 1140,535 1143.8,537.5 1147.5,527.5 1150,521.9M1150,527.5 1148.8,540 1146.2,552.5 1143.8,562.5 1140,572.5 1137.5,583.8 1132.5,601.2M1157.5,550 1152.5,560 1150,572.5 1146.2,583.8 1142.5,601.2M1170,515 1167.5,527.5 1165,540 1160,548.8 1157.5,550 1163.8,555 1167.5,562.5 1173.8,565 1182.5,562.5 1188.8,555 1195,548.8 1200,546.2M1173.8,565 1171.2,575 1167.5,583.8 1170,593.8 1172.5,601.2M1112.5,568.8 1107.5,577.5 1102.5,587.5 1100,601.2M1122.5,577.5 1117.5,585 1112.5,593.8 1110,601.2M1144.4,483.8 1147.5,486.2 1146.2,495 1143.8,502.5 1150,503.8 1153.8,510 1155,518.8M1147.5,486.2 1157.5,485 1171.2,483.8 1172.5,492.5 1175,502.5 1171.2,515M1171.2,483.8 1177.5,477.5 1182.5,471.2 1181.2,465 1172.5,458.8 1169.4,457.5M1175,502.5 1182.5,497.5 1192.5,493.8 1200,490M1182.5,471.2 1187.5,476.2 1186.2,483.8 1195,477.5 1200,476.2M1169.4,457.5 1177.5,455 1186.2,451.9 1192.5,456.2 1200,458.8M1166.2,443.1 1200,437.2M1131.2,438.8 1132.5,448.8M1216.2,431.2 1218.3,428.3 1224.4,431.1 1227.8,436.7 1229.4,441.1 1237.8,443.9 1246.7,446.1 1257.8,449.4 1260,450M1237.8,443.9 1235.6,450 1233.3,456.7 1232.2,462.2 1233.3,468.9 1237.8,473.3 1243.3,476.7 1246.7,478.9 1245.6,482.2 1242.2,486.7 1238.9,492.2 1233.3,496.7 1228.9,497.8 1227.8,501.1 1226.7,504.4M1260,468.9 1261.1,477.8 1260,488.9 1257.8,500 1254.4,512.2 1252.8,518.9M1255.6,465.6 1252.2,468.9 1251.1,473.3 1246.7,478.3M1228.9,497.8 1232.2,502.2 1234.4,507.8 1240,511.1 1246.7,512.8 1252.2,512.8M1262.2,418.9 1264.4,431.1 1266.7,441.1 1265.6,447.8M1272.2,418.9 1276.7,424.4 1275.6,431.1 1268.9,434.4 1266.7,441.1M1248.9,418.9 1248.9,426.7 1246.7,433.3 1243.3,440 1240.6,443.9M1215.6,428.9 1217.8,434.4 1216.7,440 1212.2,443.3 1210,448.9 1203.3,453.3 1200,457.8 1201.1,458.9 1194.4,457.8 1188.9,453.3 1185.6,451.7 1180,455.6M1201.1,458.9 1205.6,464.4 1205.6,468.9 1198.9,475.6 1196.7,480 1198.9,482.2 1194.4,491.1 1193.3,493.3 1202.2,497.8 1210,503.3 1212.2,505.6M1205.6,468.9 1213.3,464.4 1216.7,458.9 1222.2,463.3 1224.4,465.6 1228.9,462.2 1232.2,462.2M1198.9,482.2 1207.8,480 1214.4,475.6 1221.1,476.7 1227.8,478.9 1232.2,472.2 1233.3,468.9M1180,436.7 1185.6,434.4 1192.2,435 1194.4,433.9M1192.2,435 1196.7,426.7 1197.8,422.2 1194.4,418.9M1212.2,505.6 1226.7,502.8M1240.6,515.6 1246.7,520 1251.1,526.7 1254.4,533.3 1255.6,540 1253.3,548.9 1251.1,563.3M1237.8,540 1255.6,537.8M1180,512.2 1183.3,520 1186.7,526.7 1194.4,531.1 1202.2,534.4 1198.9,542.2 1193.3,551.1 1186.7,563.3M920.3,341 921,351.7 923,361.7 925.3,370.8 927,375.3M852.5,875 857.5,871.2 866.2,868.1 875,870 881.2,871.9 883.8,877.5 890,881.2 888.8,887.5 885,890 880,893.1 875,890 868.8,886.2 862.5,883.8 857.5,880ZM881.2,871.9 895,870.6 903.8,871.9 906.2,873.8 915,873.8 918.8,871.2 923.8,873.8 930,871.2 933.8,875 932.5,880 927.5,885 940,892.5 946.2,896.2 945,901.2 937.5,898.8 927.5,893.8 920,890 915,891.2 917.5,898.8 912.5,903.8 907.5,898.8 901.2,901.2 895,905 887.5,903.8 883.8,898.8 885,890 888.8,887.5 890,881.2 883.8,877.5ZM852.5,875 857.5,880 856.2,887.5 862.5,890 866.2,893.8 857.5,893.1 852.5,895 838.8,893.8"/>
<path class="ln" d="M106.2,209.8 110,208.2 127.5,213.8 147.5,220 149,223.8 146.5,233.8 142.5,236.5 136.2,235.2 115,226.9 108.8,223.5 106.9,216.2ZM108.8,229.4 107.1,237.5 108.1,250 109,262.5 108.8,275 107.5,287.5 106.2,298.8 107.5,301.5M108.8,229.4 117.5,235 123.5,242.2 127.5,250 130,258.8 127.5,267.5 122.8,275 120.4,286.2 120.4,297.5 123.1,306.2M131.2,289 130,285 132.5,277.5 136.5,270 140.2,262.5 144,256.2 148.8,253.8 153.8,255 157.5,258.8 156.2,270 152.5,277.5 145,283.8 137.5,289ZM123.5,242.2 137.5,247.5 144,250M107.5,301.5 115,303.8 123.1,306.9 127.5,310 130,317.5 131.2,325 137.5,328.8 146.2,330.6M140,216.6 153.2,220.7 194.8,230.3 217.2,235.4 226.3,237.4 260,243.5M153.2,220.7 157.8,225.2 160.8,230.3 161.8,236.4 160.8,244.5 161.8,252.6 160.3,258.7 161.8,266.9 160.8,276 161.8,283.1 159.8,290.2 156.2,292.7 155.7,295.8 161.3,298.3 152.2,303.4 145.1,307.5 142,312.5 143.6,319.6 146.1,327.8M163.9,223.2 164.6,235.4 165.4,250.6 164,260.8 164.4,266.9 162.9,275 163.6,283.1 164.8,291.2 164.8,299.3 163.4,307.5 161.8,315.6 159.1,322.7 156.8,329M168.9,259.7 172.5,265.3 165.4,264.8M194.8,230.3 195.3,239.4 191.8,245 188.7,254.7 185.7,262.8 183.7,267.5 180.1,272.5 177.5,280.1 175,290 171.5,298.7 170.5,305.9 172.5,312.5M217.2,235.4 215.1,240.5 211.1,246.5 209,251.6 202.9,253.7 201.9,258.7 200.9,263.8 195.3,260.8 194.8,264.8 195.3,270.9 192.8,276 187.7,278 189.7,283.1 194.8,289.2 192.8,294.3 187.7,291.2 183.7,292.2 182.6,297.3 180.6,303.4 175.5,309 172.5,312.5 173,316.1 176.5,320.7 181.6,324.7 178.6,328.3 170.5,331.8 167.4,334.1M226.3,237.4 224.3,243.5 224.8,252.6 226.3,260.8 227.3,268.9 231.4,276 239.5,282.1 247.6,287.2 260,291.7M247.6,287.2 245.6,294.3 243,301.9M187.7,278 200.9,280.1 211.1,282.1 219.2,285.1 224.3,290.2 231.4,294.3 243,301.9 239.5,309.5 233.4,316.6 229.3,321.7 231.4,328.8 233.9,336.9M146.1,327.8 156.8,329.3 161.8,331.8 167.4,334.4 173.5,333.4 182.6,334.4 192.8,332.8 202.9,333.4 213.1,332.3 221.2,334.4 233.9,336.9 260,340.5M107.5,301.4 101.9,320 96.3,335 89.7,353.8 83.1,370.6 75.6,385.6 68.1,400.6 65.3,413.8 64.4,425 65.3,432.5 64.4,440 60.6,455 54.1,470 50.3,479.4 51.3,488.8 56.9,500 57.8,511.3 55,526.3 58.8,541.3 66.3,554.4 68.1,561.9M65.3,432.5 112.2,442.8 145,451.3 206.9,462.5 233.1,468.1 304.4,480.3 310,481.3M115.6,304.4 116.9,312.5 111.3,321.3 110.3,331.3 105.6,344.4 100,353.8 95.3,363.1 93.4,374.4 101.9,380 105.6,387.5 115,389.4 128.1,392.2M93.4,374.4 90.6,385.6 87.8,398.8 84.1,410 77.5,421.3 76.6,430.6 77.5,434.8M141.3,333.1 137.5,340.6 130,353.8 128.1,366.9 124.4,378.1 116.9,389M146.9,330.3 148.8,338.8 145,351.9 142.2,366.9 137.5,381.9 128.1,392.2 126.3,402.5 120.6,413.8 116.9,425 114.1,436.3 112.2,442.8M146.9,330.3 156.3,333.1 169.4,334.3 182.5,334.1 199.4,332.2 216.3,333.1 227.5,335 235,337.8 260.3,340.6M229.4,335.9 227.5,325.6 231.3,320M147.8,355.6 173.1,360.3 175,355.6 182.5,355.6 199.4,364.1 208.8,359.4 221.9,351.9 229.4,344.4 231.3,337.8M199.4,364.1 193.8,372.5 197.5,385.6 203.1,393.1 214.4,395 218.1,391.3 225.6,388.4 235,389.4 240.6,395 246.3,396.9M260.3,340.6 271.6,348.1 272.5,357.5 265,365 255.6,380 246.3,396.9 242.5,413.8 236.9,441.9 233.1,468.1M214.4,395 212.5,417.5 208.8,441.9 206.9,462.5M135.6,383.8 141.3,395 150.6,406.3 156.3,419.4 152.5,432.5 145,441.9 137.5,444.7 133.8,436.3 131.9,425 126.3,417.5 118.8,421.3M145,451.3 139.4,460.6 126.3,470 120.6,468.1 101.9,463.4 98.1,470 88.8,483.1 81.3,488.8 80.3,500 78.4,509.4 81.3,516.9 77.5,526.3 73.8,533.8 77.5,541.3 86.9,546.9 94.4,554.4 96.3,561.9M162.8,454.1 152.5,507.5 142.2,549.7M155.3,453.1 150.6,479.4 145.9,516.9 142.2,549.7M125.3,494.4 133.8,483.1 145,475.6 154.8,469.1M125.3,494.4 133.8,507.5 145,518.8 147.8,524.4M147.8,524.4 137.5,528.1 139.4,541.3 142.2,549.7M233.1,468.1 229.4,488.8 227.5,511.3 220,513.1 214.4,522.5 208.8,531.9 205,545 201.3,554.4M169.4,549.7 201.3,554.4 242.5,561.9M250,241.2 275,246.2 295,251.2 337.5,258.2 412.5,267.8 483.8,274 551.2,277.8 610,278.8M275,246.2 268.8,290 258.8,337.5M295,251.2 293,270 296.2,295 302.5,307.5 311.2,320 316.2,331.2 314.5,350 311.2,365 323.8,367.5 327.5,380 332.5,392.5 337.5,395 340,406.2 355,406.2 372.5,405 378.8,402.5 382.5,410 385,412.5M292,277.5 285,273.8 281.2,285 276.2,295 267.5,302.5 265,306.2M261.2,330 270,326.2 282.5,332.5 292.5,340 290,345 277.5,337.5 267.5,340 265,350 272.5,355M337.5,258.8 342.5,267.5 350,280 355,292.5 351.2,302.5 352.5,317.5 357.5,330 362.5,340 355,347.5 342.5,356.2 332.5,362.5 325,367M351.2,302.5 360,306.2 370,308.8 382.5,305 395,306.2 402.5,313.8 412.5,316.2 422.5,308.8 437.5,307.5 447.5,312.5 460,316.2 470,313.8 475,295 483.8,275M362.5,340 372.5,342.5 375,360 382.5,355 393.8,356.2 400,356.2 420,360 425,362.5 445,361.2 462.5,355 463.8,340 462.5,316.2M393.8,356.2 390,375 386.2,382.5 385,395M463.8,340 505,347.5 507.5,337.5 512.5,336.2 525,338.8 535,345 542.5,330 550,328.8M462.5,355 475,356.2 481.2,367.5 483.8,382.5 486.2,395 496.2,400.5M385,395 496.2,401.2 543.8,405M551.2,278 547.5,330 545,377.5 543.8,405 542.5,470 540,535M370,521.2 418.2,527.5 470,532.5 540,534.8 590,537.5M385,395 380,435 376.2,487.5 370,521.2M250,470.8 303.8,480 376.2,488.8M385,412.5 392.5,410 402.5,413.8 410,420 405,410 412.5,406.2 425,405 435,401.2M467.5,403.8 462.5,410 470,422.5 472.5,437.5 467.5,448.8 450,450 435,446.2 422.5,437.5 412.5,432.5 403.8,435 400,445 390,457.5 382.5,465 377.5,473.8M402.5,413.8 410,427.5 403.8,435M400,445 410,460 415,472.5 425,482.5 437.5,480 447.5,475 460,472.5 465,460 467.5,448.8M425,482.5 427.5,495 440,502.5 452.5,512.5 462.5,527.5 472.5,532.5M460,472.5 475,468.8 487.5,472.5 500,470 515,477.5 530,485 541.2,495M460,477.5 485,481.2 497.5,492.5 505,510 506.2,532.5M500,470 495,455 502.5,445 522.5,435 532.5,432.5 543.8,437.5M502.5,445 507.5,425 520,415 532.5,407.5M547.5,378 601.2,380 600,423.8 545.8,422ZM545.8,422 557.5,425 563.8,437.5 557.5,452.5 550,462.5 544.5,457.5M543,470 600,472.5 610,473M601.2,380 610,380.5M600,423.8 601.2,472.5M588.8,472.5 590,537M550,307.5 557.5,306.2 567.5,308.8 577.5,306.2 582.5,317.5 610,316.2M547.5,330 570,331.2 571.2,342.5 590,345 593.8,347.5 595,379M607.5,278.8 607.5,292.5 610,293.8M303.8,480 299.2,517.5M340,484.5 338.8,502.5 333,517.5M360,487 353.8,495 352.5,517.5M590,277.5 647.5,278.8 697.5,278 740,277 740,265 747.5,265 750,280 752.5,282.5 765,286.2 777.5,288.8 785,286.2 802.5,293.8 815,298.8 832.5,293.8 847.5,296.2 863.8,300 850,307.5 835,320 825,332.5 815,342.5 810,346.2M697.5,278.8 700,290 700,305 702.5,320 706.2,335 708.8,350 710,355 712.5,365 713.8,380 707.5,387.5 715,395 716.2,415 717.5,420 718,455 715,465 720,485 725,497.5 730,510 736.2,527.5 740,542.5 745,552.5 750,562.5M590,316.2 616.2,315 627.5,318 671.2,316.2 671.2,320.5 702.5,320M590,347.5 615,345 617.5,337.5 625,333 636.2,337 638.8,356.2 672.5,355 709.5,353M607.5,278.8 607.5,292.5 615,293.8 616.2,315M648,281.2 649.5,293.8 653.8,296.2 656.2,302.5 662.5,307.5 670,312.5 671.2,320.5 672.5,355M627.5,318 625,333M638.8,356.2 641.2,377.5M590,378 601.2,378.8 641.2,377.5 710,375.8M601.2,378.8 601.2,425 601.2,447.5 602.5,472M601.2,409.5 660,410 716.2,409.5M660,378 661.2,410 662.5,441.2 661.2,472.5M662.5,441.2 716.2,440M602.5,447.5 615,446.2 627.5,451.2 645,452.5 647.5,457.5 660.8,458.8M590,472.5 602.5,472 661.2,472.5 677.5,473.8 697.5,477.5 707.5,480 718.8,486.2M740,277 736.2,290 733.8,305 740,309.5 742,350 710,353M786.8,287.5 790,315 791.2,343.8 808.8,345M791.2,343.8 775,340 773.8,347.5 762.5,347.5 763.8,362.5 775,365 776.2,380 782.5,387.5 783.8,402.5 790,410 797.5,407.5M742,350 746.2,352.5 747.5,380 746.2,400 741.2,412.5 742.5,417.5M718,419 742.5,417.5 752.5,425 755,428.8 750,432.5 755,437.5 756.2,453M753.8,426.2 775,423.8 796.2,421.2M797.5,407.5 793,411.2 795.5,420 797.5,450M718,455 765,453.8 810,451.8 840,448M810,346.2 808.8,365 800,375 798.8,385 802.5,396.2 793,408M810,346.2 820,342.5 830,338.8 840,335.5 848.8,346.2 860,340 877.5,330 886.2,322.5 892.5,330 897.5,328.8 893.8,333.8 905,337.5 920,342.5 935,335 950,330M849.5,347 865,353 881.2,360 907.5,365 915,375 918.8,387.5M840,336.2 841.2,347.5 845,365 846.2,380 845,403.8M881.2,360 882.5,375 877.5,380 878.8,390 882.5,395 883.8,405M861.2,407.5 883.8,405 896.2,403.8 915,402.5 925,395M896.2,403.8 895.5,440M918.8,387.5 925,395 923.2,415 920.5,440M791.3,411.3 794.4,408.2 808,416.5 820.5,424.9 830.9,432.2 838.2,440.5 840.3,448 797.6,452.2 796.5,428ZM794.4,408.2 802.8,397.7 823.6,395.6 826.8,406.1 844.5,405 847.6,415.5 860.8,419.6 862.2,439.5 840.3,442.2 838.2,440.5 830.9,432.2 820.5,424.9 808,416.5ZM840.3,442.2 862.2,439.5 880,441.5 876.8,457.2 875.8,473.1 858.1,476.4 851.8,471.8 845.5,463.5 842.4,455.1 840.3,448ZM880,441.5 907.1,439.5 906,453 902.9,463.5 901.9,472 875.8,473.1 876.8,457.2ZM907.1,439.5 919.6,440.5 921.7,450.9 923.8,462.4 924.8,470.8 901.9,472 902.9,463.5 906,453ZM811.5,451.8 840.3,448 842.4,455.1 845.5,463.5 851.8,471.8 858.1,476.4 860.1,483.3 813.8,487.4 812.2,480.1ZM765.2,453.6 811.5,451.8 812.2,480.1 768.3,482.2 766.3,480.1ZM768.3,482.2 812.2,480.1 813.8,487.4 819.5,492.7 820.5,513.5 773.6,515.6 774.6,501 769.4,492.7ZM773.6,515.6 806.9,514.6 812.2,524 813.2,542.7 769.4,545.9 770.4,526ZM809,515.6 820.5,513.5 841.4,515.6 849.7,519.8 852.8,528.1 849.7,536.5 843.5,541.7 813.2,542.7 812.2,524ZM901.9,472 924.8,470.8 929,484.3 935.3,496.8 935.3,505.2 916.5,511.4 904,516.7 899.8,513.5 898.7,492.7 900.8,478.1ZM905,517.7 916.5,511.4 935.3,505.2 939.4,526 941.5,551.1 916.5,558.4 914.4,546.9 917.5,535.4 910.2,526ZM881,519.8 898.7,516.7 904,517.7 906,524 917.5,535.4 914.4,546.9 916.5,558.4 908.1,564.6 901.9,559.4 889.4,555.3 883.1,556.3 880,546.9 883.1,534.4ZM851.8,519.8 873.7,520.2 880,520.8 883.1,534.4 880,546.9 878.9,553.2 868.5,559.4 849.7,566.7 845.5,555.3 847.6,538.6 849.7,536.5 852.8,528.1ZM849.7,566.7 868.5,559.4 878.9,553.2 883.1,556.3 889.4,555.3 901.9,559.4 906,567.8 904,580.3 906,597 881,601.2 878.9,594.9 870.6,590.7 864.3,580.3 856,571.9ZM908.1,564.6 916.5,558.4 941.5,552.1 944.6,571.9 946.7,590.7 937.3,598 918.6,600.1 916.5,604.3 910.2,603.2 906,597 904,580.3 906,567.8ZM937.3,497.3 956.5,491.6 960.3,505.2 959.2,521.9 941.5,530.6 939.4,526 936.3,505.2ZM956.5,491.6 979.1,486.4 980.1,496.8 983.2,517.7 964.5,526 960.3,528.1 959.2,521.9 960.3,505.2ZM979.1,486.4 998.9,484.3 1002,501 1004.1,515.6 984.3,521.9 983.2,517.7 980.1,496.8ZM941.5,531.3 959.2,528.1 964.5,563.6 965.5,570.9 944.6,572.4 941.5,551.1ZM944.6,573 965.5,570.9 967.6,588.6 966.6,609.5 960.3,613.7 941.5,614.7 937.3,615.8 941.5,599.1 946.7,590.7ZM967.6,566.7 980.1,565.1 982.2,580.3 988.5,588.6 989.5,599.1 981.2,605.3 974.9,609.5 968.6,611.6 967.6,588.6ZM1002,484.7 1033.3,480.6 1035.4,501.4 1025.4,505.2 1024.3,513.5 1004.1,516.7ZM959.2,444.7 968.6,438.4 974.9,437.4 981.2,440.5 979.1,450.9 978,461.4 984.3,465.5 985.3,471.8 985.3,485.4 978,486 957.2,488.1 958.2,471.8 959.7,459.3ZM950.3,413.4 972.8,410.5 974.9,437.4 968.6,438.4 959.2,444.7 954,432.2 951.3,421.7ZM972.8,410.5 1004.1,406.3 1007.2,413.4 1003.1,436.3 984.3,440.5 981.2,440.5 974.9,437.4ZM1004.1,406.3 1013.5,403.4 1009.3,413.4 1010.8,419.2 1018.7,415.5 1023.3,407.1 1031.2,403 1039.6,409.2 1043.7,423.8 1044.8,430.1 1039.6,426.9 1031.2,430.1 1025,429 1013.5,435.3 1003.1,436.3 1007.2,413.4ZM984.3,440.5 1003.1,436.3 1013.5,435.3 1011.4,448.9 1010.4,463.5 1009.7,483.5 985.3,485.4 985.3,471.8 984.3,465.5 978,461.4 979.1,450.9 981.2,440.5ZM1013.5,435.3 1025,429 1031.2,430.1 1039.6,426.9 1044.8,430.1 1049,438 1043.7,444.7 1039.6,463.5 1033.7,477.6 1033.3,480.6 1009.7,483.5 1010.4,463.5 1011.4,448.9ZM860.8,419.6 862.2,407.1 895.6,404 894.6,436.3M895.6,404 914.4,400.9 921.7,392.5 924.8,396.7 922.7,417.6 919.6,440.5M860.1,483.3 869.5,488.5 872.7,496.8 868.5,505.2 853.9,513.5 851.8,519.4M858.1,476.4 875.8,473.1 901.9,472M713.9,569.2 747.3,566.1 753.5,569.2 761.9,571.3 762.9,580.7 771.9,595.9 764,596.3 753.5,595.3 741,591.7 728.5,591.1 718.1,595.3 713.9,592.2ZM718.1,595.3 728.5,591.1 741,591.7 753.5,595.3 764,596.3 771.9,595.9 773.8,626.6 736.8,628 735.8,625.5 730.6,626.6 719.1,627.6 718.1,608.9ZM712.8,628.7 730.6,626.6 735.8,625.5 736.8,628 773.8,626.6 775,661.4 712.8,663.1ZM651.3,623.5 661.7,622.4 663.8,625.5 680.5,626.6 682.6,625.1 709.7,625.5 712.8,628.7 712.8,663.1 651.3,664.8ZM648.2,569.2 649.2,594.2 649.2,623.5M617.9,595.3 648.2,593.8 672.2,590.1 688.9,589 690.9,597.4 700.3,598.4 703.5,592.2 713.9,592.2M617.9,568.2 632.5,567.7 648.2,568.8 713.9,568.6 747.3,566.1M677.4,537.9 678.4,567.5M636.7,546.3 677.4,545.2M678.4,549.4 711.8,548.3 713.9,544.2 720.1,549.4 722.2,543.1 736.8,542.1 743.1,548.3M743.1,548.3 778.6,546.9 812.4,544.6 813,560.9 818.2,577.6 819.2,590.1 807.8,592.2 795.3,594.2 784.8,596.3 773.3,599.5 771.9,595.9 762.9,580.7 761.9,571.3 753.5,569.2 747.3,566.1ZM773.3,599.5 784.8,596.3 795.3,594.2 807.8,592.2 819.2,590.1 826.6,600.5 831.1,608.9 828.6,621.4 826.6,630.1 811.9,629.7 801.5,631.8 796.3,633.9 795.3,639.5 774.4,640.6 773.8,626.6 772.5,599.5ZM774.4,640.6 795.3,639.5 796.3,633.9 801.5,631.8 811.9,629.7 826.6,630.1 830.7,640.1 834.9,656.8 837,671.4 775.4,676 775,661.4ZM814,544.2 837,542.1 845.5,555.2 849.7,566.7 856,571.9 864.3,580.3 870.6,590.7 878.9,594.9 881,601.1 868.3,606.8 864.1,613.4 845.3,615.1 832.8,613 831.1,608.9 826.6,600.5 819.2,590.1 818.2,577.6 813,560.9ZM832.8,613 845.3,615.1 864.1,613.4 868.3,606.8 881,601.1 883.3,613 891.6,627.6 900,640.1 893.3,646.4 876.6,655.2 875,669.4 837,671.4 834.9,656.8 830.7,640.1 826.6,630.1 828.6,621.4 831.1,608.9ZM876.6,655.2 893.3,646.4 900,640.1 904.2,646 914.2,650.6 915,663.7 903.7,667.3 900,682.9 889.1,684 887.1,679.8 891.2,673.5 888.7,669.8 875,669.4ZM859.9,673.5 875,669.8 888.7,669.8 891.2,673.5 887.1,679.8 889.1,684 900,682.9 897.5,694.4 893.3,702.7 889.6,706.9 866.2,709 857.8,719.4 844.3,719.4 845.3,706.9 849.5,704.8 848.5,694.4 857.8,690.2 859.9,684ZM777.5,676.7 819.2,674.6 820.3,698.6 801.5,699.6 782.7,700.7ZM819.2,675 859.9,673.5 859.9,684 857.8,690.2 848.5,694.4 849.5,704.8 845.3,706.9 828.6,709 822.4,704.8 820.3,698.6ZM782.7,700.7 801.5,699.6 820.3,698.6 822.4,704.8 820.3,717.3 811.9,727.8 809.9,734 801.5,738.2 795.3,746.6 784.8,748.6ZM822.4,704.8 828.6,709 840.1,710 842.2,721.5 844.3,740.3 841.2,748.6 832.8,751.8 811.9,746.6 809.9,734 811.9,727.8 820.3,717.3ZM844.3,719.4 857.8,719.4 866.2,709 889.6,706.9 885,723.6 876.6,740.3 872.5,750.7 868.3,757 864.1,748.6 855.8,740.3 844.3,740.3 842.2,721.5ZM784.8,748.6 795.3,746.6 801.5,738.2 809.9,734 811.9,746.6 810.9,761.2 811.9,784.5 799.4,786.6 797.3,769.5 786.9,769.5ZM811.9,746.6 832.8,751.8 841.2,748.6 848.5,754.9 849.5,783.1 811.9,785.1 810.9,761.2ZM841.2,748.6 844.3,740.3 855.8,740.3 864.1,748.6 868.3,757 873.5,767.4 875.6,782 849.5,783.1 848.5,754.9ZM720.1,665.2 775,662.1 775.4,676 777.5,688.1 770.2,691.3 757.7,695.4 753.5,701.7 745.2,700.7 736.8,693.3 724.3,689.2 716,684 714.9,675.6 719.1,670.4ZM654.4,666.2 720.1,665.2 719.1,670.4 714.9,675.6 716,684 711.8,690.2 684.7,693.3 651.3,691.3 651.3,684 656.5,677.7ZM617.9,665.2 651.3,664.8 654.4,666.2M651.3,691.3 637.7,692.3 636.7,682.3 617.9,684M651.3,691.3 684.7,693.3 682.6,713.2 675.3,714.2 674.2,724 640.9,728.8 638.8,704.8 646.1,700.7ZM684.7,693.3 711.8,690.2 724.3,689.2 736.8,693.3 735.8,706.9 740,717.3 732.7,721.5 731.6,731.9 701.4,735.1 699.3,740.3 688.9,740.3 686.8,723.6 682.6,713.2ZM736.8,693.3 745.2,700.7 753.5,701.7 757.7,695.4 770.2,691.3 777.5,688.1 780.7,713.2 770.2,718.4 764,725.7 753.5,727.8 751.4,740.3 745.2,738.2 731.6,731.9 732.7,721.5 740,717.3 735.8,706.9ZM640.9,728.8 674.2,724 675.3,714.2 682.6,713.2 686.8,723.6 688.9,740.3 686.8,757 676.3,757 661.7,752.8 651.3,746.6 643,743.4 638.8,736.1ZM688.9,740.3 699.3,740.3 701.4,735.1 731.6,731.9 745.2,738.2 747.3,748.6 745.2,761.2 736.8,766.4 724.3,764.3 711.8,765.3 699.3,763.2 690.9,763.2 686.8,757ZM751.4,740.3 753.5,727.8 764,725.7 770.2,718.4 780.7,713.2 782.7,700.7 784.8,748.6 786.9,768.9 778.6,766.4 766,761.2 755.6,764.3 745.2,761.2 747.3,748.6 745.2,738.2ZM647.1,809.1 651.3,779.9 663.8,777.8 664.9,768.5 674.2,764.3 676.3,757M759.8,769.5 751.4,777.8M799.4,786.6 797.3,809.1M637.7,692.3 638.8,704.8M617.9,723.6 624.2,724.6 623.1,713.2 636.7,712.1M881,601.1 906.1,598 910.2,603.2 911.3,622 920.7,626.2 923,631.8 926.1,640.1 925,643.3 914.6,646.4 904.2,646.4 900,640.1 891.7,627.6 883.3,613ZM911.3,604.3 918.6,600.1 937.3,598 941.5,599 939.6,608.9 937.6,616.2 938.6,623.5 931.3,631.8 928.2,640.1 925,643.3 926.1,640.1 923,631.8 920.9,626.2 911.3,622ZM914.6,646.8 925,643.3 928.2,640.1 931.3,631.8 938.6,623.5 937.6,616.2 941.5,614.7 960.3,613.6 966.8,609.9 970.9,613 975.1,623.5 972,633.9 978.2,644.3 983.5,649.5 942.8,657.3 940.7,664.1 915.6,665.2ZM904.2,666.2 915.6,665.2 940.7,664.1 941.7,686 944.9,706.9 900,713.6 889.6,714.8 889.6,706.9 900,682.9 904.2,669.4ZM942.8,657.3 983.5,649.5 1008.5,646.4 1004.3,656.8 997,665.2 994.9,673.5 997,684 991.8,690.2 993.9,702.3 950.1,707.3 944.9,706.9 941.7,686 940.7,664.1ZM1008.5,646.4 1037.7,643.9 1036.7,656.8 1033.5,665.2 1025.2,673.5 1020,684 1016.8,699 993.9,702.3 991.8,690.2 997,684 994.9,673.5 997,665.2 1004.3,656.8ZM1037.7,643.9 1104.5,634.3 1100.3,642.2 1091.9,648.5 1083.6,653.7 1075.3,663.1 1064.8,670.4 1054.4,677.7 1047.1,686 1046,695.4 1016.8,699 1020,684 1025.2,673.5 1033.5,665.2 1036.7,656.8ZM1104.5,634.3 1132.6,629.7 1133.7,638.1 1118,645.4 1115.9,655.8 1113.9,673.5 1100.3,679.8 1087.8,684 1079.4,688.1 1066.9,692.3 1046,695.4 1047.1,686 1054.4,677.7 1064.8,670.4 1075.3,663.1 1083.6,653.7 1091.9,648.5 1100.3,642.2ZM1100.3,642.2 1108.6,651.6 1115.9,655.8M950.1,707.3 952.2,729.9 990.8,728.8 991.8,721.5 996,719.4 993.9,702.3M1013.7,700.2 1016.8,713.2 1023.1,727.8 1029.4,748.6 1037.7,775.8 1044,809.1M1013.7,700.2 1014.3,713.2 1008.5,723.6 1000.1,734 993.9,746.6 989.7,759.1 981.4,761.6 979.3,754.9 983.5,744.5 980.3,730.9M1021,727.8 1016.8,740.3 1010.6,754.9 1002.2,765.3 989.7,767.8 983.5,761.6M952.2,729.9 951.1,769.5 952.2,809.1M951.1,769.5 962.6,769.5 968.9,775.8 983.5,776.8 989.7,782 993.9,788.3 998.1,784.1 1002.2,779.9 1000.1,769.5 1002.2,765.3M998.1,784.1 1016.8,782 1029.4,779.9 1033.5,784.1 1031.4,790.4 1016.8,793.5 1004.3,796.6 991.8,794.5 979.3,796.6 973,802.9 970.9,809.1M1037.7,697.5 1038.7,717.3 1039.8,732.4M1025.2,733.6 1044,731.9 1060.7,735.5M1044,731.9 1041.9,740.3 1050.2,738.2 1060.7,735.5M1066.9,692.3 1068,704.8 1073.2,713.2 1079.4,723.6 1071.1,728.8 1060.7,735.1 1062.7,748.6 1064.8,765.3 1071.1,777.8 1046,783.1 1038.7,776.8M1071.1,777.8 1073.2,809.1M651.3,777.9 651.3,791.5 647.1,794.6 647.1,819.6 657.6,821.7 657.6,840.5 674.2,844.7 682.6,842.6 688.9,850.9 690.9,861.4 688.9,869.7 703.5,872.8 716,867.6 727.4,862.4 726.4,853 736.8,842.6 740,836.3 734.8,830.1 741,821.7 736.8,813.4 745.2,800.9 747.3,788.3 753.5,777.9M797.3,777.9 799.4,819.6 805.7,828 811.9,842.6 814,855.1 813,871.8 810.9,874.9 797.3,877 784.8,876 780.7,867.6 774.4,871.8 770.2,878.1 753.5,882.2 750.4,891.6 747.3,884.3 741,871.8 727.4,862.4M688.9,869.7 703.5,872.8 716,867.6 727.4,862.4 741,871.8 747.3,884.3 750.4,891.6 743.1,898.9 732.7,909.4 722.2,919.8 718.1,926 720.1,934.4 726.4,940.7 720.1,949 716,957.3 711.8,967.8 710.8,976.1 701.4,976.1 692,980.3 689.9,971.9 694.1,961.5 695.1,946.9 690.9,934.4 684.7,924 674.2,915.6 668,913.5 665.9,918.7 653.4,917.7 654.4,903.1 664.9,901 674.2,896.8 682.6,884.3 686.8,873.9ZM750.4,891.6 753.5,882.2 770.2,878.1 774.4,871.8 780.7,867.6 784.8,876 797.3,877 810.9,874.9 808.8,890.6 799.4,896.8 786.9,903.1 780.7,905.2 778.6,898.9 774.4,905.2 775.4,915.6 766,924 753.5,930.2 745.2,934.4 736.8,936.5 732.7,940.7 726.4,940.7 720.1,934.4 718.1,926 722.2,919.8 732.7,909.4 743.1,898.9ZM617.9,918.7 653.4,917.7M617.9,921.9 628.3,942.7 640.9,957.3 651.3,971.9 653.4,986.6 661.7,1001.2 668,1007.4 676.3,1009.5 690.9,1015.8 703.5,1017.8 713.9,1023.1 719.1,1017.8 716,1009.5 711.8,999.1 709.7,988.6 710.8,976.1M676.3,1009.5 682.6,994.9 692,994.9 693,1000.1 710.8,1000.1M617.9,823.8 628.3,824.9 628.3,839.5 647.1,840.5 657.6,840.5M799.4,786.7 816.5,787.3 818.2,800.9 815.1,810.3 820.3,818.6 815.1,822.8 805.7,822.8 799.4,819.6ZM816.5,787.3 849.5,785.2 851.6,796.7 855.8,811.3 856.8,818.6 845.3,821.7 832.8,826.9 828.6,817.6 825.5,815.5 820.3,818.6 815.1,810.3 818.2,800.9ZM849.5,785.2 875.6,783.1 880.8,800.9 876.6,811.3 870.4,824.9 864.1,819.6 856.8,818.6 855.8,811.3 851.6,796.7ZM805.7,822.8 815.1,822.8 820.3,818.6 825.5,815.5 828.6,817.6 832.8,826.9 830.7,836.3 833.9,853 814,854.7 811.9,842.6 805.7,828ZM832.8,826.9 845.3,821.7 856.8,818.6 864.1,819.6 870.4,824.9 868.3,846.8 874.5,859.3 878.7,865.5 866.2,867.6 855.8,866.6 843.2,864.5 841.2,855.1 833.9,853 830.7,836.3ZM870.4,824.9 876.6,811.3 880.8,800.9 899.6,799.2 903.7,807.1 901.7,821.7 899.6,841.5 868.3,847.2ZM814,854.7 833.9,853 841.2,855.1 843.2,864.5 855.8,866.6 851.6,873.9 857.8,884.3 855.8,893.7 841.2,890.6 824.5,889.5 808.8,890.6 810.9,874.9 813,871.8ZM949.9,757.9 950.9,791.3 954.1,822.6 956.2,841.4 958.2,856.4M1030.2,757.9 1035.4,772.5 1040.7,780.9 1042.7,787.1 1044.8,805.9 1046.9,820.5 1052.1,832 1053.2,833M952,772.5 963.5,769.4 971.8,773.6 984.3,772.5 990.6,780.9 993.7,787.1 1001,786.1 1003.1,772.5 1001,768.3M1003.1,772.5 1013.5,769.4 1026,774.6 1036.5,776.7 1040.7,780.9M953,797.6 963.5,796.5 965.5,803.8 971.8,802.8 973.9,796.5 980.1,794.4 996.8,799.6 1009.4,797.6 1021.9,794.4 1030.2,791.3 1030.2,780.9 1026,777.7M956.2,841.4 958.2,836.2 969.7,834.1 973.5,828.9 977,832 978.1,839.3 982.2,845.5 983.3,852.8 978.1,858.1 974.9,851.8 971.8,844.5 968.7,846.6 966.6,856 958.2,856.4ZM978.1,839.3 978.1,837.2 980.1,835.5 1044.8,825.1 1053.2,833 1085.5,829.9 1082.4,843.5 1078.2,849.7 1071.9,854.9 1067.8,851.8 1055.3,864.3 1046.9,866.4 1040.7,858.1 1034.4,851.8 1021.9,847.6 1009.4,850.3 996.8,848.3 983.3,852.8 982.2,845.5ZM1085.5,829.9 1117.8,825.7 1128.3,824.7 1130.4,828.9 1133.5,818.4 1145,816.3 1151.2,828.9 1159.6,847.6 1161.7,853.9 1151.2,858.1 1140.8,856 1130.4,860.1 1126.2,874.8 1113.7,870.6 1101.2,862.2 1088.6,853.9 1078.2,849.7 1082.4,843.5ZM1067.8,782.5 1071.9,778.8 1080.3,780.9 1088.6,776.7 1094.9,783 1103.2,778.8 1110.5,781.9 1109.5,801.7 1117.8,820.5 1117.8,825.7 1085.5,829.9 1083.4,819.5 1075.1,816.3ZM1110.5,781.9 1112.6,770.4 1151.2,769.4 1149.1,780.9 1146,793.4 1145,816.3 1133.5,818.4 1130.4,828.9 1128.3,824.7 1117.8,825.7 1117.8,820.5 1109.5,801.7ZM1042.7,787.1 1067.8,782.5M896.9,713.8 923.6,712.6 921,724.7 921.9,738.4 926.2,754.7 911.5,757 902.1,755.9 892.6,754.2 887.5,750.4 877.2,764.2 873.7,757.3 877.2,743.6 887.5,724.7 892.6,717.8ZM923.6,712.6 949,710.6 949.3,739.3 926.2,742.7 921.9,738.4 921,724.7ZM926.2,742.7 949.3,739.3 949.9,757.8 949.7,789.6 927.9,791.3 927,776.2 928.7,757.3 926.2,754.7ZM877.2,764.2 887.5,750.4 892.6,754.2 902.1,755.9 899.9,757.7 896.9,769.3 896.4,781.4 904.7,787.4 903,791.7 896.9,798.9 884.1,798.9 878.9,790 873.7,769.3ZM902.1,755.9 911.5,757 926.2,754.7 928.7,757.3 927,776.2 927.9,791.3 926.2,804.1 916.7,806.3 915.3,812.3 905.5,812 903.8,800.3 903,791.7 904.7,787.4 896.4,781.4 896.9,769.3 899.9,757.7ZM927.9,791.3 949.7,789.6 950.9,791.3 954.2,822.6 955.4,836.4 944.2,841.5 932.2,843.2 929.6,831.2 926.2,817.5 926.2,804.1ZM882.3,798.9 896.9,798.9 903,791.7 903.8,800.3 903.8,812.3 903,829.5 896.9,835.5 896.4,841.9 870.3,845.8 868.6,839.8 870.3,826 877.2,812.3ZM905.5,812 915.3,812.3 916.7,806.3 926.2,804.1 926.2,817.5 929.6,831.2 932.2,843.2 920.1,842.9 896.4,841.9 896.9,835.5 903,829.5 903.8,812.3ZM920.1,842.9 932.2,843.2 944.2,841.5 955.4,836.4 956.2,841.3 958.3,856.5 945.9,859.6 935.6,862.5 927,865.9 924.4,858.7 921,851ZM867.7,848 896.4,841.9 920.1,842.9 921,851 924.4,858.7 927,865.9 920.1,867.3 916.7,865.6 905.5,866.4 904.7,868.5 894.4,870.7 880.6,869 875.5,862.1 870.3,855.3ZM870.3,855.3 875.5,862.1 880.6,869M737.5,520 771,517.5 773.8,522.5 770.5,546 742.5,548.8 740,540ZM1260,392.5 1271.2,391.2 1273.8,412.5 1261.2,413.8ZM1077.5,473.8 1090,465 1098.8,458.8 1112.5,448.2 1122.5,437.5 1126.2,425 1123.8,407.5 1130,402.5 1145,398.8 1162.5,397.5 1177.5,392.5 1185,385 1190,375 1185,370 1177.5,368.8 1180,362.5 1187.5,360 1190,350 1197.5,340 1205,332.5 1220,327.5 1240,322.5 1275,311.2 1281.2,300 1290,292.5 1292.5,282.5 1293.8,262.5 1292.5,242.5 1300,218.8 1310,220 1320,215 1332.5,216.2 1337.5,225 1342.5,240 1351.2,260 1362.5,263.8 1367.5,272.5 1376.2,282.5 1372.5,286.2 1360,297.5 1345,305 1340,317.5 1330,325 1327.5,335 1317.5,340 1315,355 1312.5,365 1311.2,372.5 1320,377.5 1317.5,385 1320,392.5 1330,397.5 1340,400 1345,402.5 1342.5,392.5 1338,391.2M1345,402.5 1341.2,406.2 1335,415 1330,412.5 1327.5,417.5 1320,412.5 1315,410 1312.5,412.5 1310,417.5 1302.5,420 1292.5,425 1280,432.5 1270,440 1265,447.5 1260,452.5 1260,460 1265,475 1266.2,490 1262.5,507.5 1255,522.5M1260,460 1270,450 1280,443.8 1292.5,437.5 1305,433.8 1300,438.8 1290,443.8 1275,455 1265,462.5ZM1275,311.2 1277.5,325 1273.8,340 1272.5,350 1270,362.5 1268.8,375 1267.5,390M1281.2,300 1287.5,320 1295,340 1305,360 1311.2,372.5M1295,330 1305,310 1320,292.5 1337.5,275 1351.2,261.2M1310,352.5 1320,330 1332.5,312.5 1350,295 1367.5,275M1272.5,350 1280,347.5 1282.5,357.5 1287.5,360 1290,350 1293.8,340M1221.2,327.5 1230,345 1237.5,362.5 1242.5,377.5 1237.5,380M1236.2,323.8 1245,350 1252.5,372.5 1255,392.5 1258.8,415 1263.8,440 1265,447.5M1250,320 1257.5,350 1262.5,375 1265,390M1260,391.2 1311.2,378.8M1261.2,413.8 1302.5,406.2 1310,407.5M1300,383.8 1302.5,406.2 1303.8,420M1307.5,407.5 1312.5,412.5M1271.2,391.2 1270,375M1273.8,412.5 1277.5,425 1280,432.5M1235,380 1240,400 1247.5,425 1255,445 1258.8,452.5M1252.5,372.5 1260,392.5M1261.2,413.8 1265,440M1123.8,407.5 1127.5,412.5 1145,410 1155,407.5 1162.5,412.5 1177.5,402.5 1190,400 1195,395 1192.5,385 1197.5,375 1197.5,365 1190,360M1130,436.2 1131.2,430 1142.5,422.5 1160,420 1167.5,425 1175,422.5 1190,421.2 1195,407.5 1195,395M1197.5,385 1215,382.5 1230,385 1237.5,380M1200,395 1215,400 1230,397.5 1240,390 1237.5,380M1195,360 1200,350 1215,340 1225,335 1221.2,327.5M1240,400 1242.5,417.5 1240,435 1236.2,450M1114.2,453 1216.2,431.2M897.9,330.5 908.3,331.5 916.7,338.9 920.9,340.9 923,337.8 941.7,332.6 954.2,327.4 966.8,324.7 969.9,330.5 975.1,332.6 984.5,330.5 989.7,338.9 997,345.1 991.8,347.2 983.5,347.2 979.3,350.3 968.9,348.2 958.4,352.4 950.1,356.6 941.7,362.8 933.4,368.1 928.2,374.3 923,386.8 920.9,395.2 924.8,396.6 922.7,417.5 919.6,440.5 921.7,450.9 923.8,462.4 924.8,470.7 929,484.3 935.3,496.8 945.9,494.3 956.3,487 957.4,470.3 960.5,453.6 962.6,443.2 959.5,436.9 952.2,432.7 950.1,420.2 951.1,403.5 950.1,395.2 955.3,386.8 962.6,378.5 970.9,368.1 977.2,357.6 980.3,352.4 987.6,355.5 1000.1,359.7 1010.6,366 1015.8,372.2 1014.8,376.4 1018.9,386.8 1020,397.3 1013.7,403.5 1008.5,407.7 1009.5,416 1014.8,420.2 1021,411.9 1029.4,403.5 1035.6,406.7 1039.8,414 1044,428.6 1048.1,436.9 1046,447.3 1041.9,449.4 1037.7,461.9 1033.5,472.4 1031.4,478.6 1037.7,480.7 1046,484.9 1054.4,485.9 1066.9,478.6 1077.3,470.3 1087.8,461.9 1099.2,458.8 1112.8,448.4M982.8,356 987.6,405.6M897.9,403.5 912.5,399.4 920.9,393.1M1302.5,440 1280,452.5 1260,467.5 1265,472.5 1266.2,485 1262.5,502.5 1255,520 1252.5,512.5 1245,502.5 1237.5,498 1232.5,500 1240,505.5 1250,522.5 1255,535 1250,557.5 1245,575 1242.5,583.8M1245,592.5 1255,605 1265,618.8 1255,630 1252.5,650 1247.5,657.5 1230,665 1226.2,675 1220,687.5 1215,697.5 1200,702.5 1192.5,712.5 1187.5,725 1180,740 1170,747.5 1160,755 1155,762.5M1232.5,500 1235,515 1240,530 1242.5,545 1252.5,545M1185,511.2 1227.5,502.5M977.5,649 1055,638.8 1132.5,628 1200,613.8 1245,600.5M990,600 997.5,590 1005,580 1012.5,570 1020,568M1046.2,583.8 1052.5,595 1062.5,602.5 1080,612.5 1090,605 1075,620 1055,638.8M1090,605 1105,600 1120,590 1130,580 1132.5,565 1140,557.5 1145,540 1155,535 1160,522.5 1170,517.5 1180,522.5 1187.5,515 1182.5,512.5M1182.5,512.5 1192.5,522.5 1200,535 1205,545 1215,550 1225,557.5 1230,565M1132.5,628 1140,612.5 1135,605 1145,590 1155,575 1165,560 1175,550 1187.5,540 1197.5,535M1167.5,590 1172.5,600 1180,612.5 1177.5,618M1200,613.8 1202.5,590 1207.5,570 1205,557.5 1200,535M1116.2,647.5 1135,646.2 1155,642.5 1170,641.2 1185,637.5 1192.5,640M1115,661.2 1140,657.5 1167.5,652.5 1172.5,657.5 1170,665M1170,665 1187.5,652.5 1200,640 1197.5,627.5 1200,613.8M1112.5,676.2 1122.5,675 1130,682.5 1140,681.2 1170,676.2 1177.5,681.2 1200,701.2M1170,676.2 1172.5,665M1187.5,652.5 1205,657.5 1217.5,660 1227.5,665M1185,637.5 1205,635 1220,633.8 1232.5,640M1197.5,627.5 1220,625 1230,615M977.5,702.5 1066.2,695 1067.5,710 1075,720 1080,725 1072.5,730 1062.5,735 1063.8,762.5M1007.5,515 1020,513.5M1007.5,515 1010,540 1020,541.8M985,527.5 1007.5,522.5M985,527.5 987.5,550 997.5,557.5 995,570 987.5,570M1010,540 1012.5,570M1002.5,585 1010,600 1007.5,612.5 1022.5,627.5 1020,645M1022.5,627.5 1037.5,610 1045,590 1046.2,583.8M1055,640 1070,622.5 1090,605M1180,522.5 1185,535 1187.5,540M1197.5,535 1205,522.5 1215,515 1227.5,503.8M96.2,557.5 95,567.5M53.8,517.5 55,530 62.5,545 65,557.5 70,567.5 75,570 77.5,577.5 75,582.5 80,595 77.5,610 82.5,625 87.5,640 95,655 100,667.5 97.5,680 105,687.5 117.5,692.5 127.5,702.5 140,710 150,720 160,727.5 170,740 176.2,755 175,766.2 195,767.5 240,770 237.5,775 272.5,796.2 335,827.5 390,835 402.5,835.8M70,567.5 77.5,565 87.5,563 95,567.5M141.2,548.8 255,697.5M136.2,531.2 142.5,550M150,517.5 141.2,548.8M96.2,567.5 102.5,595 110,620 117.5,645 120,663.8 135,677.5 148.8,683.8M101.2,560 115,550 140,551.2 152.5,577.5 162.5,597.5 170,620 173.8,645 168.8,662.5 157.5,677.5 148.8,683.8M101.2,667.5 112.5,663.8 120,663.8M148.8,683.8 157.5,692.5 165,702.5 177.5,706.2 182.5,712.5 190,707.5 197.5,710 190,720 187.5,727.5 191.2,745 193.8,767M160,568.8 167.5,567.5 168.8,587.5 157.5,591.2M166.2,568.8 168.8,552.5 200,553.8 245,562.5 260,580 287.5,585M200,553.8 202.5,545 210,535 212.5,517.5M298.8,517.5 287.5,585 281.2,632.5 280,640 277.5,660 265,665 260,670 258.8,690 255,697.5 257.5,710 265,723.8 255,727.5 250,740 243.8,752.5 246.2,762.5 245,770M281.2,631.2 292.5,628.8 308.8,632.5 306.2,638.8 281.2,639.5M203.8,625 210,622.5 220,632.5 230,642.5 235,652.5 237.5,658.8 240,645 247.5,642.5 252.5,622.5 260,627.5 265,620 270,625 268.8,637.5 277.5,635M280,639.5 317.5,643.8 402.5,653M333.2,518.2 325,528.2 323.2,535 328.2,543.2 335,560 327.5,577.5 320,595 310,612.5 300,620 292.5,628M335,560 350,558.8 360,572.5 355,590 352.5,605 365,612.5 372.5,615 362.5,625 350,635 337.5,645M350,517.5 352.5,540 355,557.5 360,572.5 375,565 382.5,565 390,572.5 402.5,575M382.5,565 380,550 385,542.5 402.5,540M317.5,643.8 312.5,655 307.5,665 292.5,672.5 290,690 287.5,715 285,727.5 275,782.5 272.5,796.2M265,725 280,727.5 285,727M290,690 300,697.5 310,702.5 315,710 327.5,712.5 331.2,725 327.5,735 330,740M285,736.2 307.5,742.5 330,740 337.5,755 343.8,775 352.5,772.5 353.8,762.5 367.5,760 370,746.2 362.5,745 350,742.5 348.8,735 331.2,732.5M367.5,760 377.5,760 390,756.2 397.5,755M276.2,781.2 352.5,791.2 352.5,772.5M588.8,525.5 630,525 631.2,546.2 637.5,553.2 632.5,567.5 588.8,568ZM586.5,625 648.8,623.2 651.2,665 585.5,664ZM418.8,527.5 405,652.5M377.5,650 405,652.5 560,665 585.5,664M587.5,537.5 588.8,568 586.5,625 585.5,664M472.5,531.2 476.2,545 487.5,552.5 496.2,546.2 498.8,557.5 490,567.5 495,575 487.5,582.5 477.5,587.5 478.8,600 475,610 480,616.2M480,595 490,605 510,597.5 516.2,592.5 530,592.5 545,587.5 555,572.5 560,557.5 565,545 577.5,540 587.5,538.8M545,587.5 560,595 572.5,602.5 577.5,615 586,625M478.8,615 467.5,622.5 455,630 445,632.5 455,637.5 465,645 471.2,655 472.5,658.8M480,616.2 490,625 497.5,635 497.5,642.5 505,646.2 506.2,661.2M415,538.8 400,540 385,542.5 381.2,552.5 382.5,565 390,572.5 405,573.8 413.8,568.8ZM630,525 632.5,515 677.5,511.2 678.8,477.5M677.5,511.2 678.8,567.5M631.2,546.2 677.5,543.8 710,541.2 712.5,550 720,548.8 721.2,540 735,538.8M678.8,521.2 690,518.8 691.2,512.5 725,510 730,515M588.8,568 632.5,567.5 715,566.2 742.5,565.5M588.8,597.5 648.8,595 652.5,594.5M648.8,568 650,595 648.8,623.2M560,665 558.8,680 555,730 553.2,757.5M560,679.5 636.2,682 637.5,692.5M637,682.5 637.5,712.5 623.8,713.8 622.5,723.8 608.8,725 610,750 608.8,757M405,652.5 400,730 398,757.5M457.5,658.8 456.2,680 445,687.5 432.5,702.5 420,705 417.5,730 401.2,731.2M432.5,702.5 450,707.5 462.5,705 467.5,712.5 490,713.8 497.5,710 505,708.8M538.8,665 540,675 530,687.5 525,680 516.2,680 515,695 516.2,705 505,708.8M505,708.8 520,720 530,735 532.5,752.5 540,767.5 552.5,775M450,707.5 442.5,720 447.5,730 440,740 445,755M467.5,712.5 465,727.5 470,740 460,750 472.5,760M497.5,710 502.5,727.5 497.5,742.5 492.5,755M337.5,827 390,835 412.5,836.2 413.8,823.8 456.2,825M393.8,757.5 390,835M456.2,820 457.5,826.2 470,840 485,855 500,867.5 505,882.5 510,895 525,907.5 537.5,916.2 546.2,921.2 553.8,915 560,900 570,893.8 580,895 587.5,896.2 595,896.2 605,906.2 617.5,917.5M456.2,820 505,821.2 555,822.5 556.2,757.5M555,822.5 573.8,822.5 575,853.8 586.2,862.5 590,872.5 587.5,896.2M575,836.2 601.2,836.2 601.2,823.8 618,823.8M610,757.5 610,780 595,781.2 595,795 590,796.2 590,808.8 601.2,810 601.2,823.8M337.5,792.5 351.2,791.2 352.5,757.5M397.5,770 402.5,765 405,775 415,790 422.5,797.5 427.5,795 430,780 440,775 445,780 447.5,797.5 460,812.5 462.5,805 465,785 470,770 475,757.5M480,757.5 482.5,780 480,797.5 485,807.5 495,802.5 497.5,785 495,770 490,757.5M495,802.5 505,821.2M532.5,757.5 537.5,770 547.5,775 555.5,775M1126.7,904.2 1140,900 1143.3,895 1156.7,890.8 1181.7,884.7 1184.2,886.7 1193.3,901.7 1200.8,917 1186.7,921.7 1175,923.3 1170,930.8 1153.3,933.3 1145.8,937.5 1140,935 1135.8,926.7 1133.3,920 1136.7,913.3 1130,910ZM1126.2,874.8 1126.7,890 1125.8,903.3 1126.7,904.2M1161.7,853.8 1173.3,866.7 1178.3,875 1183.3,885M1145.8,937.5 1150,941.7 1155,948.3 1160,946.7 1161.7,956.7 1166.7,963.3 1170,969.2 1176.7,969.2 1183.3,975 1188.3,981.7 1191.7,986.7 1196.7,990 1203.3,989.2 1210,986.7 1216.7,983.3 1219.2,976.7 1218.3,966.7 1216.7,956.7 1215.8,943.3 1211.7,930 1206.7,921.7 1200.8,917M1196.7,921.7 1201.7,933.3 1205,946.7 1206.7,960 1205,973.3 1201.7,986.7M1201.7,918.3 1208.3,930 1211.7,946.7 1212.5,960 1211.7,973.3 1206.7,985M246.7,396.7 253.3,380 261.7,365 265.8,357.5M245,395.8 251.7,386.7 260,380 266.7,379.2 270.8,385 270.8,393.3 266.7,400 264.2,408.3 265,416.7 268.3,426.7 273.3,435 281.7,440.8 280.8,445 279.2,449.2M243,425 248.3,433.3 256.7,441.7 266.7,447.5 279.2,449.2 285,456.7 293.3,465 301.7,471.7 304.2,480M281.7,441.3 293.3,438.3 305,434.2 316.7,430.8 326.7,427.5 336.7,422.5 341.7,416.7 343.3,410 342.5,407.5M325.3,368 320,378.3 313.3,388.3 310.8,400 312.5,410 316.7,418.3 323.3,426.7 326.7,427.5M316.7,431.2 321.3,443.3 321.7,456.7 317.5,466.7 311.7,471.7 305,473M343.3,408.3 356.7,410 366.7,412.5 371.7,416.7 368.3,423.3 361.7,433.3 353.3,446.7 345,456.7 333.3,466.7 323.3,473.3 316.7,472.8M718.8,486.2 766.2,482M1079.4,724.4 1087.5,728.1 1095,729.6 1103.8,727.5 1106.2,725M1075,701.2 1081.2,702.5 1086.2,706.2 1092.5,712.5 1100,720 1106.2,725 1112.5,730 1120,736.2 1125,740 1131.2,745 1136.2,753.8 1141.2,758.8 1145,765 1148.8,768.8 1151.9,770.6M1075,701.2 1076.2,695 1082.5,688.8 1091.2,683.8 1098.8,680.6 1095,685 1086.2,690 1080,696.2 1076.9,700ZM1095,729.6 1097.5,740 1102.5,750 1106.2,757.5 1103.8,763.8 1111.9,770M1092.5,712.5 1095,707.5 1102.5,701.2 1110,703.8 1115,706.2 1118.8,697.5 1122.5,696.2M1122.5,677.5 1121.9,685 1123.8,696.2 1127.5,703.8 1126.2,710 1126.9,716.2 1131.2,722.5 1133.1,726.2 1130,732.5 1125,740M1122.5,677.5 1127.5,675 1133.8,676.2 1137.5,681.2 1145,683.8 1150,691.2 1153.8,696.2 1150,702.5 1145,703.8 1140,701.2 1135,703.8 1127.5,703.8M1153.8,696.2 1160,701.2 1166.2,707.5 1167.5,713.8 1165,720 1160,727.5 1155,732.5 1148.8,736.2 1142.5,732.5 1135,729.4 1133.1,726.2M1165,720 1175,723.8 1186.2,728.1M1125,740 1131.2,736.2 1137.5,733.8 1142.5,732.5M1167.5,677.5 1173.8,667.5 1175,658.8M1160,755 1155,762.5 1151.9,770.6M1098.8,458.8 1112.5,448.5 1115,452.5 1132.5,448.8 1166.2,443.1 1169.4,457.5 1161.2,460 1157.5,461.2 1150,460 1138.8,461.9 1136.9,468.1 1143.1,471.2 1144.4,476.2 1144.4,483.8 1136.2,483.1 1130,481.9 1125,480 1118.8,480 1112.5,481.9 1102.5,483.1 1100.6,472.5ZM1098.8,458.8 1100.6,472.5 1102.5,483.1 1106.2,501.2 1110,515 1115,528.8 1155,518.8 1171.2,515 1200,507.8M1106.2,501.2 1107.5,507.5 1106.2,515 1105,525 1102.5,535 1100,545 1098.1,556.2 1087.5,554.8 1082.5,560 1081.2,572.5 1077.5,577.5 1072.5,580 1065,572.5 1060,570 1052.5,575 1046.2,572.5 1041.2,576.2 1032.5,572.5 1026.2,567.5 1020,565M1033.8,481.2 1037.5,505 1038.1,515 1038.8,527.5 1040,546.2 1041.2,558.8 1042.5,575M1037.5,509.4 1052.5,506.2 1053.8,498.8 1057.5,496.2 1063.8,495 1067.5,490 1068.8,482.5 1067.5,479.8M1053.8,498.8 1056.2,510 1055.6,518.8 1070,521.2 1081.2,517.5 1080,505 1078.8,495 1067.5,495M1078.8,495 1090,490 1093.8,486.2 1102.5,483.1M1081.2,517.5 1095,515 1106.2,516.2M1070,521.2 1067.5,530 1063.8,532.5 1067.5,538.8 1061.2,545 1061.2,552.5 1070,557.5 1076.2,555 1086.2,552.5 1087.5,554.8M1040,546.2 1045,548.8 1051.2,546.2 1061.2,546.2M1020,540 1027.5,540 1038.8,542.5M1072.5,580 1073.8,590 1076.2,601.2M1098.1,556.2 1107.5,565 1112.5,568.8 1118.8,563.8 1126.2,557.5 1132.5,550 1133.8,540 1130,532.5 1131.2,526.2M1100,557.5 1101.2,546.2 1107.5,537.5 1115,532.5M1137.5,526.2 1140,535 1143.8,537.5 1147.5,527.5 1150,521.9M1150,527.5 1148.8,540 1146.2,552.5 1143.8,562.5 1140,572.5 1137.5,583.8 1132.5,601.2M1157.5,550 1152.5,560 1150,572.5 1146.2,583.8 1142.5,601.2M1170,515 1167.5,527.5 1165,540 1160,548.8 1157.5,550 1163.8,555 1167.5,562.5 1173.8,565 1182.5,562.5 1188.8,555 1195,548.8 1200,546.2M1173.8,565 1171.2,575 1167.5,583.8 1170,593.8 1172.5,601.2M1112.5,568.8 1107.5,577.5 1102.5,587.5 1100,601.2M1122.5,577.5 1117.5,585 1112.5,593.8 1110,601.2M1144.4,483.8 1147.5,486.2 1146.2,495 1143.8,502.5 1150,503.8 1153.8,510 1155,518.8M1147.5,486.2 1157.5,485 1171.2,483.8 1172.5,492.5 1175,502.5 1171.2,515M1171.2,483.8 1177.5,477.5 1182.5,471.2 1181.2,465 1172.5,458.8 1169.4,457.5M1175,502.5 1182.5,497.5 1192.5,493.8 1200,490M1182.5,471.2 1187.5,476.2 1186.2,483.8 1195,477.5 1200,476.2M1169.4,457.5 1177.5,455 1186.2,451.9 1192.5,456.2 1200,458.8M1166.2,443.1 1200,437.2M1131.2,438.8 1132.5,448.8M1216.2,431.2 1218.3,428.3 1224.4,431.1 1227.8,436.7 1229.4,441.1 1237.8,443.9 1246.7,446.1 1257.8,449.4 1260,450M1237.8,443.9 1235.6,450 1233.3,456.7 1232.2,462.2 1233.3,468.9 1237.8,473.3 1243.3,476.7 1246.7,478.9 1245.6,482.2 1242.2,486.7 1238.9,492.2 1233.3,496.7 1228.9,497.8 1227.8,501.1 1226.7,504.4M1260,468.9 1261.1,477.8 1260,488.9 1257.8,500 1254.4,512.2 1252.8,518.9M1255.6,465.6 1252.2,468.9 1251.1,473.3 1246.7,478.3M1228.9,497.8 1232.2,502.2 1234.4,507.8 1240,511.1 1246.7,512.8 1252.2,512.8M1262.2,418.9 1264.4,431.1 1266.7,441.1 1265.6,447.8M1272.2,418.9 1276.7,424.4 1275.6,431.1 1268.9,434.4 1266.7,441.1M1248.9,418.9 1248.9,426.7 1246.7,433.3 1243.3,440 1240.6,443.9M1215.6,428.9 1217.8,434.4 1216.7,440 1212.2,443.3 1210,448.9 1203.3,453.3 1200,457.8 1201.1,458.9 1194.4,457.8 1188.9,453.3 1185.6,451.7 1180,455.6M1201.1,458.9 1205.6,464.4 1205.6,468.9 1198.9,475.6 1196.7,480 1198.9,482.2 1194.4,491.1 1193.3,493.3 1202.2,497.8 1210,503.3 1212.2,505.6M1205.6,468.9 1213.3,464.4 1216.7,458.9 1222.2,463.3 1224.4,465.6 1228.9,462.2 1232.2,462.2M1198.9,482.2 1207.8,480 1214.4,475.6 1221.1,476.7 1227.8,478.9 1232.2,472.2 1233.3,468.9M1180,436.7 1185.6,434.4 1192.2,435 1194.4,433.9M1192.2,435 1196.7,426.7 1197.8,422.2 1194.4,418.9M1212.2,505.6 1226.7,502.8M1240.6,515.6 1246.7,520 1251.1,526.7 1254.4,533.3 1255.6,540 1253.3,548.9 1251.1,563.3M1237.8,540 1255.6,537.8M1180,512.2 1183.3,520 1186.7,526.7 1194.4,531.1 1202.2,534.4 1198.9,542.2 1193.3,551.1 1186.7,563.3M920.3,341 921,351.7 923,361.7 925.3,370.8 927,375.3M852.5,875 857.5,871.2 866.2,868.1 875,870 881.2,871.9 883.8,877.5 890,881.2 888.8,887.5 885,890 880,893.1 875,890 868.8,886.2 862.5,883.8 857.5,880ZM881.2,871.9 895,870.6 903.8,871.9 906.2,873.8 915,873.8 918.8,871.2 923.8,873.8 930,871.2 933.8,875 932.5,880 927.5,885 940,892.5 946.2,896.2 945,901.2 937.5,898.8 927.5,893.8 920,890 915,891.2 917.5,898.8 912.5,903.8 907.5,898.8 901.2,901.2 895,905 887.5,903.8 883.8,898.8 885,890 888.8,887.5 890,881.2 883.8,877.5ZM852.5,875 857.5,880 856.2,887.5 862.5,890 866.2,893.8 857.5,893.1 852.5,895 838.8,893.8"/>
<path class="tk" d="M146.2,253.8 136.2,275M150,255 140,276.2M153.1,256.9 143.8,277.5M142.5,255 133.8,273.8M108.8,275 113.8,276.2M108.1,285 113.1,286.2M107.5,292.5 110,293.8M155.2,227.3 156.2,230.3M153.2,236.4 156.2,238.4M155.2,244.5 157.3,250.6M172.3,226 170.5,235.4 183.1,237.2 176.5,245.5 171.5,253.7 168.9,259.7M992.7,849.7 1001,849.3M1013.5,846.6 1019.8,847.2M1032.3,850.8 1038.6,856M903,680 897.8,697.2 892.6,710.9 887.5,724.7 877.2,743.6 872,755.6 873.7,769.3 877.2,783.1 882.3,798.6 877.2,812.3 870.3,826 868.6,839.8 867.7,848M1320,332.5 1330,327.5M1345,306.2 1355,300M1360,295 1370,286.2M934.4,361.8 937.6,364.9M964.7,382.7 966.8,387.9M1044,483.9 1049.2,482.8M1227.5,503.8 1220,515 1215,527.5 1205,540 1200,547.5M1230,515 1225,527.5 1227.5,540 1230,552.5 1232.5,570 1235,585 1242.5,590M1220,522.5 1217.5,535 1222.5,545M1210,547.5 1217.5,555 1225,565 1230,575M1215,560 1220,575 1227.5,587.5M1240,522.5 1237.5,540 1242.5,552.5 1240,575M1232.5,615 1240,612.5 1245,620 1237.5,625M1232.5,640 1242.5,637.5 1247.5,642.5M1232.5,652.5 1242.5,652.5 1250,652.5M75,570 80,580M93.8,566.2 100,570M1176.7,995.8 1185,995.8 1193.3,993.3 1203.3,990M1177.5,873.3 1183.3,881.7M1128.3,910 1135,913.3M1146.7,938.3 1153.3,941.7M1156.2,756.2 1160,760M1042.5,483.8 1050,483.1M1257.8,453.3 1264.4,446.7 1272.2,440M1290,441.1 1295.6,435.6M1226.7,504.4 1222.2,508.9 1216.7,515.6 1212.2,522.2 1208.9,528.9 1205.6,535.6 1202.2,542.2 1200,548.9M1224.4,508.9 1222.2,520 1223.3,531.1 1226.7,537.8 1228.9,542.2 1235.6,547.8 1240,551.1M1218.9,520 1221.1,528.9 1224.4,535.6M1200,548.9 1208.9,545.6 1216.7,551.1 1224.4,555.6 1228.9,563.3M964.2,380 966.7,388.3M931.7,361.7 938.3,364.2M918.8,871.2 923.8,873.8M936.2,903.8 937.5,907.5"/>
</g>
</svg>
</body></html>
